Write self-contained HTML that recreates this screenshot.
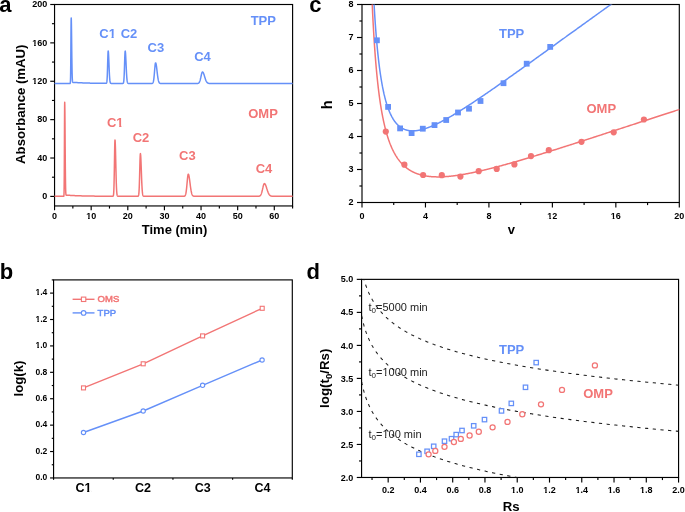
<!DOCTYPE html>
<html><head><meta charset="utf-8"><title>Figure</title><style>
html,body{margin:0;padding:0;background:#fff;width:685px;height:512px;overflow:hidden}
svg{display:block;will-change:transform}
text{font-family:"Liberation Sans", sans-serif}
</style></head><body>
<svg width="685" height="512" viewBox="0 0 685 512">
<rect width="685" height="512" fill="#fff"/>
<rect x="54.55" y="4.50" width="238.05" height="201.45" fill="none" stroke="#000" stroke-width="1.15"/>
<line x1="50.25" y1="196.40" x2="54.55" y2="196.40" stroke="#000" stroke-width="1.15" />
<text x="47.25" y="199.10" font-size="9" font-weight="bold" text-anchor="end" fill="#000" >0</text>
<line x1="50.25" y1="158.02" x2="54.55" y2="158.02" stroke="#000" stroke-width="1.15" />
<text x="47.25" y="160.72" font-size="9" font-weight="bold" text-anchor="end" fill="#000" >40</text>
<line x1="50.25" y1="119.64" x2="54.55" y2="119.64" stroke="#000" stroke-width="1.15" />
<text x="47.25" y="122.34" font-size="9" font-weight="bold" text-anchor="end" fill="#000" >80</text>
<line x1="50.25" y1="81.26" x2="54.55" y2="81.26" stroke="#000" stroke-width="1.15" />
<text x="47.25" y="83.96" font-size="9" font-weight="bold" text-anchor="end" fill="#000" >120</text>
<line x1="50.25" y1="42.88" x2="54.55" y2="42.88" stroke="#000" stroke-width="1.15" />
<text x="47.25" y="45.58" font-size="9" font-weight="bold" text-anchor="end" fill="#000" >160</text>
<line x1="50.25" y1="4.50" x2="54.55" y2="4.50" stroke="#000" stroke-width="1.15" />
<text x="47.25" y="7.20" font-size="9" font-weight="bold" text-anchor="end" fill="#000" >200</text>
<line x1="51.95" y1="177.21" x2="54.55" y2="177.21" stroke="#000" stroke-width="1.15" />
<line x1="51.95" y1="138.83" x2="54.55" y2="138.83" stroke="#000" stroke-width="1.15" />
<line x1="51.95" y1="100.45" x2="54.55" y2="100.45" stroke="#000" stroke-width="1.15" />
<line x1="51.95" y1="62.07" x2="54.55" y2="62.07" stroke="#000" stroke-width="1.15" />
<line x1="51.95" y1="23.69" x2="54.55" y2="23.69" stroke="#000" stroke-width="1.15" />
<line x1="54.55" y1="205.95" x2="54.55" y2="210.25" stroke="#000" stroke-width="1.15" />
<text x="54.55" y="219.00" font-size="9" font-weight="bold" text-anchor="middle" fill="#000" >0</text>
<line x1="91.17" y1="205.95" x2="91.17" y2="210.25" stroke="#000" stroke-width="1.15" />
<text x="91.17" y="219.00" font-size="9" font-weight="bold" text-anchor="middle" fill="#000" >10</text>
<line x1="127.80" y1="205.95" x2="127.80" y2="210.25" stroke="#000" stroke-width="1.15" />
<text x="127.80" y="219.00" font-size="9" font-weight="bold" text-anchor="middle" fill="#000" >20</text>
<line x1="164.42" y1="205.95" x2="164.42" y2="210.25" stroke="#000" stroke-width="1.15" />
<text x="164.42" y="219.00" font-size="9" font-weight="bold" text-anchor="middle" fill="#000" >30</text>
<line x1="201.04" y1="205.95" x2="201.04" y2="210.25" stroke="#000" stroke-width="1.15" />
<text x="201.04" y="219.00" font-size="9" font-weight="bold" text-anchor="middle" fill="#000" >40</text>
<line x1="237.67" y1="205.95" x2="237.67" y2="210.25" stroke="#000" stroke-width="1.15" />
<text x="237.67" y="219.00" font-size="9" font-weight="bold" text-anchor="middle" fill="#000" >50</text>
<line x1="274.29" y1="205.95" x2="274.29" y2="210.25" stroke="#000" stroke-width="1.15" />
<text x="274.29" y="219.00" font-size="9" font-weight="bold" text-anchor="middle" fill="#000" >60</text>
<line x1="72.86" y1="205.95" x2="72.86" y2="208.55" stroke="#000" stroke-width="1.15" />
<line x1="109.48" y1="205.95" x2="109.48" y2="208.55" stroke="#000" stroke-width="1.15" />
<line x1="146.11" y1="205.95" x2="146.11" y2="208.55" stroke="#000" stroke-width="1.15" />
<line x1="182.73" y1="205.95" x2="182.73" y2="208.55" stroke="#000" stroke-width="1.15" />
<line x1="219.35" y1="205.95" x2="219.35" y2="208.55" stroke="#000" stroke-width="1.15" />
<line x1="255.98" y1="205.95" x2="255.98" y2="208.55" stroke="#000" stroke-width="1.15" />
<line x1="292.60" y1="205.95" x2="292.60" y2="208.55" stroke="#000" stroke-width="1.15" />
<text x="174.50" y="233.60" font-size="13" font-weight="bold" text-anchor="middle" fill="#000" >Time (min)</text>
<text x="0.00" y="0.00" font-size="13.2" font-weight="bold" text-anchor="middle" fill="#000" transform="translate(25.0,104.2) rotate(-90)">Absorbance (mAU)</text>
<path d="M54.55,83.50 L54.64,83.50 L54.73,83.50 L54.82,83.50 L54.92,83.50 L55.01,83.50 L55.10,83.50 L55.19,83.50 L55.28,83.50 L55.37,83.50 L55.47,83.50 L55.56,83.50 L55.65,83.50 L55.74,83.50 L55.83,83.50 L55.92,83.50 L56.01,83.50 L56.11,83.50 L56.20,83.50 L56.29,83.50 L56.38,83.50 L56.47,83.50 L56.56,83.50 L56.66,83.50 L56.75,83.50 L56.84,83.50 L56.93,83.50 L57.02,83.50 L57.11,83.50 L57.21,83.50 L57.30,83.50 L57.39,83.50 L57.48,83.50 L57.57,83.50 L57.66,83.50 L57.75,83.50 L57.85,83.50 L57.94,83.50 L58.03,83.50 L58.12,83.50 L58.21,83.50 L58.30,83.50 L58.40,83.50 L58.49,83.50 L58.58,83.50 L58.67,83.50 L58.76,83.50 L58.85,83.50 L58.94,83.50 L59.04,83.50 L59.13,83.50 L59.22,83.50 L59.31,83.50 L59.40,83.50 L59.49,83.50 L59.59,83.50 L59.68,83.50 L59.77,83.50 L59.86,83.50 L59.95,83.50 L60.04,83.50 L60.14,83.50 L60.23,83.50 L60.32,83.50 L60.41,83.50 L60.50,83.50 L60.59,83.50 L60.68,83.50 L60.78,83.50 L60.87,83.50 L60.96,83.50 L61.05,83.50 L61.14,83.50 L61.23,83.50 L61.33,83.50 L61.42,83.50 L61.51,83.50 L61.60,83.50 L61.69,83.50 L61.78,83.50 L61.87,83.50 L61.97,83.50 L62.06,83.50 L62.15,83.50 L62.24,83.50 L62.33,83.50 L62.42,83.50 L62.52,83.50 L62.61,83.50 L62.70,83.50 L62.79,83.50 L62.88,83.50 L62.97,83.50 L63.06,83.50 L63.16,83.50 L63.25,83.50 L63.34,83.50 L63.43,83.50 L63.52,83.50 L63.61,83.50 L63.71,83.50 L63.80,83.50 L63.89,83.50 L63.98,83.50 L64.07,83.50 L64.16,83.50 L64.26,83.50 L64.35,83.50 L64.44,83.50 L64.53,83.50 L64.62,83.50 L64.71,83.50 L64.80,83.50 L64.90,83.50 L64.99,83.50 L65.08,83.50 L65.17,83.50 L65.26,83.50 L65.35,83.50 L65.45,83.50 L65.54,83.50 L65.63,83.50 L65.72,83.50 L65.81,83.50 L65.90,83.50 L65.99,83.50 L66.09,83.50 L66.18,83.50 L66.27,83.50 L66.36,83.50 L66.45,83.50 L66.54,83.50 L66.64,83.50 L66.73,83.50 L66.82,83.50 L66.91,83.50 L67.00,83.50 L67.09,83.50 L67.18,83.50 L67.28,83.50 L67.37,83.50 L67.46,83.50 L67.55,83.50 L67.64,83.50 L67.73,83.50 L67.83,83.50 L67.92,83.50 L68.01,83.50 L68.10,83.50 L68.19,83.50 L68.28,83.50 L68.38,83.50 L68.47,83.50 L68.56,83.50 L68.65,83.50 L68.74,83.50 L68.83,83.50 L68.92,83.50 L69.02,83.50 L69.11,83.50 L69.20,83.50 L69.29,83.50 L69.38,83.50 L69.47,83.50 L69.57,83.50 L69.66,83.50 L69.75,83.50 L69.84,83.50 L69.93,83.49 L70.02,83.48 L70.11,83.43 L70.21,83.29 L70.30,82.93 L70.39,82.07 L70.48,80.27 L70.57,76.88 L70.66,71.18 L70.76,62.72 L70.85,51.72 L70.94,39.41 L71.03,28.02 L71.12,20.19 L71.21,17.91 L71.31,19.38 L71.40,23.17 L71.49,28.84 L71.58,35.80 L71.67,43.40 L71.76,51.00 L71.85,58.09 L71.95,64.29 L72.04,69.44 L72.13,73.49 L72.22,76.53 L72.31,78.69 L72.40,80.17 L72.50,81.13 L72.59,81.72 L72.68,82.07 L72.77,82.27 L72.86,82.37 L72.95,82.42 L73.04,82.45 L73.14,82.45 L73.23,82.45 L73.32,82.45 L73.41,82.45 L73.50,82.44 L73.59,82.44 L73.69,82.44 L73.78,82.44 L73.87,82.44 L73.96,82.44 L74.05,82.44 L74.14,82.45 L74.23,82.45 L74.33,82.45 L74.42,82.45 L74.51,82.46 L74.60,82.46 L74.69,82.46 L74.78,82.47 L74.88,82.47 L74.97,82.48 L75.06,82.48 L75.15,82.49 L75.24,82.49 L75.33,82.50 L75.43,82.50 L75.52,82.51 L75.61,82.51 L75.70,82.52 L75.79,82.52 L75.88,82.53 L75.97,82.54 L76.07,82.54 L76.16,82.55 L76.25,82.55 L76.34,82.56 L76.43,82.56 L76.52,82.57 L76.62,82.57 L76.71,82.58 L76.80,82.59 L76.89,82.59 L76.98,82.60 L77.07,82.60 L77.16,82.61 L77.26,82.61 L77.35,82.62 L77.44,82.62 L77.53,82.63 L77.62,82.63 L77.71,82.64 L77.81,82.64 L77.90,82.65 L77.99,82.66 L78.08,82.66 L78.17,82.67 L78.26,82.67 L78.35,82.68 L78.45,82.68 L78.54,82.69 L78.63,82.69 L78.72,82.70 L78.81,82.70 L78.90,82.71 L79.00,82.71 L79.09,82.72 L79.18,82.72 L79.27,82.73 L79.36,82.73 L79.45,82.74 L79.55,82.74 L79.64,82.74 L79.73,82.75 L79.82,82.75 L79.91,82.76 L80.00,82.76 L80.09,82.77 L80.19,82.77 L80.28,82.78 L80.37,82.78 L80.46,82.79 L80.55,82.79 L80.64,82.80 L80.74,82.80 L80.83,82.80 L80.92,82.81 L81.01,82.81 L81.10,82.82 L81.19,82.82 L81.28,82.83 L81.38,82.83 L81.47,82.83 L81.56,82.84 L81.65,82.84 L81.74,82.85 L81.83,82.85 L81.93,82.85 L82.02,82.86 L82.11,82.86 L82.20,82.87 L82.29,82.87 L82.38,82.87 L82.48,82.88 L82.57,82.88 L82.66,82.89 L82.75,82.89 L82.84,82.89 L82.93,82.90 L83.02,82.90 L83.12,82.90 L83.21,82.91 L83.30,82.91 L83.39,82.92 L83.48,82.92 L83.57,82.92 L83.67,82.93 L83.76,82.93 L83.85,82.93 L83.94,82.94 L84.03,82.94 L84.12,82.94 L84.21,82.95 L84.31,82.95 L84.40,82.95 L84.49,82.96 L84.58,82.96 L84.67,82.96 L84.76,82.97 L84.86,82.97 L84.95,82.97 L85.04,82.98 L85.13,82.98 L85.22,82.98 L85.31,82.99 L85.40,82.99 L85.50,82.99 L85.59,83.00 L85.68,83.00 L85.77,83.00 L85.86,83.01 L85.95,83.01 L86.05,83.01 L86.14,83.02 L86.23,83.02 L86.32,83.02 L86.41,83.02 L86.50,83.03 L86.60,83.03 L86.69,83.03 L86.78,83.04 L86.87,83.04 L86.96,83.04 L87.05,83.04 L87.14,83.05 L87.24,83.05 L87.33,83.05 L87.42,83.06 L87.51,83.06 L87.60,83.06 L87.69,83.06 L87.79,83.07 L87.88,83.07 L87.97,83.07 L88.06,83.08 L88.15,83.08 L88.24,83.08 L88.33,83.08 L88.43,83.09 L88.52,83.09 L88.61,83.09 L88.70,83.09 L88.79,83.10 L88.88,83.10 L88.98,83.10 L89.07,83.10 L89.16,83.11 L89.25,83.11 L89.34,83.11 L89.43,83.11 L89.53,83.12 L89.62,83.12 L89.71,83.12 L89.80,83.12 L89.89,83.12 L89.98,83.13 L90.07,83.13 L90.17,83.13 L90.26,83.13 L90.35,83.14 L90.44,83.14 L90.53,83.14 L90.62,83.14 L90.72,83.15 L90.81,83.15 L90.90,83.15 L90.99,83.15 L91.08,83.15 L91.17,83.16 L91.26,83.16 L91.36,83.16 L91.45,83.16 L91.54,83.16 L91.63,83.17 L91.72,83.17 L91.81,83.17 L91.91,83.17 L92.00,83.18 L92.09,83.18 L92.18,83.18 L92.27,83.18 L92.36,83.18 L92.45,83.19 L92.55,83.19 L92.64,83.19 L92.73,83.19 L92.82,83.19 L92.91,83.19 L93.00,83.20 L93.10,83.20 L93.19,83.20 L93.28,83.20 L93.37,83.20 L93.46,83.21 L93.55,83.21 L93.65,83.21 L93.74,83.21 L93.83,83.21 L93.92,83.22 L94.01,83.22 L94.10,83.22 L94.19,83.22 L94.29,83.22 L94.38,83.22 L94.47,83.23 L94.56,83.23 L94.65,83.23 L94.74,83.23 L94.84,83.23 L94.93,83.23 L95.02,83.24 L95.11,83.24 L95.20,83.24 L95.29,83.24 L95.38,83.24 L95.48,83.24 L95.57,83.25 L95.66,83.25 L95.75,83.25 L95.84,83.25 L95.93,83.25 L96.03,83.25 L96.12,83.25 L96.21,83.26 L96.30,83.26 L96.39,83.26 L96.48,83.26 L96.57,83.26 L96.67,83.26 L96.76,83.27 L96.85,83.27 L96.94,83.27 L97.03,83.27 L97.12,83.27 L97.22,83.27 L97.31,83.27 L97.40,83.28 L97.49,83.28 L97.58,83.28 L97.67,83.28 L97.77,83.28 L97.86,83.28 L97.95,83.28 L98.04,83.28 L98.13,83.29 L98.22,83.29 L98.31,83.29 L98.41,83.29 L98.50,83.29 L98.59,83.29 L98.68,83.29 L98.77,83.30 L98.86,83.30 L98.96,83.30 L99.05,83.30 L99.14,83.30 L99.23,83.30 L99.32,83.30 L99.41,83.30 L99.50,83.31 L99.60,83.31 L99.69,83.31 L99.78,83.31 L99.87,83.31 L99.96,83.31 L100.05,83.31 L100.15,83.31 L100.24,83.31 L100.33,83.32 L100.42,83.32 L100.51,83.32 L100.60,83.32 L100.70,83.32 L100.79,83.32 L100.88,83.32 L100.97,83.32 L101.06,83.33 L101.15,83.33 L101.24,83.33 L101.34,83.33 L101.43,83.33 L101.52,83.33 L101.61,83.33 L101.70,83.33 L101.79,83.33 L101.89,83.33 L101.98,83.34 L102.07,83.34 L102.16,83.34 L102.25,83.34 L102.34,83.34 L102.43,83.34 L102.53,83.34 L102.62,83.34 L102.71,83.34 L102.80,83.34 L102.89,83.35 L102.98,83.35 L103.08,83.35 L103.17,83.35 L103.26,83.35 L103.35,83.35 L103.44,83.35 L103.53,83.35 L103.62,83.35 L103.72,83.35 L103.81,83.35 L103.90,83.36 L103.99,83.36 L104.08,83.36 L104.17,83.36 L104.27,83.36 L104.36,83.36 L104.45,83.36 L104.54,83.36 L104.63,83.36 L104.72,83.36 L104.82,83.36 L104.91,83.37 L105.00,83.37 L105.09,83.37 L105.18,83.37 L105.27,83.37 L105.36,83.37 L105.46,83.37 L105.55,83.37 L105.64,83.37 L105.73,83.37 L105.82,83.37 L105.91,83.37 L106.01,83.36 L106.10,83.35 L106.19,83.34 L106.28,83.31 L106.37,83.25 L106.46,83.16 L106.55,83.01 L106.65,82.79 L106.74,82.44 L106.83,81.94 L106.92,81.23 L107.01,80.25 L107.10,78.95 L107.20,77.29 L107.29,75.24 L107.38,72.79 L107.47,69.98 L107.56,66.88 L107.65,63.64 L107.75,60.40 L107.84,57.36 L107.93,54.72 L108.02,52.69 L108.11,51.41 L108.20,50.99 L108.29,51.24 L108.39,51.93 L108.48,53.04 L108.57,54.52 L108.66,56.32 L108.75,58.36 L108.84,60.57 L108.94,62.88 L109.03,65.22 L109.12,67.52 L109.21,69.72 L109.30,71.78 L109.39,73.67 L109.48,75.37 L109.58,76.87 L109.67,78.16 L109.76,79.25 L109.85,80.17 L109.94,80.92 L110.03,81.52 L110.13,82.00 L110.22,82.37 L110.31,82.65 L110.40,82.87 L110.49,83.03 L110.58,83.14 L110.67,83.23 L110.77,83.29 L110.86,83.33 L110.95,83.36 L111.04,83.38 L111.13,83.39 L111.22,83.40 L111.32,83.40 L111.41,83.41 L111.50,83.41 L111.59,83.41 L111.68,83.41 L111.77,83.42 L111.87,83.42 L111.96,83.42 L112.05,83.42 L112.14,83.42 L112.23,83.42 L112.32,83.42 L112.41,83.42 L112.51,83.42 L112.60,83.42 L112.69,83.42 L112.78,83.42 L112.87,83.42 L112.96,83.42 L113.06,83.42 L113.15,83.42 L113.24,83.42 L113.33,83.42 L113.42,83.42 L113.51,83.43 L113.60,83.43 L113.70,83.43 L113.79,83.43 L113.88,83.43 L113.97,83.43 L114.06,83.43 L114.15,83.43 L114.25,83.43 L114.34,83.43 L114.43,83.43 L114.52,83.43 L114.61,83.43 L114.70,83.43 L114.79,83.43 L114.89,83.43 L114.98,83.43 L115.07,83.43 L115.16,83.43 L115.25,83.43 L115.34,83.43 L115.44,83.43 L115.53,83.43 L115.62,83.44 L115.71,83.44 L115.80,83.44 L115.89,83.44 L115.99,83.44 L116.08,83.44 L116.17,83.44 L116.26,83.44 L116.35,83.44 L116.44,83.44 L116.53,83.44 L116.63,83.44 L116.72,83.44 L116.81,83.44 L116.90,83.44 L116.99,83.44 L117.08,83.44 L117.18,83.44 L117.27,83.44 L117.36,83.44 L117.45,83.44 L117.54,83.44 L117.63,83.44 L117.72,83.44 L117.82,83.44 L117.91,83.44 L118.00,83.44 L118.09,83.45 L118.18,83.45 L118.27,83.45 L118.37,83.45 L118.46,83.45 L118.55,83.45 L118.64,83.45 L118.73,83.45 L118.82,83.45 L118.92,83.45 L119.01,83.45 L119.10,83.45 L119.19,83.45 L119.28,83.45 L119.37,83.45 L119.46,83.45 L119.56,83.45 L119.65,83.45 L119.74,83.45 L119.83,83.45 L119.92,83.45 L120.01,83.45 L120.11,83.45 L120.20,83.45 L120.29,83.45 L120.38,83.45 L120.47,83.45 L120.56,83.45 L120.65,83.45 L120.75,83.45 L120.84,83.45 L120.93,83.45 L121.02,83.46 L121.11,83.46 L121.20,83.46 L121.30,83.46 L121.39,83.46 L121.48,83.46 L121.57,83.46 L121.66,83.46 L121.75,83.46 L121.84,83.46 L121.94,83.46 L122.03,83.46 L122.12,83.46 L122.21,83.46 L122.30,83.46 L122.39,83.46 L122.49,83.46 L122.58,83.46 L122.67,83.45 L122.76,83.45 L122.85,83.43 L122.94,83.42 L123.04,83.38 L123.13,83.33 L123.22,83.26 L123.31,83.14 L123.40,82.96 L123.49,82.71 L123.58,82.34 L123.68,81.84 L123.77,81.17 L123.86,80.28 L123.95,79.14 L124.04,77.71 L124.13,75.99 L124.23,73.95 L124.32,71.61 L124.41,69.02 L124.50,66.24 L124.59,63.36 L124.68,60.51 L124.77,57.81 L124.87,55.40 L124.96,53.43 L125.05,52.00 L125.14,51.21 L125.23,51.09 L125.32,51.39 L125.42,52.04 L125.51,53.02 L125.60,54.29 L125.69,55.81 L125.78,57.54 L125.87,59.43 L125.97,61.42 L126.06,63.48 L126.15,65.54 L126.24,67.56 L126.33,69.51 L126.42,71.36 L126.51,73.08 L126.61,74.65 L126.70,76.06 L126.79,77.32 L126.88,78.42 L126.97,79.37 L127.06,80.18 L127.16,80.85 L127.25,81.41 L127.34,81.87 L127.43,82.24 L127.52,82.54 L127.61,82.77 L127.70,82.95 L127.80,83.09 L127.89,83.19 L127.98,83.27 L128.07,83.33 L128.16,83.37 L128.25,83.40 L128.35,83.42 L128.44,83.44 L128.53,83.45 L128.62,83.46 L128.71,83.46 L128.80,83.47 L128.89,83.47 L128.99,83.47 L129.08,83.47 L129.17,83.47 L129.26,83.47 L129.35,83.47 L129.44,83.47 L129.54,83.47 L129.63,83.48 L129.72,83.48 L129.81,83.48 L129.90,83.48 L129.99,83.48 L130.09,83.48 L130.18,83.48 L130.27,83.48 L130.36,83.48 L130.45,83.48 L130.54,83.48 L130.63,83.48 L130.73,83.48 L130.82,83.48 L130.91,83.48 L131.00,83.48 L131.09,83.48 L131.18,83.48 L131.28,83.48 L131.37,83.48 L131.46,83.48 L131.55,83.48 L131.64,83.48 L131.73,83.48 L131.82,83.48 L131.92,83.48 L132.01,83.48 L132.10,83.48 L132.19,83.48 L132.28,83.48 L132.37,83.48 L132.47,83.48 L132.56,83.48 L132.65,83.48 L132.74,83.48 L132.83,83.48 L132.92,83.48 L133.01,83.48 L133.11,83.48 L133.20,83.48 L133.29,83.48 L133.38,83.48 L133.47,83.48 L133.56,83.48 L133.66,83.48 L133.75,83.48 L133.84,83.48 L133.93,83.48 L134.02,83.48 L134.11,83.48 L134.21,83.48 L134.30,83.48 L134.39,83.48 L134.48,83.48 L134.57,83.48 L134.66,83.48 L134.75,83.48 L134.85,83.48 L134.94,83.48 L135.03,83.48 L135.12,83.48 L135.21,83.48 L135.30,83.48 L135.40,83.48 L135.49,83.48 L135.58,83.48 L135.67,83.48 L135.76,83.48 L135.85,83.48 L135.94,83.48 L136.04,83.48 L136.13,83.48 L136.22,83.48 L136.31,83.48 L136.40,83.48 L136.49,83.48 L136.59,83.48 L136.68,83.48 L136.77,83.48 L136.86,83.48 L136.95,83.48 L137.04,83.48 L137.14,83.49 L137.23,83.49 L137.32,83.49 L137.41,83.49 L137.50,83.49 L137.59,83.49 L137.68,83.49 L137.78,83.49 L137.87,83.49 L137.96,83.49 L138.05,83.49 L138.14,83.49 L138.23,83.49 L138.33,83.49 L138.42,83.49 L138.51,83.49 L138.60,83.49 L138.69,83.49 L138.78,83.49 L138.87,83.49 L138.97,83.49 L139.06,83.49 L139.15,83.49 L139.24,83.49 L139.33,83.49 L139.42,83.49 L139.52,83.49 L139.61,83.49 L139.70,83.49 L139.79,83.49 L139.88,83.49 L139.97,83.49 L140.06,83.49 L140.16,83.49 L140.25,83.49 L140.34,83.49 L140.43,83.49 L140.52,83.49 L140.61,83.49 L140.71,83.49 L140.80,83.49 L140.89,83.49 L140.98,83.49 L141.07,83.49 L141.16,83.49 L141.26,83.49 L141.35,83.49 L141.44,83.49 L141.53,83.49 L141.62,83.49 L141.71,83.49 L141.80,83.49 L141.90,83.49 L141.99,83.49 L142.08,83.49 L142.17,83.49 L142.26,83.49 L142.35,83.49 L142.45,83.49 L142.54,83.49 L142.63,83.49 L142.72,83.49 L142.81,83.49 L142.90,83.49 L142.99,83.49 L143.09,83.49 L143.18,83.49 L143.27,83.49 L143.36,83.49 L143.45,83.49 L143.54,83.49 L143.64,83.49 L143.73,83.49 L143.82,83.49 L143.91,83.49 L144.00,83.49 L144.09,83.49 L144.18,83.49 L144.28,83.49 L144.37,83.49 L144.46,83.49 L144.55,83.49 L144.64,83.49 L144.73,83.49 L144.83,83.49 L144.92,83.49 L145.01,83.49 L145.10,83.49 L145.19,83.49 L145.28,83.49 L145.38,83.49 L145.47,83.49 L145.56,83.49 L145.65,83.49 L145.74,83.49 L145.83,83.49 L145.92,83.49 L146.02,83.49 L146.11,83.49 L146.20,83.49 L146.29,83.49 L146.38,83.49 L146.47,83.49 L146.57,83.49 L146.66,83.49 L146.75,83.49 L146.84,83.49 L146.93,83.49 L147.02,83.49 L147.11,83.49 L147.21,83.49 L147.30,83.49 L147.39,83.49 L147.48,83.49 L147.57,83.49 L147.66,83.49 L147.76,83.49 L147.85,83.49 L147.94,83.49 L148.03,83.49 L148.12,83.49 L148.21,83.49 L148.31,83.49 L148.40,83.49 L148.49,83.49 L148.58,83.49 L148.67,83.49 L148.76,83.49 L148.85,83.49 L148.95,83.49 L149.04,83.49 L149.13,83.49 L149.22,83.49 L149.31,83.49 L149.40,83.49 L149.50,83.49 L149.59,83.49 L149.68,83.49 L149.77,83.49 L149.86,83.49 L149.95,83.49 L150.04,83.49 L150.14,83.49 L150.23,83.49 L150.32,83.49 L150.41,83.49 L150.50,83.49 L150.59,83.49 L150.69,83.49 L150.78,83.49 L150.87,83.49 L150.96,83.49 L151.05,83.49 L151.14,83.49 L151.23,83.49 L151.33,83.49 L151.42,83.49 L151.51,83.49 L151.60,83.48 L151.69,83.48 L151.78,83.47 L151.88,83.47 L151.97,83.46 L152.06,83.44 L152.15,83.42 L152.24,83.40 L152.33,83.37 L152.43,83.32 L152.52,83.27 L152.61,83.20 L152.70,83.12 L152.79,83.01 L152.88,82.88 L152.97,82.72 L153.07,82.52 L153.16,82.29 L153.25,82.01 L153.34,81.68 L153.43,81.29 L153.52,80.84 L153.62,80.33 L153.71,79.75 L153.80,79.09 L153.89,78.37 L153.98,77.57 L154.07,76.70 L154.16,75.76 L154.26,74.76 L154.35,73.72 L154.44,72.64 L154.53,71.53 L154.62,70.42 L154.71,69.31 L154.81,68.23 L154.90,67.21 L154.99,66.25 L155.08,65.38 L155.17,64.61 L155.26,63.98 L155.36,63.48 L155.45,63.13 L155.54,62.93 L155.63,62.90 L155.72,62.97 L155.81,63.12 L155.90,63.35 L156.00,63.66 L156.09,64.05 L156.18,64.51 L156.27,65.03 L156.36,65.60 L156.45,66.23 L156.55,66.91 L156.64,67.63 L156.73,68.37 L156.82,69.14 L156.91,69.92 L157.00,70.72 L157.09,71.51 L157.19,72.31 L157.28,73.09 L157.37,73.86 L157.46,74.60 L157.55,75.33 L157.64,76.02 L157.74,76.68 L157.83,77.31 L157.92,77.91 L158.01,78.46 L158.10,78.98 L158.19,79.47 L158.28,79.91 L158.38,80.32 L158.47,80.70 L158.56,81.04 L158.65,81.34 L158.74,81.62 L158.83,81.87 L158.93,82.09 L159.02,82.28 L159.11,82.46 L159.20,82.61 L159.29,82.74 L159.38,82.86 L159.48,82.96 L159.57,83.04 L159.66,83.12 L159.75,83.18 L159.84,83.23 L159.93,83.28 L160.02,83.32 L160.12,83.35 L160.21,83.38 L160.30,83.40 L160.39,83.42 L160.48,83.43 L160.57,83.45 L160.67,83.46 L160.76,83.46 L160.85,83.47 L160.94,83.48 L161.03,83.48 L161.12,83.48 L161.21,83.49 L161.31,83.49 L161.40,83.49 L161.49,83.49 L161.58,83.49 L161.67,83.49 L161.76,83.50 L161.86,83.50 L161.95,83.50 L162.04,83.50 L162.13,83.50 L162.22,83.50 L162.31,83.50 L162.40,83.50 L162.50,83.50 L162.59,83.50 L162.68,83.50 L162.77,83.50 L162.86,83.50 L162.95,83.50 L163.05,83.50 L163.14,83.50 L163.23,83.50 L163.32,83.50 L163.41,83.50 L163.50,83.50 L163.60,83.50 L163.69,83.50 L163.78,83.50 L163.87,83.50 L163.96,83.50 L164.05,83.50 L164.14,83.50 L164.24,83.50 L164.33,83.50 L164.42,83.50 L164.51,83.50 L164.60,83.50 L164.69,83.50 L164.79,83.50 L164.88,83.50 L164.97,83.50 L165.06,83.50 L165.15,83.50 L165.24,83.50 L165.33,83.50 L165.43,83.50 L165.52,83.50 L165.61,83.50 L165.70,83.50 L165.79,83.50 L165.88,83.50 L165.98,83.50 L166.07,83.50 L166.16,83.50 L166.25,83.50 L166.34,83.50 L166.43,83.50 L166.53,83.50 L166.62,83.50 L166.71,83.50 L166.80,83.50 L166.89,83.50 L166.98,83.50 L167.07,83.50 L167.17,83.50 L167.26,83.50 L167.35,83.50 L167.44,83.50 L167.53,83.50 L167.62,83.50 L167.72,83.50 L167.81,83.50 L167.90,83.50 L167.99,83.50 L168.08,83.50 L168.17,83.50 L168.26,83.50 L168.36,83.50 L168.45,83.50 L168.54,83.50 L168.63,83.50 L168.72,83.50 L168.81,83.50 L168.91,83.50 L169.00,83.50 L169.09,83.50 L169.18,83.50 L169.27,83.50 L169.36,83.50 L169.45,83.50 L169.55,83.50 L169.64,83.50 L169.73,83.50 L169.82,83.50 L169.91,83.50 L170.00,83.50 L170.10,83.50 L170.19,83.50 L170.28,83.50 L170.37,83.50 L170.46,83.50 L170.55,83.50 L170.65,83.50 L170.74,83.50 L170.83,83.50 L170.92,83.50 L171.01,83.50 L171.10,83.50 L171.19,83.50 L171.29,83.50 L171.38,83.50 L171.47,83.50 L171.56,83.50 L171.65,83.50 L171.74,83.50 L171.84,83.50 L171.93,83.50 L172.02,83.50 L172.11,83.50 L172.20,83.50 L172.29,83.50 L172.38,83.50 L172.48,83.50 L172.57,83.50 L172.66,83.50 L172.75,83.50 L172.84,83.50 L172.93,83.50 L173.03,83.50 L173.12,83.50 L173.21,83.50 L173.30,83.50 L173.39,83.50 L173.48,83.50 L173.57,83.50 L173.67,83.50 L173.76,83.50 L173.85,83.50 L173.94,83.50 L174.03,83.50 L174.12,83.50 L174.22,83.50 L174.31,83.50 L174.40,83.50 L174.49,83.50 L174.58,83.50 L174.67,83.50 L174.77,83.50 L174.86,83.50 L174.95,83.50 L175.04,83.50 L175.13,83.50 L175.22,83.50 L175.31,83.50 L175.41,83.50 L175.50,83.50 L175.59,83.50 L175.68,83.50 L175.77,83.50 L175.86,83.50 L175.96,83.50 L176.05,83.50 L176.14,83.50 L176.23,83.50 L176.32,83.50 L176.41,83.50 L176.50,83.50 L176.60,83.50 L176.69,83.50 L176.78,83.50 L176.87,83.50 L176.96,83.50 L177.05,83.50 L177.15,83.50 L177.24,83.50 L177.33,83.50 L177.42,83.50 L177.51,83.50 L177.60,83.50 L177.70,83.50 L177.79,83.50 L177.88,83.50 L177.97,83.50 L178.06,83.50 L178.15,83.50 L178.24,83.50 L178.34,83.50 L178.43,83.50 L178.52,83.50 L178.61,83.50 L178.70,83.50 L178.79,83.50 L178.89,83.50 L178.98,83.50 L179.07,83.50 L179.16,83.50 L179.25,83.50 L179.34,83.50 L179.43,83.50 L179.53,83.50 L179.62,83.50 L179.71,83.50 L179.80,83.50 L179.89,83.50 L179.98,83.50 L180.08,83.50 L180.17,83.50 L180.26,83.50 L180.35,83.50 L180.44,83.50 L180.53,83.50 L180.62,83.50 L180.72,83.50 L180.81,83.50 L180.90,83.50 L180.99,83.50 L181.08,83.50 L181.17,83.50 L181.27,83.50 L181.36,83.50 L181.45,83.50 L181.54,83.50 L181.63,83.50 L181.72,83.50 L181.82,83.50 L181.91,83.50 L182.00,83.50 L182.09,83.50 L182.18,83.50 L182.27,83.50 L182.36,83.50 L182.46,83.50 L182.55,83.50 L182.64,83.50 L182.73,83.50 L182.82,83.50 L182.91,83.50 L183.01,83.50 L183.10,83.50 L183.19,83.50 L183.28,83.50 L183.37,83.50 L183.46,83.50 L183.55,83.50 L183.65,83.50 L183.74,83.50 L183.83,83.50 L183.92,83.50 L184.01,83.50 L184.10,83.50 L184.20,83.50 L184.29,83.50 L184.38,83.50 L184.47,83.50 L184.56,83.50 L184.65,83.50 L184.75,83.50 L184.84,83.50 L184.93,83.50 L185.02,83.50 L185.11,83.50 L185.20,83.50 L185.29,83.50 L185.39,83.50 L185.48,83.50 L185.57,83.50 L185.66,83.50 L185.75,83.50 L185.84,83.50 L185.94,83.50 L186.03,83.50 L186.12,83.50 L186.21,83.50 L186.30,83.50 L186.39,83.50 L186.48,83.50 L186.58,83.50 L186.67,83.50 L186.76,83.50 L186.85,83.50 L186.94,83.50 L187.03,83.50 L187.13,83.50 L187.22,83.50 L187.31,83.50 L187.40,83.50 L187.49,83.50 L187.58,83.50 L187.67,83.50 L187.77,83.50 L187.86,83.50 L187.95,83.50 L188.04,83.50 L188.13,83.50 L188.22,83.50 L188.32,83.50 L188.41,83.50 L188.50,83.50 L188.59,83.50 L188.68,83.50 L188.77,83.50 L188.87,83.50 L188.96,83.50 L189.05,83.50 L189.14,83.50 L189.23,83.50 L189.32,83.50 L189.41,83.50 L189.51,83.50 L189.60,83.50 L189.69,83.50 L189.78,83.50 L189.87,83.50 L189.96,83.50 L190.06,83.50 L190.15,83.50 L190.24,83.50 L190.33,83.50 L190.42,83.50 L190.51,83.50 L190.60,83.50 L190.70,83.50 L190.79,83.50 L190.88,83.50 L190.97,83.50 L191.06,83.50 L191.15,83.50 L191.25,83.50 L191.34,83.50 L191.43,83.50 L191.52,83.50 L191.61,83.50 L191.70,83.50 L191.79,83.50 L191.89,83.50 L191.98,83.50 L192.07,83.50 L192.16,83.50 L192.25,83.50 L192.34,83.50 L192.44,83.50 L192.53,83.50 L192.62,83.50 L192.71,83.50 L192.80,83.50 L192.89,83.50 L192.99,83.50 L193.08,83.50 L193.17,83.50 L193.26,83.50 L193.35,83.50 L193.44,83.50 L193.53,83.50 L193.63,83.50 L193.72,83.50 L193.81,83.50 L193.90,83.50 L193.99,83.50 L194.08,83.50 L194.18,83.50 L194.27,83.50 L194.36,83.50 L194.45,83.50 L194.54,83.50 L194.63,83.50 L194.72,83.50 L194.82,83.50 L194.91,83.50 L195.00,83.50 L195.09,83.50 L195.18,83.50 L195.27,83.50 L195.37,83.50 L195.46,83.50 L195.55,83.50 L195.64,83.50 L195.73,83.50 L195.82,83.50 L195.92,83.50 L196.01,83.50 L196.10,83.50 L196.19,83.50 L196.28,83.50 L196.37,83.50 L196.46,83.50 L196.56,83.50 L196.65,83.49 L196.74,83.49 L196.83,83.49 L196.92,83.49 L197.01,83.49 L197.11,83.48 L197.20,83.48 L197.29,83.47 L197.38,83.47 L197.47,83.46 L197.56,83.45 L197.65,83.44 L197.75,83.42 L197.84,83.41 L197.93,83.39 L198.02,83.37 L198.11,83.34 L198.20,83.31 L198.30,83.27 L198.39,83.23 L198.48,83.18 L198.57,83.13 L198.66,83.06 L198.75,82.99 L198.84,82.91 L198.94,82.81 L199.03,82.71 L199.12,82.59 L199.21,82.46 L199.30,82.31 L199.39,82.15 L199.49,81.97 L199.58,81.77 L199.67,81.56 L199.76,81.32 L199.85,81.07 L199.94,80.80 L200.04,80.51 L200.13,80.20 L200.22,79.88 L200.31,79.53 L200.40,79.17 L200.49,78.79 L200.58,78.40 L200.68,78.00 L200.77,77.59 L200.86,77.17 L200.95,76.75 L201.04,76.32 L201.13,75.90 L201.23,75.48 L201.32,75.07 L201.41,74.67 L201.50,74.29 L201.59,73.92 L201.68,73.58 L201.77,73.27 L201.87,72.98 L201.96,72.73 L202.05,72.51 L202.14,72.32 L202.23,72.18 L202.32,72.08 L202.42,72.02 L202.51,72.00 L202.60,72.01 L202.69,72.05 L202.78,72.10 L202.87,72.18 L202.97,72.28 L203.06,72.40 L203.15,72.53 L203.24,72.69 L203.33,72.86 L203.42,73.06 L203.51,73.26 L203.61,73.49 L203.70,73.72 L203.79,73.97 L203.88,74.23 L203.97,74.50 L204.06,74.78 L204.16,75.07 L204.25,75.36 L204.34,75.65 L204.43,75.95 L204.52,76.26 L204.61,76.56 L204.70,76.86 L204.80,77.17 L204.89,77.47 L204.98,77.76 L205.07,78.06 L205.16,78.34 L205.25,78.62 L205.35,78.90 L205.44,79.17 L205.53,79.43 L205.62,79.68 L205.71,79.92 L205.80,80.15 L205.89,80.38 L205.99,80.59 L206.08,80.80 L206.17,80.99 L206.26,81.18 L206.35,81.36 L206.44,81.52 L206.54,81.68 L206.63,81.83 L206.72,81.96 L206.81,82.09 L206.90,82.22 L206.99,82.33 L207.09,82.43 L207.18,82.53 L207.27,82.62 L207.36,82.71 L207.45,82.78 L207.54,82.85 L207.63,82.92 L207.73,82.98 L207.82,83.03 L207.91,83.08 L208.00,83.13 L208.09,83.17 L208.18,83.20 L208.28,83.24 L208.37,83.27 L208.46,83.29 L208.55,83.32 L208.64,83.34 L208.73,83.36 L208.82,83.38 L208.92,83.39 L209.01,83.40 L209.10,83.42 L209.19,83.43 L209.28,83.44 L209.37,83.45 L209.47,83.45 L209.56,83.46 L209.65,83.46 L209.74,83.47 L209.83,83.47 L209.92,83.48 L210.01,83.48 L210.11,83.48 L210.20,83.49 L210.29,83.49 L210.38,83.49 L210.47,83.49 L210.56,83.49 L210.66,83.49 L210.75,83.49 L210.84,83.50 L210.93,83.50 L211.02,83.50 L211.11,83.50 L211.21,83.50 L211.30,83.50 L211.39,83.50 L211.48,83.50 L211.57,83.50 L211.66,83.50 L211.75,83.50 L211.85,83.50 L211.94,83.50 L212.03,83.50 L212.12,83.50 L212.21,83.50 L212.30,83.50 L212.40,83.50 L212.49,83.50 L212.58,83.50 L212.67,83.50 L212.76,83.50 L212.85,83.50 L212.94,83.50 L213.04,83.50 L213.13,83.50 L213.22,83.50 L213.31,83.50 L213.40,83.50 L213.49,83.50 L213.59,83.50 L213.68,83.50 L213.77,83.50 L213.86,83.50 L213.95,83.50 L214.04,83.50 L214.14,83.50 L214.23,83.50 L214.32,83.50 L214.41,83.50 L214.50,83.50 L214.59,83.50 L214.68,83.50 L214.78,83.50 L214.87,83.50 L214.96,83.50 L215.05,83.50 L215.14,83.50 L215.23,83.50 L215.33,83.50 L215.42,83.50 L215.51,83.50 L215.60,83.50 L215.69,83.50 L215.78,83.50 L215.87,83.50 L215.97,83.50 L216.06,83.50 L216.15,83.50 L216.24,83.50 L216.33,83.50 L216.42,83.50 L216.52,83.50 L216.61,83.50 L216.70,83.50 L216.79,83.50 L216.88,83.50 L216.97,83.50 L217.06,83.50 L217.16,83.50 L217.25,83.50 L217.34,83.50 L217.43,83.50 L217.52,83.50 L217.61,83.50 L217.71,83.50 L217.80,83.50 L217.89,83.50 L217.98,83.50 L218.07,83.50 L218.16,83.50 L218.26,83.50 L218.35,83.50 L218.44,83.50 L218.53,83.50 L218.62,83.50 L218.71,83.50 L218.80,83.50 L218.90,83.50 L218.99,83.50 L219.08,83.50 L219.17,83.50 L219.26,83.50 L219.35,83.50 L219.45,83.50 L219.54,83.50 L219.63,83.50 L219.72,83.50 L219.81,83.50 L219.90,83.50 L219.99,83.50 L220.09,83.50 L220.18,83.50 L220.27,83.50 L220.36,83.50 L220.45,83.50 L220.54,83.50 L220.64,83.50 L220.73,83.50 L220.82,83.50 L220.91,83.50 L221.00,83.50 L221.09,83.50 L221.19,83.50 L221.28,83.50 L221.37,83.50 L221.46,83.50 L221.55,83.50 L221.64,83.50 L221.73,83.50 L221.83,83.50 L221.92,83.50 L222.01,83.50 L222.10,83.50 L222.19,83.50 L222.28,83.50 L222.38,83.50 L222.47,83.50 L222.56,83.50 L222.65,83.50 L222.74,83.50 L222.83,83.50 L222.92,83.50 L223.02,83.50 L223.11,83.50 L223.20,83.50 L223.29,83.50 L223.38,83.50 L223.47,83.50 L223.57,83.50 L223.66,83.50 L223.75,83.50 L223.84,83.50 L223.93,83.50 L224.02,83.50 L224.11,83.50 L224.21,83.50 L224.30,83.50 L224.39,83.50 L224.48,83.50 L224.57,83.50 L224.66,83.50 L224.76,83.50 L224.85,83.50 L224.94,83.50 L225.03,83.50 L225.12,83.50 L225.21,83.50 L225.31,83.50 L225.40,83.50 L225.49,83.50 L225.58,83.50 L225.67,83.50 L225.76,83.50 L225.85,83.50 L225.95,83.50 L226.04,83.50 L226.13,83.50 L226.22,83.50 L226.31,83.50 L226.40,83.50 L226.50,83.50 L226.59,83.50 L226.68,83.50 L226.77,83.50 L226.86,83.50 L226.95,83.50 L227.04,83.50 L227.14,83.50 L227.23,83.50 L227.32,83.50 L227.41,83.50 L227.50,83.50 L227.59,83.50 L227.69,83.50 L227.78,83.50 L227.87,83.50 L227.96,83.50 L228.05,83.50 L228.14,83.50 L228.23,83.50 L228.33,83.50 L228.42,83.50 L228.51,83.50 L228.60,83.50 L228.69,83.50 L228.78,83.50 L228.88,83.50 L228.97,83.50 L229.06,83.50 L229.15,83.50 L229.24,83.50 L229.33,83.50 L229.43,83.50 L229.52,83.50 L229.61,83.50 L229.70,83.50 L229.79,83.50 L229.88,83.50 L229.97,83.50 L230.07,83.50 L230.16,83.50 L230.25,83.50 L230.34,83.50 L230.43,83.50 L230.52,83.50 L230.62,83.50 L230.71,83.50 L230.80,83.50 L230.89,83.50 L230.98,83.50 L231.07,83.50 L231.16,83.50 L231.26,83.50 L231.35,83.50 L231.44,83.50 L231.53,83.50 L231.62,83.50 L231.71,83.50 L231.81,83.50 L231.90,83.50 L231.99,83.50 L232.08,83.50 L232.17,83.50 L232.26,83.50 L232.36,83.50 L232.45,83.50 L232.54,83.50 L232.63,83.50 L232.72,83.50 L232.81,83.50 L232.90,83.50 L233.00,83.50 L233.09,83.50 L233.18,83.50 L233.27,83.50 L233.36,83.50 L233.45,83.50 L233.55,83.50 L233.64,83.50 L233.73,83.50 L233.82,83.50 L233.91,83.50 L234.00,83.50 L234.09,83.50 L234.19,83.50 L234.28,83.50 L234.37,83.50 L234.46,83.50 L234.55,83.50 L234.64,83.50 L234.74,83.50 L234.83,83.50 L234.92,83.50 L235.01,83.50 L235.10,83.50 L235.19,83.50 L235.28,83.50 L235.38,83.50 L235.47,83.50 L235.56,83.50 L235.65,83.50 L235.74,83.50 L235.83,83.50 L235.93,83.50 L236.02,83.50 L236.11,83.50 L236.20,83.50 L236.29,83.50 L236.38,83.50 L236.48,83.50 L236.57,83.50 L236.66,83.50 L236.75,83.50 L236.84,83.50 L236.93,83.50 L237.02,83.50 L237.12,83.50 L237.21,83.50 L237.30,83.50 L237.39,83.50 L237.48,83.50 L237.57,83.50 L237.67,83.50 L237.76,83.50 L237.85,83.50 L237.94,83.50 L238.03,83.50 L238.12,83.50 L238.21,83.50 L238.31,83.50 L238.40,83.50 L238.49,83.50 L238.58,83.50 L238.67,83.50 L238.76,83.50 L238.86,83.50 L238.95,83.50 L239.04,83.50 L239.13,83.50 L239.22,83.50 L239.31,83.50 L239.40,83.50 L239.50,83.50 L239.59,83.50 L239.68,83.50 L239.77,83.50 L239.86,83.50 L239.95,83.50 L240.05,83.50 L240.14,83.50 L240.23,83.50 L240.32,83.50 L240.41,83.50 L240.50,83.50 L240.60,83.50 L240.69,83.50 L240.78,83.50 L240.87,83.50 L240.96,83.50 L241.05,83.50 L241.14,83.50 L241.24,83.50 L241.33,83.50 L241.42,83.50 L241.51,83.50 L241.60,83.50 L241.69,83.50 L241.79,83.50 L241.88,83.50 L241.97,83.50 L242.06,83.50 L242.15,83.50 L242.24,83.50 L242.33,83.50 L242.43,83.50 L242.52,83.50 L242.61,83.50 L242.70,83.50 L242.79,83.50 L242.88,83.50 L242.98,83.50 L243.07,83.50 L243.16,83.50 L243.25,83.50 L243.34,83.50 L243.43,83.50 L243.53,83.50 L243.62,83.50 L243.71,83.50 L243.80,83.50 L243.89,83.50 L243.98,83.50 L244.07,83.50 L244.17,83.50 L244.26,83.50 L244.35,83.50 L244.44,83.50 L244.53,83.50 L244.62,83.50 L244.72,83.50 L244.81,83.50 L244.90,83.50 L244.99,83.50 L245.08,83.50 L245.17,83.50 L245.26,83.50 L245.36,83.50 L245.45,83.50 L245.54,83.50 L245.63,83.50 L245.72,83.50 L245.81,83.50 L245.91,83.50 L246.00,83.50 L246.09,83.50 L246.18,83.50 L246.27,83.50 L246.36,83.50 L246.45,83.50 L246.55,83.50 L246.64,83.50 L246.73,83.50 L246.82,83.50 L246.91,83.50 L247.00,83.50 L247.10,83.50 L247.19,83.50 L247.28,83.50 L247.37,83.50 L247.46,83.50 L247.55,83.50 L247.65,83.50 L247.74,83.50 L247.83,83.50 L247.92,83.50 L248.01,83.50 L248.10,83.50 L248.19,83.50 L248.29,83.50 L248.38,83.50 L248.47,83.50 L248.56,83.50 L248.65,83.50 L248.74,83.50 L248.84,83.50 L248.93,83.50 L249.02,83.50 L249.11,83.50 L249.20,83.50 L249.29,83.50 L249.38,83.50 L249.48,83.50 L249.57,83.50 L249.66,83.50 L249.75,83.50 L249.84,83.50 L249.93,83.50 L250.03,83.50 L250.12,83.50 L250.21,83.50 L250.30,83.50 L250.39,83.50 L250.48,83.50 L250.58,83.50 L250.67,83.50 L250.76,83.50 L250.85,83.50 L250.94,83.50 L251.03,83.50 L251.12,83.50 L251.22,83.50 L251.31,83.50 L251.40,83.50 L251.49,83.50 L251.58,83.50 L251.67,83.50 L251.77,83.50 L251.86,83.50 L251.95,83.50 L252.04,83.50 L252.13,83.50 L252.22,83.50 L252.31,83.50 L252.41,83.50 L252.50,83.50 L252.59,83.50 L252.68,83.50 L252.77,83.50 L252.86,83.50 L252.96,83.50 L253.05,83.50 L253.14,83.50 L253.23,83.50 L253.32,83.50 L253.41,83.50 L253.50,83.50 L253.60,83.50 L253.69,83.50 L253.78,83.50 L253.87,83.50 L253.96,83.50 L254.05,83.50 L254.15,83.50 L254.24,83.50 L254.33,83.50 L254.42,83.50 L254.51,83.50 L254.60,83.50 L254.70,83.50 L254.79,83.50 L254.88,83.50 L254.97,83.50 L255.06,83.50 L255.15,83.50 L255.24,83.50 L255.34,83.50 L255.43,83.50 L255.52,83.50 L255.61,83.50 L255.70,83.50 L255.79,83.50 L255.89,83.50 L255.98,83.50 L256.07,83.50 L256.16,83.50 L256.25,83.50 L256.34,83.50 L256.43,83.50 L256.53,83.50 L256.62,83.50 L256.71,83.50 L256.80,83.50 L256.89,83.50 L256.98,83.50 L257.08,83.50 L257.17,83.50 L257.26,83.50 L257.35,83.50 L257.44,83.50 L257.53,83.50 L257.62,83.50 L257.72,83.50 L257.81,83.50 L257.90,83.50 L257.99,83.50 L258.08,83.50 L258.17,83.50 L258.27,83.50 L258.36,83.50 L258.45,83.50 L258.54,83.50 L258.63,83.50 L258.72,83.50 L258.82,83.50 L258.91,83.50 L259.00,83.50 L259.09,83.50 L259.18,83.50 L259.27,83.50 L259.36,83.50 L259.46,83.50 L259.55,83.50 L259.64,83.50 L259.73,83.50 L259.82,83.50 L259.91,83.50 L260.01,83.50 L260.10,83.50 L260.19,83.50 L260.28,83.50 L260.37,83.50 L260.46,83.50 L260.55,83.50 L260.65,83.50 L260.74,83.50 L260.83,83.50 L260.92,83.50 L261.01,83.50 L261.10,83.50 L261.20,83.50 L261.29,83.50 L261.38,83.50 L261.47,83.50 L261.56,83.50 L261.65,83.50 L261.75,83.50 L261.84,83.50 L261.93,83.50 L262.02,83.50 L262.11,83.50 L262.20,83.50 L262.29,83.50 L262.39,83.50 L262.48,83.50 L262.57,83.50 L262.66,83.50 L262.75,83.50 L262.84,83.50 L262.94,83.50 L263.03,83.50 L263.12,83.50 L263.21,83.50 L263.30,83.50 L263.39,83.50 L263.48,83.50 L263.58,83.50 L263.67,83.50 L263.76,83.50 L263.85,83.50 L263.94,83.50 L264.03,83.50 L264.13,83.50 L264.22,83.50 L264.31,83.50 L264.40,83.50 L264.49,83.50 L264.58,83.50 L264.67,83.50 L264.77,83.50 L264.86,83.50 L264.95,83.50 L265.04,83.50 L265.13,83.50 L265.22,83.50 L265.32,83.50 L265.41,83.50 L265.50,83.50 L265.59,83.50 L265.68,83.50 L265.77,83.50 L265.87,83.50 L265.96,83.50 L266.05,83.50 L266.14,83.50 L266.23,83.50 L266.32,83.50 L266.41,83.50 L266.51,83.50 L266.60,83.50 L266.69,83.50 L266.78,83.50 L266.87,83.50 L266.96,83.50 L267.06,83.50 L267.15,83.50 L267.24,83.50 L267.33,83.50 L267.42,83.50 L267.51,83.50 L267.60,83.50 L267.70,83.50 L267.79,83.50 L267.88,83.50 L267.97,83.50 L268.06,83.50 L268.15,83.50 L268.25,83.50 L268.34,83.50 L268.43,83.50 L268.52,83.50 L268.61,83.50 L268.70,83.50 L268.80,83.50 L268.89,83.50 L268.98,83.50 L269.07,83.50 L269.16,83.50 L269.25,83.50 L269.34,83.50 L269.44,83.50 L269.53,83.50 L269.62,83.50 L269.71,83.50 L269.80,83.50 L269.89,83.50 L269.99,83.50 L270.08,83.50 L270.17,83.50 L270.26,83.50 L270.35,83.50 L270.44,83.50 L270.53,83.50 L270.63,83.50 L270.72,83.50 L270.81,83.50 L270.90,83.50 L270.99,83.50 L271.08,83.50 L271.18,83.50 L271.27,83.50 L271.36,83.50 L271.45,83.50 L271.54,83.50 L271.63,83.50 L271.72,83.50 L271.82,83.50 L271.91,83.50 L272.00,83.50 L272.09,83.50 L272.18,83.50 L272.27,83.50 L272.37,83.50 L272.46,83.50 L272.55,83.50 L272.64,83.50 L272.73,83.50 L272.82,83.50 L272.92,83.50 L273.01,83.50 L273.10,83.50 L273.19,83.50 L273.28,83.50 L273.37,83.50 L273.46,83.50 L273.56,83.50 L273.65,83.50 L273.74,83.50 L273.83,83.50 L273.92,83.50 L274.01,83.50 L274.11,83.50 L274.20,83.50 L274.29,83.50 L274.38,83.50 L274.47,83.50 L274.56,83.50 L274.65,83.50 L274.75,83.50 L274.84,83.50 L274.93,83.50 L275.02,83.50 L275.11,83.50 L275.20,83.50 L275.30,83.50 L275.39,83.50 L275.48,83.50 L275.57,83.50 L275.66,83.50 L275.75,83.50 L275.84,83.50 L275.94,83.50 L276.03,83.50 L276.12,83.50 L276.21,83.50 L276.30,83.50 L276.39,83.50 L276.49,83.50 L276.58,83.50 L276.67,83.50 L276.76,83.50 L276.85,83.50 L276.94,83.50 L277.04,83.50 L277.13,83.50 L277.22,83.50 L277.31,83.50 L277.40,83.50 L277.49,83.50 L277.58,83.50 L277.68,83.50 L277.77,83.50 L277.86,83.50 L277.95,83.50 L278.04,83.50 L278.13,83.50 L278.23,83.50 L278.32,83.50 L278.41,83.50 L278.50,83.50 L278.59,83.50 L278.68,83.50 L278.77,83.50 L278.87,83.50 L278.96,83.50 L279.05,83.50 L279.14,83.50 L279.23,83.50 L279.32,83.50 L279.42,83.50 L279.51,83.50 L279.60,83.50 L279.69,83.50 L279.78,83.50 L279.87,83.50 L279.97,83.50 L280.06,83.50 L280.15,83.50 L280.24,83.50 L280.33,83.50 L280.42,83.50 L280.51,83.50 L280.61,83.50 L280.70,83.50 L280.79,83.50 L280.88,83.50 L280.97,83.50 L281.06,83.50 L281.16,83.50 L281.25,83.50 L281.34,83.50 L281.43,83.50 L281.52,83.50 L281.61,83.50 L281.70,83.50 L281.80,83.50 L281.89,83.50 L281.98,83.50 L282.07,83.50 L282.16,83.50 L282.25,83.50 L282.35,83.50 L282.44,83.50 L282.53,83.50 L282.62,83.50 L282.71,83.50 L282.80,83.50 L282.89,83.50 L282.99,83.50 L283.08,83.50 L283.17,83.50 L283.26,83.50 L283.35,83.50 L283.44,83.50 L283.54,83.50 L283.63,83.50 L283.72,83.50 L283.81,83.50 L283.90,83.50 L283.99,83.50 L284.09,83.50 L284.18,83.50 L284.27,83.50 L284.36,83.50 L284.45,83.50 L284.54,83.50 L284.63,83.50 L284.73,83.50 L284.82,83.50 L284.91,83.50 L285.00,83.50 L285.09,83.50 L285.18,83.50 L285.28,83.50 L285.37,83.50 L285.46,83.50 L285.55,83.50 L285.64,83.50 L285.73,83.50 L285.82,83.50 L285.92,83.50 L286.01,83.50 L286.10,83.50 L286.19,83.50 L286.28,83.50 L286.37,83.50 L286.47,83.50 L286.56,83.50 L286.65,83.50 L286.74,83.50 L286.83,83.50 L286.92,83.50 L287.01,83.50 L287.11,83.50 L287.20,83.50 L287.29,83.50 L287.38,83.50 L287.47,83.50 L287.56,83.50 L287.66,83.50 L287.75,83.50 L287.84,83.50 L287.93,83.50 L288.02,83.50 L288.11,83.50 L288.21,83.50 L288.30,83.50 L288.39,83.50 L288.48,83.50 L288.57,83.50 L288.66,83.50 L288.75,83.50 L288.85,83.50 L288.94,83.50 L289.03,83.50 L289.12,83.50 L289.21,83.50 L289.30,83.50 L289.40,83.50 L289.49,83.50 L289.58,83.50 L289.67,83.50 L289.76,83.50 L289.85,83.50 L289.94,83.50 L290.04,83.50 L290.13,83.50 L290.22,83.50 L290.31,83.50 L290.40,83.50 L290.49,83.50 L290.59,83.50 L290.68,83.50 L290.77,83.50 L290.86,83.50 L290.95,83.50 L291.04,83.50 L291.14,83.50 L291.23,83.50 L291.32,83.50 L291.41,83.50 L291.50,83.50 L291.59,83.50 L291.68,83.50 L291.78,83.50 L291.87,83.50 L291.96,83.50 L292.05,83.50 L292.14,83.50 L292.23,83.50 L292.33,83.50 L292.42,83.50 L292.51,83.50 L292.60,83.50" fill="none" stroke="#6590f8" stroke-width="1.5" stroke-linejoin="round" />
<path d="M54.55,196.30 L54.64,196.30 L54.73,196.30 L54.82,196.30 L54.92,196.30 L55.01,196.30 L55.10,196.30 L55.19,196.30 L55.28,196.30 L55.37,196.30 L55.47,196.30 L55.56,196.30 L55.65,196.30 L55.74,196.30 L55.83,196.30 L55.92,196.30 L56.01,196.30 L56.11,196.30 L56.20,196.30 L56.29,196.30 L56.38,196.30 L56.47,196.30 L56.56,196.30 L56.66,196.30 L56.75,196.30 L56.84,196.30 L56.93,196.30 L57.02,196.30 L57.11,196.30 L57.21,196.30 L57.30,196.30 L57.39,196.30 L57.48,196.30 L57.57,196.30 L57.66,196.30 L57.75,196.30 L57.85,196.30 L57.94,196.30 L58.03,196.30 L58.12,196.30 L58.21,196.30 L58.30,196.30 L58.40,196.30 L58.49,196.30 L58.58,196.30 L58.67,196.30 L58.76,196.30 L58.85,196.30 L58.94,196.30 L59.04,196.30 L59.13,196.30 L59.22,196.30 L59.31,196.30 L59.40,196.30 L59.49,196.30 L59.59,196.30 L59.68,196.30 L59.77,196.30 L59.86,196.30 L59.95,196.30 L60.04,196.30 L60.14,196.30 L60.23,196.30 L60.32,196.30 L60.41,196.30 L60.50,196.30 L60.59,196.30 L60.68,196.30 L60.78,196.30 L60.87,196.30 L60.96,196.30 L61.05,196.30 L61.14,196.30 L61.23,196.30 L61.33,196.30 L61.42,196.30 L61.51,196.30 L61.60,196.30 L61.69,196.30 L61.78,196.30 L61.87,196.30 L61.97,196.30 L62.06,196.30 L62.15,196.30 L62.24,196.30 L62.33,196.30 L62.42,196.30 L62.52,196.30 L62.61,196.30 L62.70,196.30 L62.79,196.30 L62.88,196.30 L62.97,196.30 L63.06,196.30 L63.16,196.30 L63.25,196.30 L63.34,196.30 L63.43,196.30 L63.52,196.30 L63.61,196.29 L63.71,196.25 L63.80,196.11 L63.89,195.67 L63.98,194.47 L64.07,191.62 L64.16,185.76 L64.26,175.42 L64.35,159.90 L64.44,140.43 L64.53,120.81 L64.62,106.53 L64.71,102.23 L64.80,105.06 L64.90,112.10 L64.99,122.35 L65.08,134.47 L65.17,147.06 L65.26,158.93 L65.35,169.23 L65.45,177.54 L65.54,183.80 L65.63,188.24 L65.72,191.19 L65.81,193.03 L65.90,194.12 L65.99,194.72 L66.09,195.04 L66.18,195.18 L66.27,195.25 L66.36,195.27 L66.45,195.27 L66.54,195.27 L66.64,195.26 L66.73,195.26 L66.82,195.25 L66.91,195.25 L67.00,195.24 L67.09,195.24 L67.18,195.24 L67.28,195.24 L67.37,195.24 L67.46,195.24 L67.55,195.24 L67.64,195.25 L67.73,195.25 L67.83,195.25 L67.92,195.25 L68.01,195.26 L68.10,195.26 L68.19,195.26 L68.28,195.27 L68.38,195.27 L68.47,195.28 L68.56,195.28 L68.65,195.29 L68.74,195.29 L68.83,195.30 L68.92,195.30 L69.02,195.31 L69.11,195.31 L69.20,195.32 L69.29,195.32 L69.38,195.33 L69.47,195.34 L69.57,195.34 L69.66,195.35 L69.75,195.35 L69.84,195.36 L69.93,195.36 L70.02,195.37 L70.11,195.37 L70.21,195.38 L70.30,195.39 L70.39,195.39 L70.48,195.40 L70.57,195.40 L70.66,195.41 L70.76,195.41 L70.85,195.42 L70.94,195.42 L71.03,195.43 L71.12,195.43 L71.21,195.44 L71.31,195.44 L71.40,195.45 L71.49,195.46 L71.58,195.46 L71.67,195.47 L71.76,195.47 L71.85,195.48 L71.95,195.48 L72.04,195.49 L72.13,195.49 L72.22,195.50 L72.31,195.50 L72.40,195.51 L72.50,195.51 L72.59,195.52 L72.68,195.52 L72.77,195.53 L72.86,195.53 L72.95,195.54 L73.04,195.54 L73.14,195.54 L73.23,195.55 L73.32,195.55 L73.41,195.56 L73.50,195.56 L73.59,195.57 L73.69,195.57 L73.78,195.58 L73.87,195.58 L73.96,195.59 L74.05,195.59 L74.14,195.59 L74.23,195.60 L74.33,195.60 L74.42,195.61 L74.51,195.61 L74.60,195.62 L74.69,195.62 L74.78,195.63 L74.88,195.63 L74.97,195.63 L75.06,195.64 L75.15,195.64 L75.24,195.65 L75.33,195.65 L75.43,195.65 L75.52,195.66 L75.61,195.66 L75.70,195.67 L75.79,195.67 L75.88,195.67 L75.97,195.68 L76.07,195.68 L76.16,195.69 L76.25,195.69 L76.34,195.69 L76.43,195.70 L76.52,195.70 L76.62,195.70 L76.71,195.71 L76.80,195.71 L76.89,195.72 L76.98,195.72 L77.07,195.72 L77.16,195.73 L77.26,195.73 L77.35,195.73 L77.44,195.74 L77.53,195.74 L77.62,195.74 L77.71,195.75 L77.81,195.75 L77.90,195.75 L77.99,195.76 L78.08,195.76 L78.17,195.76 L78.26,195.77 L78.35,195.77 L78.45,195.77 L78.54,195.78 L78.63,195.78 L78.72,195.78 L78.81,195.79 L78.90,195.79 L79.00,195.79 L79.09,195.80 L79.18,195.80 L79.27,195.80 L79.36,195.81 L79.45,195.81 L79.55,195.81 L79.64,195.82 L79.73,195.82 L79.82,195.82 L79.91,195.82 L80.00,195.83 L80.09,195.83 L80.19,195.83 L80.28,195.84 L80.37,195.84 L80.46,195.84 L80.55,195.84 L80.64,195.85 L80.74,195.85 L80.83,195.85 L80.92,195.86 L81.01,195.86 L81.10,195.86 L81.19,195.86 L81.28,195.87 L81.38,195.87 L81.47,195.87 L81.56,195.88 L81.65,195.88 L81.74,195.88 L81.83,195.88 L81.93,195.89 L82.02,195.89 L82.11,195.89 L82.20,195.89 L82.29,195.90 L82.38,195.90 L82.48,195.90 L82.57,195.90 L82.66,195.91 L82.75,195.91 L82.84,195.91 L82.93,195.91 L83.02,195.92 L83.12,195.92 L83.21,195.92 L83.30,195.92 L83.39,195.92 L83.48,195.93 L83.57,195.93 L83.67,195.93 L83.76,195.93 L83.85,195.94 L83.94,195.94 L84.03,195.94 L84.12,195.94 L84.21,195.95 L84.31,195.95 L84.40,195.95 L84.49,195.95 L84.58,195.95 L84.67,195.96 L84.76,195.96 L84.86,195.96 L84.95,195.96 L85.04,195.96 L85.13,195.97 L85.22,195.97 L85.31,195.97 L85.40,195.97 L85.50,195.98 L85.59,195.98 L85.68,195.98 L85.77,195.98 L85.86,195.98 L85.95,195.99 L86.05,195.99 L86.14,195.99 L86.23,195.99 L86.32,195.99 L86.41,195.99 L86.50,196.00 L86.60,196.00 L86.69,196.00 L86.78,196.00 L86.87,196.00 L86.96,196.01 L87.05,196.01 L87.14,196.01 L87.24,196.01 L87.33,196.01 L87.42,196.02 L87.51,196.02 L87.60,196.02 L87.69,196.02 L87.79,196.02 L87.88,196.02 L87.97,196.03 L88.06,196.03 L88.15,196.03 L88.24,196.03 L88.33,196.03 L88.43,196.03 L88.52,196.04 L88.61,196.04 L88.70,196.04 L88.79,196.04 L88.88,196.04 L88.98,196.04 L89.07,196.05 L89.16,196.05 L89.25,196.05 L89.34,196.05 L89.43,196.05 L89.53,196.05 L89.62,196.05 L89.71,196.06 L89.80,196.06 L89.89,196.06 L89.98,196.06 L90.07,196.06 L90.17,196.06 L90.26,196.07 L90.35,196.07 L90.44,196.07 L90.53,196.07 L90.62,196.07 L90.72,196.07 L90.81,196.07 L90.90,196.08 L90.99,196.08 L91.08,196.08 L91.17,196.08 L91.26,196.08 L91.36,196.08 L91.45,196.08 L91.54,196.08 L91.63,196.09 L91.72,196.09 L91.81,196.09 L91.91,196.09 L92.00,196.09 L92.09,196.09 L92.18,196.09 L92.27,196.10 L92.36,196.10 L92.45,196.10 L92.55,196.10 L92.64,196.10 L92.73,196.10 L92.82,196.10 L92.91,196.10 L93.00,196.11 L93.10,196.11 L93.19,196.11 L93.28,196.11 L93.37,196.11 L93.46,196.11 L93.55,196.11 L93.65,196.11 L93.74,196.11 L93.83,196.12 L93.92,196.12 L94.01,196.12 L94.10,196.12 L94.19,196.12 L94.29,196.12 L94.38,196.12 L94.47,196.12 L94.56,196.13 L94.65,196.13 L94.74,196.13 L94.84,196.13 L94.93,196.13 L95.02,196.13 L95.11,196.13 L95.20,196.13 L95.29,196.13 L95.38,196.13 L95.48,196.14 L95.57,196.14 L95.66,196.14 L95.75,196.14 L95.84,196.14 L95.93,196.14 L96.03,196.14 L96.12,196.14 L96.21,196.14 L96.30,196.14 L96.39,196.15 L96.48,196.15 L96.57,196.15 L96.67,196.15 L96.76,196.15 L96.85,196.15 L96.94,196.15 L97.03,196.15 L97.12,196.15 L97.22,196.15 L97.31,196.15 L97.40,196.16 L97.49,196.16 L97.58,196.16 L97.67,196.16 L97.77,196.16 L97.86,196.16 L97.95,196.16 L98.04,196.16 L98.13,196.16 L98.22,196.16 L98.31,196.16 L98.41,196.17 L98.50,196.17 L98.59,196.17 L98.68,196.17 L98.77,196.17 L98.86,196.17 L98.96,196.17 L99.05,196.17 L99.14,196.17 L99.23,196.17 L99.32,196.17 L99.41,196.17 L99.50,196.18 L99.60,196.18 L99.69,196.18 L99.78,196.18 L99.87,196.18 L99.96,196.18 L100.05,196.18 L100.15,196.18 L100.24,196.18 L100.33,196.18 L100.42,196.18 L100.51,196.18 L100.60,196.18 L100.70,196.18 L100.79,196.19 L100.88,196.19 L100.97,196.19 L101.06,196.19 L101.15,196.19 L101.24,196.19 L101.34,196.19 L101.43,196.19 L101.52,196.19 L101.61,196.19 L101.70,196.19 L101.79,196.19 L101.89,196.19 L101.98,196.19 L102.07,196.20 L102.16,196.20 L102.25,196.20 L102.34,196.20 L102.43,196.20 L102.53,196.20 L102.62,196.20 L102.71,196.20 L102.80,196.20 L102.89,196.20 L102.98,196.20 L103.08,196.20 L103.17,196.20 L103.26,196.20 L103.35,196.20 L103.44,196.20 L103.53,196.21 L103.62,196.21 L103.72,196.21 L103.81,196.21 L103.90,196.21 L103.99,196.21 L104.08,196.21 L104.17,196.21 L104.27,196.21 L104.36,196.21 L104.45,196.21 L104.54,196.21 L104.63,196.21 L104.72,196.21 L104.82,196.21 L104.91,196.21 L105.00,196.21 L105.09,196.21 L105.18,196.22 L105.27,196.22 L105.36,196.22 L105.46,196.22 L105.55,196.22 L105.64,196.22 L105.73,196.22 L105.82,196.22 L105.91,196.22 L106.01,196.22 L106.10,196.22 L106.19,196.22 L106.28,196.22 L106.37,196.22 L106.46,196.22 L106.55,196.22 L106.65,196.22 L106.74,196.22 L106.83,196.22 L106.92,196.22 L107.01,196.23 L107.10,196.23 L107.20,196.23 L107.29,196.23 L107.38,196.23 L107.47,196.23 L107.56,196.23 L107.65,196.23 L107.75,196.23 L107.84,196.23 L107.93,196.23 L108.02,196.23 L108.11,196.23 L108.20,196.23 L108.29,196.23 L108.39,196.23 L108.48,196.23 L108.57,196.23 L108.66,196.23 L108.75,196.23 L108.84,196.23 L108.94,196.23 L109.03,196.23 L109.12,196.24 L109.21,196.24 L109.30,196.24 L109.39,196.24 L109.48,196.24 L109.58,196.24 L109.67,196.24 L109.76,196.24 L109.85,196.24 L109.94,196.24 L110.03,196.24 L110.13,196.24 L110.22,196.24 L110.31,196.24 L110.40,196.24 L110.49,196.24 L110.58,196.24 L110.67,196.24 L110.77,196.24 L110.86,196.24 L110.95,196.24 L111.04,196.24 L111.13,196.24 L111.22,196.24 L111.32,196.24 L111.41,196.24 L111.50,196.24 L111.59,196.25 L111.68,196.25 L111.77,196.25 L111.87,196.25 L111.96,196.25 L112.05,196.25 L112.14,196.25 L112.23,196.25 L112.32,196.25 L112.41,196.25 L112.51,196.25 L112.60,196.24 L112.69,196.24 L112.78,196.23 L112.87,196.22 L112.96,196.19 L113.06,196.14 L113.15,196.06 L113.24,195.92 L113.33,195.70 L113.42,195.34 L113.51,194.81 L113.60,194.02 L113.70,192.88 L113.79,191.32 L113.88,189.22 L113.97,186.51 L114.06,183.13 L114.15,179.05 L114.25,174.33 L114.34,169.07 L114.43,163.47 L114.52,157.80 L114.61,152.39 L114.70,147.59 L114.79,143.74 L114.89,141.14 L114.98,140.00 L115.07,140.19 L115.16,141.18 L115.25,142.92 L115.34,145.33 L115.44,148.31 L115.53,151.76 L115.62,155.53 L115.71,159.52 L115.80,163.58 L115.89,167.60 L115.99,171.48 L116.08,175.13 L116.17,178.50 L116.26,181.54 L116.35,184.24 L116.44,186.58 L116.53,188.57 L116.63,190.24 L116.72,191.61 L116.81,192.72 L116.90,193.61 L116.99,194.30 L117.08,194.83 L117.18,195.23 L117.27,195.53 L117.36,195.75 L117.45,195.91 L117.54,196.02 L117.63,196.10 L117.72,196.16 L117.82,196.20 L117.91,196.22 L118.00,196.24 L118.09,196.25 L118.18,196.25 L118.27,196.26 L118.37,196.26 L118.46,196.26 L118.55,196.26 L118.64,196.27 L118.73,196.27 L118.82,196.27 L118.92,196.27 L119.01,196.27 L119.10,196.27 L119.19,196.27 L119.28,196.27 L119.37,196.27 L119.46,196.27 L119.56,196.27 L119.65,196.27 L119.74,196.27 L119.83,196.27 L119.92,196.27 L120.01,196.27 L120.11,196.27 L120.20,196.27 L120.29,196.27 L120.38,196.27 L120.47,196.27 L120.56,196.27 L120.65,196.27 L120.75,196.27 L120.84,196.27 L120.93,196.27 L121.02,196.27 L121.11,196.27 L121.20,196.27 L121.30,196.27 L121.39,196.27 L121.48,196.27 L121.57,196.27 L121.66,196.27 L121.75,196.27 L121.84,196.27 L121.94,196.27 L122.03,196.27 L122.12,196.27 L122.21,196.27 L122.30,196.27 L122.39,196.27 L122.49,196.27 L122.58,196.27 L122.67,196.27 L122.76,196.27 L122.85,196.27 L122.94,196.27 L123.04,196.27 L123.13,196.28 L123.22,196.28 L123.31,196.28 L123.40,196.28 L123.49,196.28 L123.58,196.28 L123.68,196.28 L123.77,196.28 L123.86,196.28 L123.95,196.28 L124.04,196.28 L124.13,196.28 L124.23,196.28 L124.32,196.28 L124.41,196.28 L124.50,196.28 L124.59,196.28 L124.68,196.28 L124.77,196.28 L124.87,196.28 L124.96,196.28 L125.05,196.28 L125.14,196.28 L125.23,196.28 L125.32,196.28 L125.42,196.28 L125.51,196.28 L125.60,196.28 L125.69,196.28 L125.78,196.28 L125.87,196.28 L125.97,196.28 L126.06,196.28 L126.15,196.28 L126.24,196.28 L126.33,196.28 L126.42,196.28 L126.51,196.28 L126.61,196.28 L126.70,196.28 L126.79,196.28 L126.88,196.28 L126.97,196.28 L127.06,196.28 L127.16,196.28 L127.25,196.28 L127.34,196.28 L127.43,196.28 L127.52,196.28 L127.61,196.28 L127.70,196.28 L127.80,196.28 L127.89,196.28 L127.98,196.28 L128.07,196.28 L128.16,196.28 L128.25,196.28 L128.35,196.28 L128.44,196.28 L128.53,196.28 L128.62,196.28 L128.71,196.28 L128.80,196.28 L128.89,196.28 L128.99,196.28 L129.08,196.28 L129.17,196.28 L129.26,196.28 L129.35,196.28 L129.44,196.28 L129.54,196.28 L129.63,196.28 L129.72,196.28 L129.81,196.28 L129.90,196.28 L129.99,196.28 L130.09,196.28 L130.18,196.28 L130.27,196.28 L130.36,196.28 L130.45,196.28 L130.54,196.28 L130.63,196.29 L130.73,196.29 L130.82,196.29 L130.91,196.29 L131.00,196.29 L131.09,196.29 L131.18,196.29 L131.28,196.29 L131.37,196.29 L131.46,196.29 L131.55,196.29 L131.64,196.29 L131.73,196.29 L131.82,196.29 L131.92,196.29 L132.01,196.29 L132.10,196.29 L132.19,196.29 L132.28,196.29 L132.37,196.29 L132.47,196.29 L132.56,196.29 L132.65,196.29 L132.74,196.29 L132.83,196.29 L132.92,196.29 L133.01,196.29 L133.11,196.29 L133.20,196.29 L133.29,196.29 L133.38,196.29 L133.47,196.29 L133.56,196.29 L133.66,196.29 L133.75,196.29 L133.84,196.29 L133.93,196.29 L134.02,196.29 L134.11,196.29 L134.21,196.29 L134.30,196.29 L134.39,196.29 L134.48,196.29 L134.57,196.29 L134.66,196.29 L134.75,196.29 L134.85,196.29 L134.94,196.29 L135.03,196.29 L135.12,196.29 L135.21,196.29 L135.30,196.29 L135.40,196.29 L135.49,196.29 L135.58,196.29 L135.67,196.29 L135.76,196.29 L135.85,196.29 L135.94,196.29 L136.04,196.29 L136.13,196.29 L136.22,196.29 L136.31,196.29 L136.40,196.29 L136.49,196.29 L136.59,196.29 L136.68,196.29 L136.77,196.29 L136.86,196.29 L136.95,196.29 L137.04,196.29 L137.14,196.29 L137.23,196.29 L137.32,196.29 L137.41,196.29 L137.50,196.29 L137.59,196.29 L137.68,196.28 L137.78,196.28 L137.87,196.26 L137.96,196.25 L138.05,196.22 L138.14,196.17 L138.23,196.10 L138.33,195.99 L138.42,195.83 L138.51,195.60 L138.60,195.26 L138.69,194.81 L138.78,194.18 L138.87,193.36 L138.97,192.28 L139.06,190.92 L139.15,189.23 L139.24,187.19 L139.33,184.79 L139.42,182.02 L139.52,178.93 L139.61,175.58 L139.70,172.05 L139.79,168.46 L139.88,164.94 L139.97,161.66 L140.06,158.77 L140.16,156.41 L140.25,154.71 L140.34,153.77 L140.43,153.62 L140.52,153.97 L140.61,154.73 L140.71,155.87 L140.80,157.37 L140.89,159.18 L140.98,161.26 L141.07,163.54 L141.16,165.97 L141.26,168.50 L141.35,171.06 L141.44,173.61 L141.53,176.11 L141.62,178.51 L141.71,180.77 L141.80,182.88 L141.90,184.82 L141.99,186.57 L142.08,188.13 L142.17,189.52 L142.26,190.72 L142.35,191.75 L142.45,192.63 L142.54,193.37 L142.63,193.98 L142.72,194.48 L142.81,194.89 L142.90,195.21 L142.99,195.47 L143.09,195.68 L143.18,195.83 L143.27,195.95 L143.36,196.05 L143.45,196.11 L143.54,196.16 L143.64,196.20 L143.73,196.23 L143.82,196.25 L143.91,196.26 L144.00,196.27 L144.09,196.28 L144.18,196.28 L144.28,196.29 L144.37,196.29 L144.46,196.29 L144.55,196.29 L144.64,196.29 L144.73,196.29 L144.83,196.29 L144.92,196.29 L145.01,196.29 L145.10,196.29 L145.19,196.29 L145.28,196.29 L145.38,196.29 L145.47,196.29 L145.56,196.29 L145.65,196.29 L145.74,196.29 L145.83,196.29 L145.92,196.29 L146.02,196.29 L146.11,196.29 L146.20,196.29 L146.29,196.29 L146.38,196.29 L146.47,196.29 L146.57,196.29 L146.66,196.30 L146.75,196.30 L146.84,196.30 L146.93,196.30 L147.02,196.30 L147.11,196.30 L147.21,196.30 L147.30,196.30 L147.39,196.30 L147.48,196.30 L147.57,196.30 L147.66,196.30 L147.76,196.30 L147.85,196.30 L147.94,196.30 L148.03,196.30 L148.12,196.30 L148.21,196.30 L148.31,196.30 L148.40,196.30 L148.49,196.30 L148.58,196.30 L148.67,196.30 L148.76,196.30 L148.85,196.30 L148.95,196.30 L149.04,196.30 L149.13,196.30 L149.22,196.30 L149.31,196.30 L149.40,196.30 L149.50,196.30 L149.59,196.30 L149.68,196.30 L149.77,196.30 L149.86,196.30 L149.95,196.30 L150.04,196.30 L150.14,196.30 L150.23,196.30 L150.32,196.30 L150.41,196.30 L150.50,196.30 L150.59,196.30 L150.69,196.30 L150.78,196.30 L150.87,196.30 L150.96,196.30 L151.05,196.30 L151.14,196.30 L151.23,196.30 L151.33,196.30 L151.42,196.30 L151.51,196.30 L151.60,196.30 L151.69,196.30 L151.78,196.30 L151.88,196.30 L151.97,196.30 L152.06,196.30 L152.15,196.30 L152.24,196.30 L152.33,196.30 L152.43,196.30 L152.52,196.30 L152.61,196.30 L152.70,196.30 L152.79,196.30 L152.88,196.30 L152.97,196.30 L153.07,196.30 L153.16,196.30 L153.25,196.30 L153.34,196.30 L153.43,196.30 L153.52,196.30 L153.62,196.30 L153.71,196.30 L153.80,196.30 L153.89,196.30 L153.98,196.30 L154.07,196.30 L154.16,196.30 L154.26,196.30 L154.35,196.30 L154.44,196.30 L154.53,196.30 L154.62,196.30 L154.71,196.30 L154.81,196.30 L154.90,196.30 L154.99,196.30 L155.08,196.30 L155.17,196.30 L155.26,196.30 L155.36,196.30 L155.45,196.30 L155.54,196.30 L155.63,196.30 L155.72,196.30 L155.81,196.30 L155.90,196.30 L156.00,196.30 L156.09,196.30 L156.18,196.30 L156.27,196.30 L156.36,196.30 L156.45,196.30 L156.55,196.30 L156.64,196.30 L156.73,196.30 L156.82,196.30 L156.91,196.30 L157.00,196.30 L157.09,196.30 L157.19,196.30 L157.28,196.30 L157.37,196.30 L157.46,196.30 L157.55,196.30 L157.64,196.30 L157.74,196.30 L157.83,196.30 L157.92,196.30 L158.01,196.30 L158.10,196.30 L158.19,196.30 L158.28,196.30 L158.38,196.30 L158.47,196.30 L158.56,196.30 L158.65,196.30 L158.74,196.30 L158.83,196.30 L158.93,196.30 L159.02,196.30 L159.11,196.30 L159.20,196.30 L159.29,196.30 L159.38,196.30 L159.48,196.30 L159.57,196.30 L159.66,196.30 L159.75,196.30 L159.84,196.30 L159.93,196.30 L160.02,196.30 L160.12,196.30 L160.21,196.30 L160.30,196.30 L160.39,196.30 L160.48,196.30 L160.57,196.30 L160.67,196.30 L160.76,196.30 L160.85,196.30 L160.94,196.30 L161.03,196.30 L161.12,196.30 L161.21,196.30 L161.31,196.30 L161.40,196.30 L161.49,196.30 L161.58,196.30 L161.67,196.30 L161.76,196.30 L161.86,196.30 L161.95,196.30 L162.04,196.30 L162.13,196.30 L162.22,196.30 L162.31,196.30 L162.40,196.30 L162.50,196.30 L162.59,196.30 L162.68,196.30 L162.77,196.30 L162.86,196.30 L162.95,196.30 L163.05,196.30 L163.14,196.30 L163.23,196.30 L163.32,196.30 L163.41,196.30 L163.50,196.30 L163.60,196.30 L163.69,196.30 L163.78,196.30 L163.87,196.30 L163.96,196.30 L164.05,196.30 L164.14,196.30 L164.24,196.30 L164.33,196.30 L164.42,196.30 L164.51,196.30 L164.60,196.30 L164.69,196.30 L164.79,196.30 L164.88,196.30 L164.97,196.30 L165.06,196.30 L165.15,196.30 L165.24,196.30 L165.33,196.30 L165.43,196.30 L165.52,196.30 L165.61,196.30 L165.70,196.30 L165.79,196.30 L165.88,196.30 L165.98,196.30 L166.07,196.30 L166.16,196.30 L166.25,196.30 L166.34,196.30 L166.43,196.30 L166.53,196.30 L166.62,196.30 L166.71,196.30 L166.80,196.30 L166.89,196.30 L166.98,196.30 L167.07,196.30 L167.17,196.30 L167.26,196.30 L167.35,196.30 L167.44,196.30 L167.53,196.30 L167.62,196.30 L167.72,196.30 L167.81,196.30 L167.90,196.30 L167.99,196.30 L168.08,196.30 L168.17,196.30 L168.26,196.30 L168.36,196.30 L168.45,196.30 L168.54,196.30 L168.63,196.30 L168.72,196.30 L168.81,196.30 L168.91,196.30 L169.00,196.30 L169.09,196.30 L169.18,196.30 L169.27,196.30 L169.36,196.30 L169.45,196.30 L169.55,196.30 L169.64,196.30 L169.73,196.30 L169.82,196.30 L169.91,196.30 L170.00,196.30 L170.10,196.30 L170.19,196.30 L170.28,196.30 L170.37,196.30 L170.46,196.30 L170.55,196.30 L170.65,196.30 L170.74,196.30 L170.83,196.30 L170.92,196.30 L171.01,196.30 L171.10,196.30 L171.19,196.30 L171.29,196.30 L171.38,196.30 L171.47,196.30 L171.56,196.30 L171.65,196.30 L171.74,196.30 L171.84,196.30 L171.93,196.30 L172.02,196.30 L172.11,196.30 L172.20,196.30 L172.29,196.30 L172.38,196.30 L172.48,196.30 L172.57,196.30 L172.66,196.30 L172.75,196.30 L172.84,196.30 L172.93,196.30 L173.03,196.30 L173.12,196.30 L173.21,196.30 L173.30,196.30 L173.39,196.30 L173.48,196.30 L173.57,196.30 L173.67,196.30 L173.76,196.30 L173.85,196.30 L173.94,196.30 L174.03,196.30 L174.12,196.30 L174.22,196.30 L174.31,196.30 L174.40,196.30 L174.49,196.30 L174.58,196.30 L174.67,196.30 L174.77,196.30 L174.86,196.30 L174.95,196.30 L175.04,196.30 L175.13,196.30 L175.22,196.30 L175.31,196.30 L175.41,196.30 L175.50,196.30 L175.59,196.30 L175.68,196.30 L175.77,196.30 L175.86,196.30 L175.96,196.30 L176.05,196.30 L176.14,196.30 L176.23,196.30 L176.32,196.30 L176.41,196.30 L176.50,196.30 L176.60,196.30 L176.69,196.30 L176.78,196.30 L176.87,196.30 L176.96,196.30 L177.05,196.30 L177.15,196.30 L177.24,196.30 L177.33,196.30 L177.42,196.30 L177.51,196.30 L177.60,196.30 L177.70,196.30 L177.79,196.30 L177.88,196.30 L177.97,196.30 L178.06,196.30 L178.15,196.30 L178.24,196.30 L178.34,196.30 L178.43,196.30 L178.52,196.30 L178.61,196.30 L178.70,196.30 L178.79,196.30 L178.89,196.30 L178.98,196.30 L179.07,196.30 L179.16,196.30 L179.25,196.30 L179.34,196.30 L179.43,196.30 L179.53,196.30 L179.62,196.30 L179.71,196.30 L179.80,196.30 L179.89,196.30 L179.98,196.30 L180.08,196.30 L180.17,196.30 L180.26,196.30 L180.35,196.30 L180.44,196.30 L180.53,196.30 L180.62,196.30 L180.72,196.30 L180.81,196.30 L180.90,196.30 L180.99,196.30 L181.08,196.30 L181.17,196.30 L181.27,196.30 L181.36,196.30 L181.45,196.30 L181.54,196.30 L181.63,196.30 L181.72,196.30 L181.82,196.30 L181.91,196.30 L182.00,196.30 L182.09,196.30 L182.18,196.30 L182.27,196.30 L182.36,196.30 L182.46,196.30 L182.55,196.30 L182.64,196.30 L182.73,196.30 L182.82,196.30 L182.91,196.30 L183.01,196.30 L183.10,196.30 L183.19,196.30 L183.28,196.30 L183.37,196.29 L183.46,196.29 L183.55,196.29 L183.65,196.29 L183.74,196.28 L183.83,196.28 L183.92,196.27 L184.01,196.26 L184.10,196.25 L184.20,196.23 L184.29,196.21 L184.38,196.19 L184.47,196.15 L184.56,196.11 L184.65,196.07 L184.75,196.01 L184.84,195.94 L184.93,195.85 L185.02,195.74 L185.11,195.62 L185.20,195.47 L185.29,195.30 L185.39,195.09 L185.48,194.85 L185.57,194.58 L185.66,194.26 L185.75,193.90 L185.84,193.50 L185.94,193.04 L186.03,192.53 L186.12,191.97 L186.21,191.35 L186.30,190.67 L186.39,189.93 L186.48,189.15 L186.58,188.31 L186.67,187.42 L186.76,186.49 L186.85,185.53 L186.94,184.54 L187.03,183.53 L187.13,182.52 L187.22,181.51 L187.31,180.51 L187.40,179.55 L187.49,178.63 L187.58,177.76 L187.67,176.97 L187.77,176.25 L187.86,175.63 L187.95,175.11 L188.04,174.70 L188.13,174.41 L188.22,174.24 L188.32,174.20 L188.41,174.24 L188.50,174.35 L188.59,174.52 L188.68,174.76 L188.77,175.05 L188.87,175.40 L188.96,175.80 L189.05,176.26 L189.14,176.76 L189.23,177.31 L189.32,177.89 L189.41,178.51 L189.51,179.16 L189.60,179.83 L189.69,180.52 L189.78,181.23 L189.87,181.95 L189.96,182.67 L190.06,183.40 L190.15,184.12 L190.24,184.84 L190.33,185.54 L190.42,186.23 L190.51,186.91 L190.60,187.56 L190.70,188.19 L190.79,188.80 L190.88,189.39 L190.97,189.94 L191.06,190.47 L191.15,190.97 L191.25,191.44 L191.34,191.89 L191.43,192.30 L191.52,192.69 L191.61,193.05 L191.70,193.38 L191.79,193.68 L191.89,193.96 L191.98,194.22 L192.07,194.45 L192.16,194.66 L192.25,194.86 L192.34,195.03 L192.44,195.19 L192.53,195.33 L192.62,195.45 L192.71,195.56 L192.80,195.66 L192.89,195.75 L192.99,195.82 L193.08,195.89 L193.17,195.95 L193.26,196.00 L193.35,196.04 L193.44,196.08 L193.53,196.12 L193.63,196.14 L193.72,196.17 L193.81,196.19 L193.90,196.21 L193.99,196.22 L194.08,196.24 L194.18,196.25 L194.27,196.26 L194.36,196.26 L194.45,196.27 L194.54,196.28 L194.63,196.28 L194.72,196.28 L194.82,196.29 L194.91,196.29 L195.00,196.29 L195.09,196.29 L195.18,196.29 L195.27,196.30 L195.37,196.30 L195.46,196.30 L195.55,196.30 L195.64,196.30 L195.73,196.30 L195.82,196.30 L195.92,196.30 L196.01,196.30 L196.10,196.30 L196.19,196.30 L196.28,196.30 L196.37,196.30 L196.46,196.30 L196.56,196.30 L196.65,196.30 L196.74,196.30 L196.83,196.30 L196.92,196.30 L197.01,196.30 L197.11,196.30 L197.20,196.30 L197.29,196.30 L197.38,196.30 L197.47,196.30 L197.56,196.30 L197.65,196.30 L197.75,196.30 L197.84,196.30 L197.93,196.30 L198.02,196.30 L198.11,196.30 L198.20,196.30 L198.30,196.30 L198.39,196.30 L198.48,196.30 L198.57,196.30 L198.66,196.30 L198.75,196.30 L198.84,196.30 L198.94,196.30 L199.03,196.30 L199.12,196.30 L199.21,196.30 L199.30,196.30 L199.39,196.30 L199.49,196.30 L199.58,196.30 L199.67,196.30 L199.76,196.30 L199.85,196.30 L199.94,196.30 L200.04,196.30 L200.13,196.30 L200.22,196.30 L200.31,196.30 L200.40,196.30 L200.49,196.30 L200.58,196.30 L200.68,196.30 L200.77,196.30 L200.86,196.30 L200.95,196.30 L201.04,196.30 L201.13,196.30 L201.23,196.30 L201.32,196.30 L201.41,196.30 L201.50,196.30 L201.59,196.30 L201.68,196.30 L201.77,196.30 L201.87,196.30 L201.96,196.30 L202.05,196.30 L202.14,196.30 L202.23,196.30 L202.32,196.30 L202.42,196.30 L202.51,196.30 L202.60,196.30 L202.69,196.30 L202.78,196.30 L202.87,196.30 L202.97,196.30 L203.06,196.30 L203.15,196.30 L203.24,196.30 L203.33,196.30 L203.42,196.30 L203.51,196.30 L203.61,196.30 L203.70,196.30 L203.79,196.30 L203.88,196.30 L203.97,196.30 L204.06,196.30 L204.16,196.30 L204.25,196.30 L204.34,196.30 L204.43,196.30 L204.52,196.30 L204.61,196.30 L204.70,196.30 L204.80,196.30 L204.89,196.30 L204.98,196.30 L205.07,196.30 L205.16,196.30 L205.25,196.30 L205.35,196.30 L205.44,196.30 L205.53,196.30 L205.62,196.30 L205.71,196.30 L205.80,196.30 L205.89,196.30 L205.99,196.30 L206.08,196.30 L206.17,196.30 L206.26,196.30 L206.35,196.30 L206.44,196.30 L206.54,196.30 L206.63,196.30 L206.72,196.30 L206.81,196.30 L206.90,196.30 L206.99,196.30 L207.09,196.30 L207.18,196.30 L207.27,196.30 L207.36,196.30 L207.45,196.30 L207.54,196.30 L207.63,196.30 L207.73,196.30 L207.82,196.30 L207.91,196.30 L208.00,196.30 L208.09,196.30 L208.18,196.30 L208.28,196.30 L208.37,196.30 L208.46,196.30 L208.55,196.30 L208.64,196.30 L208.73,196.30 L208.82,196.30 L208.92,196.30 L209.01,196.30 L209.10,196.30 L209.19,196.30 L209.28,196.30 L209.37,196.30 L209.47,196.30 L209.56,196.30 L209.65,196.30 L209.74,196.30 L209.83,196.30 L209.92,196.30 L210.01,196.30 L210.11,196.30 L210.20,196.30 L210.29,196.30 L210.38,196.30 L210.47,196.30 L210.56,196.30 L210.66,196.30 L210.75,196.30 L210.84,196.30 L210.93,196.30 L211.02,196.30 L211.11,196.30 L211.21,196.30 L211.30,196.30 L211.39,196.30 L211.48,196.30 L211.57,196.30 L211.66,196.30 L211.75,196.30 L211.85,196.30 L211.94,196.30 L212.03,196.30 L212.12,196.30 L212.21,196.30 L212.30,196.30 L212.40,196.30 L212.49,196.30 L212.58,196.30 L212.67,196.30 L212.76,196.30 L212.85,196.30 L212.94,196.30 L213.04,196.30 L213.13,196.30 L213.22,196.30 L213.31,196.30 L213.40,196.30 L213.49,196.30 L213.59,196.30 L213.68,196.30 L213.77,196.30 L213.86,196.30 L213.95,196.30 L214.04,196.30 L214.14,196.30 L214.23,196.30 L214.32,196.30 L214.41,196.30 L214.50,196.30 L214.59,196.30 L214.68,196.30 L214.78,196.30 L214.87,196.30 L214.96,196.30 L215.05,196.30 L215.14,196.30 L215.23,196.30 L215.33,196.30 L215.42,196.30 L215.51,196.30 L215.60,196.30 L215.69,196.30 L215.78,196.30 L215.87,196.30 L215.97,196.30 L216.06,196.30 L216.15,196.30 L216.24,196.30 L216.33,196.30 L216.42,196.30 L216.52,196.30 L216.61,196.30 L216.70,196.30 L216.79,196.30 L216.88,196.30 L216.97,196.30 L217.06,196.30 L217.16,196.30 L217.25,196.30 L217.34,196.30 L217.43,196.30 L217.52,196.30 L217.61,196.30 L217.71,196.30 L217.80,196.30 L217.89,196.30 L217.98,196.30 L218.07,196.30 L218.16,196.30 L218.26,196.30 L218.35,196.30 L218.44,196.30 L218.53,196.30 L218.62,196.30 L218.71,196.30 L218.80,196.30 L218.90,196.30 L218.99,196.30 L219.08,196.30 L219.17,196.30 L219.26,196.30 L219.35,196.30 L219.45,196.30 L219.54,196.30 L219.63,196.30 L219.72,196.30 L219.81,196.30 L219.90,196.30 L219.99,196.30 L220.09,196.30 L220.18,196.30 L220.27,196.30 L220.36,196.30 L220.45,196.30 L220.54,196.30 L220.64,196.30 L220.73,196.30 L220.82,196.30 L220.91,196.30 L221.00,196.30 L221.09,196.30 L221.19,196.30 L221.28,196.30 L221.37,196.30 L221.46,196.30 L221.55,196.30 L221.64,196.30 L221.73,196.30 L221.83,196.30 L221.92,196.30 L222.01,196.30 L222.10,196.30 L222.19,196.30 L222.28,196.30 L222.38,196.30 L222.47,196.30 L222.56,196.30 L222.65,196.30 L222.74,196.30 L222.83,196.30 L222.92,196.30 L223.02,196.30 L223.11,196.30 L223.20,196.30 L223.29,196.30 L223.38,196.30 L223.47,196.30 L223.57,196.30 L223.66,196.30 L223.75,196.30 L223.84,196.30 L223.93,196.30 L224.02,196.30 L224.11,196.30 L224.21,196.30 L224.30,196.30 L224.39,196.30 L224.48,196.30 L224.57,196.30 L224.66,196.30 L224.76,196.30 L224.85,196.30 L224.94,196.30 L225.03,196.30 L225.12,196.30 L225.21,196.30 L225.31,196.30 L225.40,196.30 L225.49,196.30 L225.58,196.30 L225.67,196.30 L225.76,196.30 L225.85,196.30 L225.95,196.30 L226.04,196.30 L226.13,196.30 L226.22,196.30 L226.31,196.30 L226.40,196.30 L226.50,196.30 L226.59,196.30 L226.68,196.30 L226.77,196.30 L226.86,196.30 L226.95,196.30 L227.04,196.30 L227.14,196.30 L227.23,196.30 L227.32,196.30 L227.41,196.30 L227.50,196.30 L227.59,196.30 L227.69,196.30 L227.78,196.30 L227.87,196.30 L227.96,196.30 L228.05,196.30 L228.14,196.30 L228.23,196.30 L228.33,196.30 L228.42,196.30 L228.51,196.30 L228.60,196.30 L228.69,196.30 L228.78,196.30 L228.88,196.30 L228.97,196.30 L229.06,196.30 L229.15,196.30 L229.24,196.30 L229.33,196.30 L229.43,196.30 L229.52,196.30 L229.61,196.30 L229.70,196.30 L229.79,196.30 L229.88,196.30 L229.97,196.30 L230.07,196.30 L230.16,196.30 L230.25,196.30 L230.34,196.30 L230.43,196.30 L230.52,196.30 L230.62,196.30 L230.71,196.30 L230.80,196.30 L230.89,196.30 L230.98,196.30 L231.07,196.30 L231.16,196.30 L231.26,196.30 L231.35,196.30 L231.44,196.30 L231.53,196.30 L231.62,196.30 L231.71,196.30 L231.81,196.30 L231.90,196.30 L231.99,196.30 L232.08,196.30 L232.17,196.30 L232.26,196.30 L232.36,196.30 L232.45,196.30 L232.54,196.30 L232.63,196.30 L232.72,196.30 L232.81,196.30 L232.90,196.30 L233.00,196.30 L233.09,196.30 L233.18,196.30 L233.27,196.30 L233.36,196.30 L233.45,196.30 L233.55,196.30 L233.64,196.30 L233.73,196.30 L233.82,196.30 L233.91,196.30 L234.00,196.30 L234.09,196.30 L234.19,196.30 L234.28,196.30 L234.37,196.30 L234.46,196.30 L234.55,196.30 L234.64,196.30 L234.74,196.30 L234.83,196.30 L234.92,196.30 L235.01,196.30 L235.10,196.30 L235.19,196.30 L235.28,196.30 L235.38,196.30 L235.47,196.30 L235.56,196.30 L235.65,196.30 L235.74,196.30 L235.83,196.30 L235.93,196.30 L236.02,196.30 L236.11,196.30 L236.20,196.30 L236.29,196.30 L236.38,196.30 L236.48,196.30 L236.57,196.30 L236.66,196.30 L236.75,196.30 L236.84,196.30 L236.93,196.30 L237.02,196.30 L237.12,196.30 L237.21,196.30 L237.30,196.30 L237.39,196.30 L237.48,196.30 L237.57,196.30 L237.67,196.30 L237.76,196.30 L237.85,196.30 L237.94,196.30 L238.03,196.30 L238.12,196.30 L238.21,196.30 L238.31,196.30 L238.40,196.30 L238.49,196.30 L238.58,196.30 L238.67,196.30 L238.76,196.30 L238.86,196.30 L238.95,196.30 L239.04,196.30 L239.13,196.30 L239.22,196.30 L239.31,196.30 L239.40,196.30 L239.50,196.30 L239.59,196.30 L239.68,196.30 L239.77,196.30 L239.86,196.30 L239.95,196.30 L240.05,196.30 L240.14,196.30 L240.23,196.30 L240.32,196.30 L240.41,196.30 L240.50,196.30 L240.60,196.30 L240.69,196.30 L240.78,196.30 L240.87,196.30 L240.96,196.30 L241.05,196.30 L241.14,196.30 L241.24,196.30 L241.33,196.30 L241.42,196.30 L241.51,196.30 L241.60,196.30 L241.69,196.30 L241.79,196.30 L241.88,196.30 L241.97,196.30 L242.06,196.30 L242.15,196.30 L242.24,196.30 L242.33,196.30 L242.43,196.30 L242.52,196.30 L242.61,196.30 L242.70,196.30 L242.79,196.30 L242.88,196.30 L242.98,196.30 L243.07,196.30 L243.16,196.30 L243.25,196.30 L243.34,196.30 L243.43,196.30 L243.53,196.30 L243.62,196.30 L243.71,196.30 L243.80,196.30 L243.89,196.30 L243.98,196.30 L244.07,196.30 L244.17,196.30 L244.26,196.30 L244.35,196.30 L244.44,196.30 L244.53,196.30 L244.62,196.30 L244.72,196.30 L244.81,196.30 L244.90,196.30 L244.99,196.30 L245.08,196.30 L245.17,196.30 L245.26,196.30 L245.36,196.30 L245.45,196.30 L245.54,196.30 L245.63,196.30 L245.72,196.30 L245.81,196.30 L245.91,196.30 L246.00,196.30 L246.09,196.30 L246.18,196.30 L246.27,196.30 L246.36,196.30 L246.45,196.30 L246.55,196.30 L246.64,196.30 L246.73,196.30 L246.82,196.30 L246.91,196.30 L247.00,196.30 L247.10,196.30 L247.19,196.30 L247.28,196.30 L247.37,196.30 L247.46,196.30 L247.55,196.30 L247.65,196.30 L247.74,196.30 L247.83,196.30 L247.92,196.30 L248.01,196.30 L248.10,196.30 L248.19,196.30 L248.29,196.30 L248.38,196.30 L248.47,196.30 L248.56,196.30 L248.65,196.30 L248.74,196.30 L248.84,196.30 L248.93,196.30 L249.02,196.30 L249.11,196.30 L249.20,196.30 L249.29,196.30 L249.38,196.30 L249.48,196.30 L249.57,196.30 L249.66,196.30 L249.75,196.30 L249.84,196.30 L249.93,196.30 L250.03,196.30 L250.12,196.30 L250.21,196.30 L250.30,196.30 L250.39,196.30 L250.48,196.30 L250.58,196.30 L250.67,196.30 L250.76,196.30 L250.85,196.30 L250.94,196.30 L251.03,196.30 L251.12,196.30 L251.22,196.30 L251.31,196.30 L251.40,196.30 L251.49,196.30 L251.58,196.30 L251.67,196.30 L251.77,196.30 L251.86,196.30 L251.95,196.30 L252.04,196.30 L252.13,196.30 L252.22,196.30 L252.31,196.30 L252.41,196.30 L252.50,196.30 L252.59,196.30 L252.68,196.30 L252.77,196.30 L252.86,196.30 L252.96,196.30 L253.05,196.30 L253.14,196.30 L253.23,196.30 L253.32,196.30 L253.41,196.30 L253.50,196.30 L253.60,196.30 L253.69,196.30 L253.78,196.30 L253.87,196.30 L253.96,196.30 L254.05,196.30 L254.15,196.30 L254.24,196.30 L254.33,196.30 L254.42,196.30 L254.51,196.30 L254.60,196.30 L254.70,196.30 L254.79,196.30 L254.88,196.30 L254.97,196.30 L255.06,196.30 L255.15,196.30 L255.24,196.30 L255.34,196.30 L255.43,196.30 L255.52,196.30 L255.61,196.30 L255.70,196.30 L255.79,196.30 L255.89,196.30 L255.98,196.30 L256.07,196.30 L256.16,196.30 L256.25,196.30 L256.34,196.30 L256.43,196.30 L256.53,196.30 L256.62,196.30 L256.71,196.30 L256.80,196.30 L256.89,196.30 L256.98,196.30 L257.08,196.30 L257.17,196.30 L257.26,196.30 L257.35,196.30 L257.44,196.30 L257.53,196.30 L257.62,196.29 L257.72,196.29 L257.81,196.29 L257.90,196.29 L257.99,196.29 L258.08,196.28 L258.17,196.28 L258.27,196.28 L258.36,196.27 L258.45,196.27 L258.54,196.26 L258.63,196.25 L258.72,196.24 L258.82,196.23 L258.91,196.22 L259.00,196.21 L259.09,196.19 L259.18,196.17 L259.27,196.15 L259.36,196.12 L259.46,196.09 L259.55,196.06 L259.64,196.02 L259.73,195.98 L259.82,195.93 L259.91,195.87 L260.01,195.81 L260.10,195.74 L260.19,195.66 L260.28,195.58 L260.37,195.48 L260.46,195.37 L260.55,195.25 L260.65,195.12 L260.74,194.98 L260.83,194.82 L260.92,194.65 L261.01,194.47 L261.10,194.27 L261.20,194.05 L261.29,193.82 L261.38,193.58 L261.47,193.32 L261.56,193.04 L261.65,192.74 L261.75,192.43 L261.84,192.11 L261.93,191.77 L262.02,191.42 L262.11,191.05 L262.20,190.68 L262.29,190.29 L262.39,189.90 L262.48,189.49 L262.57,189.09 L262.66,188.68 L262.75,188.27 L262.84,187.86 L262.94,187.46 L263.03,187.06 L263.12,186.67 L263.21,186.30 L263.30,185.94 L263.39,185.60 L263.48,185.27 L263.58,184.97 L263.67,184.70 L263.76,184.45 L263.85,184.23 L263.94,184.04 L264.03,183.88 L264.13,183.76 L264.22,183.67 L264.31,183.62 L264.40,183.60 L264.49,183.61 L264.58,183.64 L264.67,183.68 L264.77,183.75 L264.86,183.83 L264.95,183.93 L265.04,184.04 L265.13,184.17 L265.22,184.32 L265.32,184.48 L265.41,184.66 L265.50,184.85 L265.59,185.06 L265.68,185.28 L265.77,185.50 L265.87,185.74 L265.96,185.99 L266.05,186.25 L266.14,186.51 L266.23,186.79 L266.32,187.06 L266.41,187.35 L266.51,187.63 L266.60,187.92 L266.69,188.21 L266.78,188.50 L266.87,188.80 L266.96,189.09 L267.06,189.38 L267.15,189.67 L267.24,189.95 L267.33,190.24 L267.42,190.51 L267.51,190.79 L267.60,191.05 L267.70,191.32 L267.79,191.57 L267.88,191.82 L267.97,192.06 L268.06,192.30 L268.15,192.53 L268.25,192.75 L268.34,192.96 L268.43,193.16 L268.52,193.36 L268.61,193.54 L268.70,193.72 L268.80,193.89 L268.89,194.06 L268.98,194.21 L269.07,194.36 L269.16,194.50 L269.25,194.63 L269.34,194.75 L269.44,194.87 L269.53,194.98 L269.62,195.08 L269.71,195.18 L269.80,195.27 L269.89,195.36 L269.99,195.43 L270.08,195.51 L270.17,195.58 L270.26,195.64 L270.35,195.70 L270.44,195.75 L270.53,195.80 L270.63,195.85 L270.72,195.89 L270.81,195.93 L270.90,195.97 L270.99,196.00 L271.08,196.03 L271.18,196.06 L271.27,196.08 L271.36,196.10 L271.45,196.12 L271.54,196.14 L271.63,196.16 L271.72,196.17 L271.82,196.19 L271.91,196.20 L272.00,196.21 L272.09,196.22 L272.18,196.23 L272.27,196.24 L272.37,196.25 L272.46,196.25 L272.55,196.26 L272.64,196.26 L272.73,196.27 L272.82,196.27 L272.92,196.28 L273.01,196.28 L273.10,196.28 L273.19,196.28 L273.28,196.29 L273.37,196.29 L273.46,196.29 L273.56,196.29 L273.65,196.29 L273.74,196.29 L273.83,196.29 L273.92,196.29 L274.01,196.30 L274.11,196.30 L274.20,196.30 L274.29,196.30 L274.38,196.30 L274.47,196.30 L274.56,196.30 L274.65,196.30 L274.75,196.30 L274.84,196.30 L274.93,196.30 L275.02,196.30 L275.11,196.30 L275.20,196.30 L275.30,196.30 L275.39,196.30 L275.48,196.30 L275.57,196.30 L275.66,196.30 L275.75,196.30 L275.84,196.30 L275.94,196.30 L276.03,196.30 L276.12,196.30 L276.21,196.30 L276.30,196.30 L276.39,196.30 L276.49,196.30 L276.58,196.30 L276.67,196.30 L276.76,196.30 L276.85,196.30 L276.94,196.30 L277.04,196.30 L277.13,196.30 L277.22,196.30 L277.31,196.30 L277.40,196.30 L277.49,196.30 L277.58,196.30 L277.68,196.30 L277.77,196.30 L277.86,196.30 L277.95,196.30 L278.04,196.30 L278.13,196.30 L278.23,196.30 L278.32,196.30 L278.41,196.30 L278.50,196.30 L278.59,196.30 L278.68,196.30 L278.77,196.30 L278.87,196.30 L278.96,196.30 L279.05,196.30 L279.14,196.30 L279.23,196.30 L279.32,196.30 L279.42,196.30 L279.51,196.30 L279.60,196.30 L279.69,196.30 L279.78,196.30 L279.87,196.30 L279.97,196.30 L280.06,196.30 L280.15,196.30 L280.24,196.30 L280.33,196.30 L280.42,196.30 L280.51,196.30 L280.61,196.30 L280.70,196.30 L280.79,196.30 L280.88,196.30 L280.97,196.30 L281.06,196.30 L281.16,196.30 L281.25,196.30 L281.34,196.30 L281.43,196.30 L281.52,196.30 L281.61,196.30 L281.70,196.30 L281.80,196.30 L281.89,196.30 L281.98,196.30 L282.07,196.30 L282.16,196.30 L282.25,196.30 L282.35,196.30 L282.44,196.30 L282.53,196.30 L282.62,196.30 L282.71,196.30 L282.80,196.30 L282.89,196.30 L282.99,196.30 L283.08,196.30 L283.17,196.30 L283.26,196.30 L283.35,196.30 L283.44,196.30 L283.54,196.30 L283.63,196.30 L283.72,196.30 L283.81,196.30 L283.90,196.30 L283.99,196.30 L284.09,196.30 L284.18,196.30 L284.27,196.30 L284.36,196.30 L284.45,196.30 L284.54,196.30 L284.63,196.30 L284.73,196.30 L284.82,196.30 L284.91,196.30 L285.00,196.30 L285.09,196.30 L285.18,196.30 L285.28,196.30 L285.37,196.30 L285.46,196.30 L285.55,196.30 L285.64,196.30 L285.73,196.30 L285.82,196.30 L285.92,196.30 L286.01,196.30 L286.10,196.30 L286.19,196.30 L286.28,196.30 L286.37,196.30 L286.47,196.30 L286.56,196.30 L286.65,196.30 L286.74,196.30 L286.83,196.30 L286.92,196.30 L287.01,196.30 L287.11,196.30 L287.20,196.30 L287.29,196.30 L287.38,196.30 L287.47,196.30 L287.56,196.30 L287.66,196.30 L287.75,196.30 L287.84,196.30 L287.93,196.30 L288.02,196.30 L288.11,196.30 L288.21,196.30 L288.30,196.30 L288.39,196.30 L288.48,196.30 L288.57,196.30 L288.66,196.30 L288.75,196.30 L288.85,196.30 L288.94,196.30 L289.03,196.30 L289.12,196.30 L289.21,196.30 L289.30,196.30 L289.40,196.30 L289.49,196.30 L289.58,196.30 L289.67,196.30 L289.76,196.30 L289.85,196.30 L289.94,196.30 L290.04,196.30 L290.13,196.30 L290.22,196.30 L290.31,196.30 L290.40,196.30 L290.49,196.30 L290.59,196.30 L290.68,196.30 L290.77,196.30 L290.86,196.30 L290.95,196.30 L291.04,196.30 L291.14,196.30 L291.23,196.30 L291.32,196.30 L291.41,196.30 L291.50,196.30 L291.59,196.30 L291.68,196.30 L291.78,196.30 L291.87,196.30 L291.96,196.30 L292.05,196.30 L292.14,196.30 L292.23,196.30 L292.33,196.30 L292.42,196.30 L292.51,196.30 L292.60,196.30" fill="none" stroke="#f27575" stroke-width="1.5" stroke-linejoin="round" />
<text x="107.60" y="37.60" font-size="13" font-weight="bold" text-anchor="middle" fill="#6590f8" >C1</text>
<text x="129.00" y="37.60" font-size="13" font-weight="bold" text-anchor="middle" fill="#6590f8" >C2</text>
<text x="155.90" y="51.90" font-size="13" font-weight="bold" text-anchor="middle" fill="#6590f8" >C3</text>
<text x="202.50" y="60.50" font-size="13" font-weight="bold" text-anchor="middle" fill="#6590f8" >C4</text>
<text x="263.30" y="24.60" font-size="13" font-weight="bold" text-anchor="middle" fill="#6590f8" >TPP</text>
<text x="115.30" y="126.80" font-size="13" font-weight="bold" text-anchor="middle" fill="#f27575" >C1</text>
<text x="141.00" y="142.10" font-size="13" font-weight="bold" text-anchor="middle" fill="#f27575" >C2</text>
<text x="187.40" y="159.80" font-size="13" font-weight="bold" text-anchor="middle" fill="#f27575" >C3</text>
<text x="264.00" y="172.70" font-size="13" font-weight="bold" text-anchor="middle" fill="#f27575" >C4</text>
<text x="263.00" y="118.40" font-size="13" font-weight="bold" text-anchor="middle" fill="#f27575" >OMP</text>
<text x="-0.80" y="12.00" font-size="22" font-weight="bold" text-anchor="start" fill="#000" >a</text>
<rect x="53.57" y="279.90" width="238.73" height="198.05" fill="none" stroke="#000" stroke-width="1.15"/>
<line x1="50.07" y1="477.95" x2="53.57" y2="477.95" stroke="#000" stroke-width="1.15" />
<text x="47.37" y="480.25" font-size="8.5" font-weight="bold" text-anchor="end" fill="#000" >0.0</text>
<line x1="50.07" y1="451.54" x2="53.57" y2="451.54" stroke="#000" stroke-width="1.15" />
<text x="47.37" y="453.84" font-size="8.5" font-weight="bold" text-anchor="end" fill="#000" >0.2</text>
<line x1="50.07" y1="425.14" x2="53.57" y2="425.14" stroke="#000" stroke-width="1.15" />
<text x="47.37" y="427.44" font-size="8.5" font-weight="bold" text-anchor="end" fill="#000" >0.4</text>
<line x1="50.07" y1="398.73" x2="53.57" y2="398.73" stroke="#000" stroke-width="1.15" />
<text x="47.37" y="401.03" font-size="8.5" font-weight="bold" text-anchor="end" fill="#000" >0.6</text>
<line x1="50.07" y1="372.32" x2="53.57" y2="372.32" stroke="#000" stroke-width="1.15" />
<text x="47.37" y="374.62" font-size="8.5" font-weight="bold" text-anchor="end" fill="#000" >0.8</text>
<line x1="50.07" y1="345.92" x2="53.57" y2="345.92" stroke="#000" stroke-width="1.15" />
<text x="47.37" y="348.22" font-size="8.5" font-weight="bold" text-anchor="end" fill="#000" >1.0</text>
<line x1="50.07" y1="319.51" x2="53.57" y2="319.51" stroke="#000" stroke-width="1.15" />
<text x="47.37" y="321.81" font-size="8.5" font-weight="bold" text-anchor="end" fill="#000" >1.2</text>
<line x1="50.07" y1="293.10" x2="53.57" y2="293.10" stroke="#000" stroke-width="1.15" />
<text x="47.37" y="295.40" font-size="8.5" font-weight="bold" text-anchor="end" fill="#000" >1.4</text>
<line x1="51.77" y1="464.75" x2="53.57" y2="464.75" stroke="#000" stroke-width="1.15" />
<line x1="51.77" y1="438.34" x2="53.57" y2="438.34" stroke="#000" stroke-width="1.15" />
<line x1="51.77" y1="411.93" x2="53.57" y2="411.93" stroke="#000" stroke-width="1.15" />
<line x1="51.77" y1="385.53" x2="53.57" y2="385.53" stroke="#000" stroke-width="1.15" />
<line x1="51.77" y1="359.12" x2="53.57" y2="359.12" stroke="#000" stroke-width="1.15" />
<line x1="51.77" y1="332.71" x2="53.57" y2="332.71" stroke="#000" stroke-width="1.15" />
<line x1="51.77" y1="306.31" x2="53.57" y2="306.31" stroke="#000" stroke-width="1.15" />
<line x1="51.77" y1="279.90" x2="53.57" y2="279.90" stroke="#000" stroke-width="1.15" />
<line x1="53.57" y1="477.95" x2="53.57" y2="479.85" stroke="#000" stroke-width="1.15" />
<line x1="113.25" y1="477.95" x2="113.25" y2="479.85" stroke="#000" stroke-width="1.15" />
<line x1="172.94" y1="477.95" x2="172.94" y2="479.85" stroke="#000" stroke-width="1.15" />
<line x1="232.62" y1="477.95" x2="232.62" y2="479.85" stroke="#000" stroke-width="1.15" />
<line x1="292.30" y1="477.95" x2="292.30" y2="479.85" stroke="#000" stroke-width="1.15" />
<text x="83.41" y="491.90" font-size="12.5" font-weight="bold" text-anchor="middle" fill="#000" >C1</text>
<text x="143.09" y="491.90" font-size="12.5" font-weight="bold" text-anchor="middle" fill="#000" >C2</text>
<text x="202.78" y="491.90" font-size="12.5" font-weight="bold" text-anchor="middle" fill="#000" >C3</text>
<text x="262.46" y="491.90" font-size="12.5" font-weight="bold" text-anchor="middle" fill="#000" >C4</text>
<text x="0.00" y="0.00" font-size="13.2" font-weight="bold" text-anchor="middle" fill="#000" transform="translate(22.6,378.5) rotate(-90)">log(k)</text>
<path d="M83.50,387.90 L143.20,363.80 L202.60,335.90 L262.20,308.30" fill="none" stroke="#f27575" stroke-width="1.4" stroke-linejoin="round" />
<path d="M83.50,432.50 L143.20,411.00 L202.60,385.30 L262.10,360.00" fill="none" stroke="#6590f8" stroke-width="1.4" stroke-linejoin="round" />
<rect x="81.50" y="385.90" width="4.0" height="4.0" fill="#fff" stroke="#f27575" stroke-width="1.1"/>
<rect x="141.20" y="361.80" width="4.0" height="4.0" fill="#fff" stroke="#f27575" stroke-width="1.1"/>
<rect x="200.60" y="333.90" width="4.0" height="4.0" fill="#fff" stroke="#f27575" stroke-width="1.1"/>
<rect x="260.20" y="306.30" width="4.0" height="4.0" fill="#fff" stroke="#f27575" stroke-width="1.1"/>
<circle cx="83.50" cy="432.50" r="2.15" fill="#fff" stroke="#6590f8" stroke-width="1.1"/>
<circle cx="143.20" cy="411.00" r="2.15" fill="#fff" stroke="#6590f8" stroke-width="1.1"/>
<circle cx="202.60" cy="385.30" r="2.15" fill="#fff" stroke="#6590f8" stroke-width="1.1"/>
<circle cx="262.10" cy="360.00" r="2.15" fill="#fff" stroke="#6590f8" stroke-width="1.1"/>
<line x1="72.60" y1="299.30" x2="94.50" y2="299.30" stroke="#f27575" stroke-width="1.4" />
<rect x="81.40" y="297.10" width="4.4" height="4.4" fill="#fff" stroke="#f27575" stroke-width="1.1"/>
<line x1="72.60" y1="312.90" x2="94.50" y2="312.90" stroke="#6590f8" stroke-width="1.4" />
<circle cx="83.6" cy="312.9" r="2.3" fill="#fff" stroke="#6590f8" stroke-width="1.1"/>
<text x="97.60" y="302.30" font-size="9.5"  text-anchor="start" fill="#f27575" stroke="#f27575" stroke-width="0.5">OMS</text>
<text x="97.60" y="316.40" font-size="9.5"  text-anchor="start" fill="#6590f8" stroke="#6590f8" stroke-width="0.5">TPP</text>
<text x="-0.30" y="279.00" font-size="22" font-weight="bold" text-anchor="start" fill="#000" >b</text>
<rect x="362.00" y="4.50" width="317.30" height="198.00" fill="none" stroke="#000" stroke-width="1.15"/>
<line x1="357.00" y1="202.50" x2="362.00" y2="202.50" stroke="#000" stroke-width="1.15" />
<text x="353.40" y="205.10" font-size="9" font-weight="bold" text-anchor="end" fill="#000" >2</text>
<line x1="357.00" y1="169.50" x2="362.00" y2="169.50" stroke="#000" stroke-width="1.15" />
<text x="353.40" y="172.10" font-size="9" font-weight="bold" text-anchor="end" fill="#000" >3</text>
<line x1="357.00" y1="136.50" x2="362.00" y2="136.50" stroke="#000" stroke-width="1.15" />
<text x="353.40" y="139.10" font-size="9" font-weight="bold" text-anchor="end" fill="#000" >4</text>
<line x1="357.00" y1="103.50" x2="362.00" y2="103.50" stroke="#000" stroke-width="1.15" />
<text x="353.40" y="106.10" font-size="9" font-weight="bold" text-anchor="end" fill="#000" >5</text>
<line x1="357.00" y1="70.50" x2="362.00" y2="70.50" stroke="#000" stroke-width="1.15" />
<text x="353.40" y="73.10" font-size="9" font-weight="bold" text-anchor="end" fill="#000" >6</text>
<line x1="357.00" y1="37.50" x2="362.00" y2="37.50" stroke="#000" stroke-width="1.15" />
<text x="353.40" y="40.10" font-size="9" font-weight="bold" text-anchor="end" fill="#000" >7</text>
<line x1="357.00" y1="4.50" x2="362.00" y2="4.50" stroke="#000" stroke-width="1.15" />
<text x="353.40" y="7.10" font-size="9" font-weight="bold" text-anchor="end" fill="#000" >8</text>
<line x1="359.40" y1="186.00" x2="362.00" y2="186.00" stroke="#000" stroke-width="1.15" />
<line x1="359.40" y1="153.00" x2="362.00" y2="153.00" stroke="#000" stroke-width="1.15" />
<line x1="359.40" y1="120.00" x2="362.00" y2="120.00" stroke="#000" stroke-width="1.15" />
<line x1="359.40" y1="87.00" x2="362.00" y2="87.00" stroke="#000" stroke-width="1.15" />
<line x1="359.40" y1="54.00" x2="362.00" y2="54.00" stroke="#000" stroke-width="1.15" />
<line x1="359.40" y1="21.00" x2="362.00" y2="21.00" stroke="#000" stroke-width="1.15" />
<line x1="362.00" y1="202.50" x2="362.00" y2="207.50" stroke="#000" stroke-width="1.15" />
<text x="362.00" y="218.50" font-size="9" font-weight="bold" text-anchor="middle" fill="#000" >0</text>
<line x1="425.46" y1="202.50" x2="425.46" y2="207.50" stroke="#000" stroke-width="1.15" />
<text x="425.46" y="218.50" font-size="9" font-weight="bold" text-anchor="middle" fill="#000" >4</text>
<line x1="488.92" y1="202.50" x2="488.92" y2="207.50" stroke="#000" stroke-width="1.15" />
<text x="488.92" y="218.50" font-size="9" font-weight="bold" text-anchor="middle" fill="#000" >8</text>
<line x1="552.38" y1="202.50" x2="552.38" y2="207.50" stroke="#000" stroke-width="1.15" />
<text x="552.38" y="218.50" font-size="9" font-weight="bold" text-anchor="middle" fill="#000" >12</text>
<line x1="615.84" y1="202.50" x2="615.84" y2="207.50" stroke="#000" stroke-width="1.15" />
<text x="615.84" y="218.50" font-size="9" font-weight="bold" text-anchor="middle" fill="#000" >16</text>
<line x1="679.30" y1="202.50" x2="679.30" y2="207.50" stroke="#000" stroke-width="1.15" />
<text x="679.30" y="218.50" font-size="9" font-weight="bold" text-anchor="middle" fill="#000" >20</text>
<line x1="393.73" y1="202.50" x2="393.73" y2="205.10" stroke="#000" stroke-width="1.15" />
<line x1="457.19" y1="202.50" x2="457.19" y2="205.10" stroke="#000" stroke-width="1.15" />
<line x1="520.65" y1="202.50" x2="520.65" y2="205.10" stroke="#000" stroke-width="1.15" />
<line x1="584.11" y1="202.50" x2="584.11" y2="205.10" stroke="#000" stroke-width="1.15" />
<line x1="647.57" y1="202.50" x2="647.57" y2="205.10" stroke="#000" stroke-width="1.15" />
<text x="511.30" y="233.80" font-size="13" font-weight="bold" text-anchor="middle" fill="#000" >v</text>
<text x="0.00" y="0.00" font-size="14.5" font-weight="bold" text-anchor="middle" fill="#000" transform="translate(332.0,104.9) rotate(-90)">h</text>
<text x="309.30" y="11.60" font-size="22" font-weight="bold" text-anchor="start" fill="#000" >c</text>
<clipPath id="cc"><rect x="362.0" y="4.5" width="317.29999999999995" height="198.0"/></clipPath>
<g clip-path="url(#cc)">
<path d="M370.73,-78.73 L370.77,-77.17 L370.82,-75.61 L370.86,-74.07 L370.91,-72.53 L370.95,-71.00 L371.00,-69.48 L371.05,-67.97 L371.09,-66.47 L371.14,-64.97 L371.19,-63.49 L371.23,-62.01 L371.28,-60.54 L371.33,-59.08 L371.38,-57.63 L371.42,-56.19 L371.47,-54.75 L371.52,-53.32 L371.57,-51.90 L371.62,-50.49 L371.67,-49.09 L371.72,-47.69 L371.77,-46.31 L371.82,-44.93 L371.87,-43.55 L371.92,-42.19 L371.97,-40.83 L372.02,-39.49 L372.07,-38.15 L372.13,-36.81 L372.18,-35.49 L372.23,-34.17 L372.28,-32.86 L372.34,-31.56 L372.39,-30.26 L372.44,-28.98 L372.50,-27.70 L372.55,-26.43 L372.61,-25.16 L372.66,-23.90 L372.71,-22.65 L372.77,-21.41 L372.83,-20.17 L372.88,-18.95 L372.94,-17.72 L372.99,-16.51 L373.05,-15.30 L373.11,-14.10 L373.16,-12.91 L373.22,-11.72 L373.28,-10.54 L373.34,-9.37 L373.40,-8.21 L373.45,-7.05 L373.51,-5.90 L373.57,-4.75 L373.63,-3.62 L373.69,-2.48 L373.75,-1.36 L373.81,-0.24 L373.87,0.87 L373.93,1.97 L374.00,3.07 L374.06,4.16 L374.12,5.25 L374.18,6.32 L374.24,7.40 L374.31,8.46 L374.37,9.52 L374.43,10.57 L374.50,11.62 L374.56,12.66 L374.63,13.69 L374.69,14.72 L374.76,15.74 L374.82,16.76 L374.89,17.76 L374.96,18.77 L375.02,19.76 L375.09,20.75 L375.16,21.74 L375.22,22.72 L375.29,23.69 L375.36,24.65 L375.43,25.62 L375.50,26.57 L375.57,27.52 L375.64,28.46 L375.71,29.40 L375.78,30.33 L375.85,31.25 L375.92,32.17 L375.99,33.09 L376.07,33.99 L376.14,34.90 L376.21,35.79 L376.28,36.68 L376.36,37.57 L376.43,38.45 L376.51,39.32 L376.58,40.19 L376.65,41.06 L376.73,41.91 L376.81,42.77 L376.88,43.61 L376.96,44.45 L377.04,45.29 L377.11,46.12 L377.19,46.95 L377.27,47.77 L377.35,48.58 L377.43,49.39 L377.51,50.20 L377.59,50.99 L377.67,51.79 L377.75,52.58 L377.83,53.36 L377.91,54.14 L377.99,54.91 L378.07,55.68 L378.16,56.44 L378.24,57.20 L378.32,57.95 L378.41,58.70 L378.49,59.45 L378.58,60.18 L378.66,60.92 L378.75,61.65 L378.83,62.37 L378.92,63.09 L379.01,63.80 L379.10,64.51 L379.18,65.22 L379.27,65.92 L379.36,66.61 L379.45,67.30 L379.54,67.98 L379.63,68.67 L379.72,69.34 L379.81,70.01 L379.90,70.68 L380.00,71.34 L380.09,72.00 L380.18,72.65 L380.27,73.30 L380.37,73.94 L380.46,74.58 L380.56,75.22 L380.65,75.85 L380.75,76.47 L380.85,77.09 L380.94,77.71 L381.04,78.32 L381.14,78.93 L381.24,79.54 L381.34,80.14 L381.44,80.73 L381.54,81.32 L381.64,81.91 L381.74,82.49 L381.84,83.07 L381.94,83.64 L382.04,84.21 L382.15,84.78 L382.25,85.34 L382.36,85.89 L382.46,86.45 L382.57,86.99 L382.67,87.54 L382.78,88.08 L382.88,88.62 L382.99,89.15 L383.10,89.68 L383.21,90.20 L383.32,90.72 L383.43,91.24 L383.54,91.75 L383.65,92.26 L383.76,92.76 L383.87,93.26 L383.98,93.76 L384.10,94.25 L384.21,94.74 L384.33,95.22 L384.44,95.70 L384.56,96.18 L384.67,96.65 L384.79,97.12 L384.91,97.59 L385.02,98.05 L385.14,98.51 L385.26,98.96 L385.38,99.41 L385.50,99.86 L385.62,100.30 L385.74,100.74 L385.87,101.17 L385.99,101.61 L386.11,102.03 L386.24,102.46 L386.36,102.88 L386.49,103.30 L386.61,103.71 L386.74,104.12 L386.87,104.53 L387.00,104.93 L387.12,105.33 L387.25,105.72 L387.38,106.12 L387.51,106.50 L387.65,106.89 L387.78,107.27 L387.91,107.65 L388.04,108.02 L388.18,108.40 L388.31,108.76 L388.45,109.13 L388.58,109.49 L388.72,109.85 L388.86,110.20 L389.00,110.55 L389.13,110.90 L389.27,111.24 L389.41,111.58 L389.56,111.92 L389.70,112.25 L389.84,112.58 L389.98,112.91 L390.13,113.24 L390.27,113.56 L390.42,113.87 L390.56,114.19 L390.71,114.50 L390.86,114.81 L391.01,115.11 L391.16,115.41 L391.31,115.71 L391.46,116.01 L391.61,116.30 L391.76,116.59 L391.91,116.87 L392.07,117.15 L392.22,117.43 L392.38,117.71 L392.54,117.98 L392.69,118.25 L392.85,118.52 L393.01,118.78 L393.17,119.04 L393.33,119.30 L393.49,119.55 L393.65,119.81 L393.82,120.05 L393.98,120.30 L394.14,120.54 L394.31,120.78 L394.48,121.02 L394.64,121.25 L394.81,121.48 L394.98,121.71 L395.15,121.93 L395.32,122.15 L395.49,122.37 L395.66,122.59 L395.84,122.80 L396.01,123.01 L396.19,123.21 L396.36,123.42 L396.54,123.62 L396.72,123.82 L396.90,124.01 L397.08,124.20 L397.26,124.39 L397.44,124.58 L397.62,124.76 L397.80,124.94 L397.99,125.12 L398.17,125.29 L398.36,125.47 L398.55,125.64 L398.73,125.80 L398.92,125.97 L399.11,126.13 L399.30,126.28 L399.50,126.44 L399.69,126.59 L399.88,126.74 L400.08,126.89 L400.27,127.03 L400.47,127.17 L400.67,127.31 L400.87,127.45 L401.07,127.58 L401.27,127.71 L401.47,127.84 L401.67,127.96 L401.88,128.09 L402.08,128.21 L402.29,128.32 L402.50,128.44 L402.71,128.55 L402.92,128.66 L403.13,128.76 L403.34,128.87 L403.55,128.97 L403.76,129.07 L403.98,129.16 L404.20,129.25 L404.41,129.34 L404.63,129.43 L404.85,129.52 L405.07,129.60 L405.29,129.68 L405.52,129.76 L405.74,129.83 L405.96,129.90 L406.19,129.97 L406.42,130.04 L406.65,130.10 L406.88,130.16 L407.11,130.22 L407.34,130.28 L407.57,130.33 L407.81,130.39 L408.04,130.43 L408.28,130.48 L408.52,130.52 L408.76,130.56 L409.00,130.60 L409.24,130.64 L409.48,130.67 L409.73,130.70 L409.97,130.73 L410.22,130.76 L410.47,130.78 L410.72,130.80 L410.97,130.82 L411.22,130.84 L411.47,130.85 L411.73,130.86 L411.99,130.87 L412.24,130.87 L412.50,130.88 L412.76,130.88 L413.02,130.88 L413.28,130.87 L413.55,130.87 L413.81,130.86 L414.08,130.84 L414.35,130.83 L414.62,130.81 L414.89,130.80 L415.16,130.77 L415.43,130.75 L415.71,130.72 L415.99,130.69 L416.26,130.66 L416.54,130.63 L416.82,130.59 L417.11,130.55 L417.39,130.51 L417.68,130.47 L417.96,130.42 L418.25,130.38 L418.54,130.32 L418.83,130.27 L419.12,130.22 L419.42,130.16 L419.71,130.10 L420.01,130.03 L420.31,129.97 L420.61,129.90 L420.91,129.83 L421.21,129.76 L421.52,129.68 L421.82,129.61 L422.13,129.53 L422.44,129.44 L422.75,129.36 L423.07,129.27 L423.38,129.18 L423.70,129.09 L424.01,129.00 L424.33,128.90 L424.65,128.80 L424.98,128.70 L425.30,128.59 L425.63,128.49 L425.95,128.38 L426.28,128.27 L426.61,128.15 L426.95,128.04 L427.28,127.92 L427.62,127.80 L427.95,127.68 L428.29,127.55 L428.63,127.42 L428.98,127.29 L429.32,127.16 L429.67,127.02 L430.02,126.89 L430.37,126.75 L430.72,126.60 L431.07,126.46 L431.43,126.31 L431.78,126.16 L432.14,126.01 L432.50,125.86 L432.87,125.70 L433.23,125.54 L433.60,125.38 L433.97,125.21 L434.34,125.05 L434.71,124.88 L435.08,124.71 L435.46,124.53 L435.84,124.36 L436.22,124.18 L436.60,124.00 L436.98,123.81 L437.37,123.63 L437.76,123.44 L438.15,123.25 L438.54,123.06 L438.93,122.86 L439.33,122.66 L439.73,122.46 L440.13,122.26 L440.53,122.06 L440.93,121.85 L441.34,121.64 L441.75,121.43 L442.16,121.21 L442.57,120.99 L442.99,120.77 L443.40,120.55 L443.82,120.33 L444.24,120.10 L444.67,119.87 L445.09,119.64 L445.52,119.40 L445.95,119.17 L446.38,118.93 L446.82,118.69 L447.25,118.44 L447.69,118.20 L448.13,117.95 L448.58,117.70 L449.02,117.44 L449.47,117.18 L449.92,116.93 L450.37,116.66 L450.83,116.40 L451.28,116.13 L451.74,115.86 L452.21,115.59 L452.67,115.32 L453.14,115.04 L453.61,114.76 L454.08,114.48 L454.55,114.20 L455.03,113.91 L455.51,113.62 L455.99,113.33 L456.47,113.04 L456.96,112.74 L457.45,112.44 L457.94,112.14 L458.43,111.84 L458.93,111.53 L459.43,111.22 L459.93,110.91 L460.43,110.59 L460.94,110.28 L461.45,109.96 L461.96,109.63 L462.47,109.31 L462.99,108.98 L463.51,108.65 L464.03,108.32 L464.56,107.99 L465.09,107.65 L465.62,107.31 L466.15,106.96 L466.69,106.62 L467.23,106.27 L467.77,105.92 L468.31,105.57 L468.86,105.21 L469.41,104.85 L469.96,104.49 L470.52,104.13 L471.08,103.76 L471.64,103.39 L472.20,103.02 L472.77,102.64 L473.34,102.27 L473.91,101.89 L474.49,101.50 L475.07,101.12 L475.65,100.73 L476.23,100.34 L476.82,99.95 L477.41,99.55 L478.01,99.15 L478.60,98.75 L479.20,98.35 L479.81,97.94 L480.41,97.53 L481.02,97.12 L481.64,96.70 L482.25,96.28 L482.87,95.86 L483.49,95.44 L484.12,95.01 L484.75,94.58 L485.38,94.15 L486.01,93.71 L486.65,93.28 L487.29,92.84 L487.94,92.39 L488.59,91.95 L489.24,91.50 L489.89,91.04 L490.55,90.59 L491.21,90.13 L491.88,89.67 L492.55,89.21 L493.22,88.74 L493.89,88.27 L494.57,87.80 L495.25,87.32 L495.94,86.85 L496.63,86.36 L497.32,85.88 L498.02,85.39 L498.72,84.90 L499.42,84.41 L500.13,83.91 L500.84,83.42 L501.56,82.91 L502.27,82.41 L503.00,81.90 L503.72,81.39 L504.45,80.88 L505.18,80.36 L505.92,79.84 L506.66,79.32 L507.41,78.79 L508.15,78.26 L508.91,77.73 L509.66,77.19 L510.42,76.65 L511.19,76.11 L511.95,75.57 L512.73,75.02 L513.50,74.47 L514.28,73.91 L515.07,73.36 L515.85,72.80 L516.65,72.23 L517.44,71.66 L518.24,71.09 L519.05,70.52 L519.85,69.94 L520.67,69.36 L521.48,68.78 L522.30,68.20 L523.13,67.61 L523.96,67.01 L524.79,66.42 L525.63,65.82 L526.47,65.21 L527.32,64.61 L528.17,64.00 L529.02,63.38 L529.88,62.77 L530.75,62.15 L531.62,61.53 L532.49,60.90 L533.37,60.27 L534.25,59.64 L535.14,59.00 L536.03,58.36 L536.92,57.72 L537.82,57.07 L538.73,56.42 L539.64,55.76 L540.55,55.11 L541.47,54.45 L542.39,53.78 L543.32,53.11 L544.26,52.44 L545.19,51.77 L546.14,51.09 L547.08,50.40 L548.04,49.72 L548.99,49.03 L549.96,48.33 L550.92,47.64 L551.90,46.94 L552.87,46.23 L553.86,45.52 L554.84,44.81 L555.84,44.10 L556.83,43.38 L557.84,42.66 L558.84,41.93 L559.86,41.20 L560.88,40.46 L561.90,39.73 L562.93,38.98 L563.96,38.24 L565.00,37.49 L566.05,36.74 L567.10,35.98 L568.15,35.22 L569.21,34.45 L570.28,33.68 L571.35,32.91 L572.43,32.13 L573.51,31.35 L574.60,30.57 L575.70,29.78 L576.80,28.99 L577.90,28.19 L579.01,27.39 L580.13,26.58 L581.25,25.77 L582.38,24.96 L583.52,24.14 L584.66,23.32 L585.80,22.50 L586.95,21.67 L588.11,20.83 L589.27,20.00 L590.44,19.15 L591.62,18.31 L592.80,17.46 L593.99,16.60 L595.18,15.74 L596.38,14.88 L597.59,14.01 L598.80,13.14 L600.02,12.26 L601.25,11.38 L602.48,10.50 L603.72,9.61 L604.96,8.71 L606.21,7.81 L607.47,6.91 L608.73,6.00 L610.00,5.09 L611.28,4.17 L612.56,3.25 L613.85,2.33 L615.15,1.40 L616.45,0.46 L617.76,-0.48 L619.07,-1.42 L620.40,-2.37 L621.73,-3.32 L623.06,-4.28 L624.41,-5.24 L625.76,-6.21 L627.12,-7.18 L628.48,-8.16 L629.85,-9.14 L631.23,-10.13 L632.62,-11.12 L634.01,-12.11 L635.41,-13.12 L636.82,-14.12 L638.23,-15.13 L639.65,-16.15 L641.08,-17.17 L642.52,-18.19 L643.96,-19.22 L645.41,-20.26 L646.87,-21.30 L648.34,-22.35 L649.81,-23.40 L651.29,-24.45 L652.78,-25.51 L654.28,-26.58 L655.78,-27.65 L657.30,-28.73 L658.82,-29.81 L660.34,-30.90 L661.88,-31.99 L663.42,-33.09 L664.97,-34.19 L666.53,-35.30 L668.10,-36.41 L669.68,-37.53 L671.26,-38.66 L672.85,-39.78 L674.45,-40.92 L676.06,-42.06 L677.68,-43.21 L679.30,-44.36" fill="none" stroke="#6590f8" stroke-width="1.5" stroke-linejoin="round" />
<path d="M370.73,-34.53 L370.77,-33.16 L370.82,-31.79 L370.86,-30.43 L370.91,-29.07 L370.95,-27.73 L371.00,-26.39 L371.05,-25.05 L371.09,-23.73 L371.14,-22.41 L371.19,-21.10 L371.24,-19.80 L371.28,-18.50 L371.33,-17.21 L371.38,-15.92 L371.43,-14.65 L371.48,-13.38 L371.53,-12.11 L371.58,-10.86 L371.63,-9.61 L371.68,-8.36 L371.73,-7.13 L371.78,-5.90 L371.83,-4.67 L371.88,-3.46 L371.93,-2.25 L371.98,-1.04 L372.03,0.15 L372.08,1.34 L372.14,2.53 L372.19,3.71 L372.24,4.88 L372.30,6.05 L372.35,7.20 L372.40,8.36 L372.46,9.51 L372.51,10.65 L372.56,11.78 L372.62,12.91 L372.67,14.03 L372.73,15.15 L372.79,16.26 L372.84,17.36 L372.90,18.46 L372.95,19.56 L373.01,20.64 L373.07,21.72 L373.13,22.80 L373.18,23.87 L373.24,24.93 L373.30,25.99 L373.36,27.04 L373.42,28.09 L373.48,29.13 L373.54,30.17 L373.59,31.19 L373.66,32.22 L373.72,33.24 L373.78,34.25 L373.84,35.26 L373.90,36.26 L373.96,37.26 L374.02,38.25 L374.08,39.23 L374.15,40.21 L374.21,41.19 L374.27,42.16 L374.34,43.12 L374.40,44.08 L374.47,45.04 L374.53,45.99 L374.59,46.93 L374.66,47.87 L374.73,48.80 L374.79,49.73 L374.86,50.65 L374.92,51.57 L374.99,52.49 L375.06,53.39 L375.13,54.30 L375.19,55.20 L375.26,56.09 L375.33,56.98 L375.40,57.86 L375.47,58.74 L375.54,59.61 L375.61,60.48 L375.68,61.35 L375.75,62.21 L375.82,63.06 L375.89,63.91 L375.97,64.76 L376.04,65.60 L376.11,66.43 L376.18,67.27 L376.26,68.09 L376.33,68.91 L376.41,69.73 L376.48,70.55 L376.56,71.35 L376.63,72.16 L376.71,72.96 L376.78,73.75 L376.86,74.54 L376.94,75.33 L377.01,76.11 L377.09,76.89 L377.17,77.66 L377.25,78.43 L377.33,79.20 L377.41,79.96 L377.49,80.71 L377.57,81.46 L377.65,82.21 L377.73,82.96 L377.81,83.69 L377.89,84.43 L377.98,85.16 L378.06,85.89 L378.14,86.61 L378.22,87.33 L378.31,88.04 L378.39,88.75 L378.48,89.46 L378.56,90.16 L378.65,90.86 L378.74,91.56 L378.82,92.25 L378.91,92.93 L379.00,93.61 L379.09,94.29 L379.17,94.97 L379.26,95.64 L379.35,96.31 L379.44,96.97 L379.53,97.63 L379.62,98.29 L379.72,98.94 L379.81,99.59 L379.90,100.23 L379.99,100.87 L380.09,101.51 L380.18,102.14 L380.27,102.77 L380.37,103.40 L380.46,104.02 L380.56,104.64 L380.65,105.25 L380.75,105.86 L380.85,106.47 L380.95,107.08 L381.04,107.68 L381.14,108.27 L381.24,108.87 L381.34,109.46 L381.44,110.05 L381.54,110.63 L381.64,111.21 L381.75,111.78 L381.85,112.36 L381.95,112.93 L382.06,113.49 L382.16,114.06 L382.26,114.62 L382.37,115.17 L382.47,115.73 L382.58,116.28 L382.69,116.82 L382.79,117.36 L382.90,117.90 L383.01,118.44 L383.12,118.97 L383.23,119.50 L383.34,120.03 L383.45,120.55 L383.56,121.07 L383.67,121.59 L383.78,122.11 L383.90,122.62 L384.01,123.13 L384.12,123.63 L384.24,124.13 L384.35,124.63 L384.47,125.13 L384.59,125.62 L384.70,126.11 L384.82,126.59 L384.94,127.08 L385.06,127.56 L385.18,128.04 L385.30,128.51 L385.42,128.98 L385.54,129.45 L385.66,129.92 L385.78,130.38 L385.91,130.84 L386.03,131.29 L386.16,131.75 L386.28,132.20 L386.41,132.65 L386.53,133.09 L386.66,133.54 L386.79,133.97 L386.92,134.41 L387.05,134.85 L387.18,135.28 L387.31,135.71 L387.44,136.13 L387.57,136.55 L387.70,136.97 L387.84,137.39 L387.97,137.81 L388.10,138.22 L388.24,138.63 L388.38,139.03 L388.51,139.44 L388.65,139.84 L388.79,140.24 L388.93,140.63 L389.07,141.03 L389.21,141.42 L389.35,141.81 L389.49,142.19 L389.63,142.57 L389.77,142.95 L389.92,143.33 L390.06,143.71 L390.21,144.08 L390.35,144.45 L390.50,144.82 L390.65,145.18 L390.80,145.54 L390.95,145.90 L391.10,146.26 L391.25,146.62 L391.40,146.97 L391.55,147.32 L391.71,147.67 L391.86,148.01 L392.01,148.35 L392.17,148.69 L392.33,149.03 L392.48,149.37 L392.64,149.70 L392.80,150.03 L392.96,150.36 L393.12,150.68 L393.28,151.01 L393.44,151.33 L393.61,151.65 L393.77,151.96 L393.93,152.28 L394.10,152.59 L394.27,152.90 L394.43,153.20 L394.60,153.51 L394.77,153.81 L394.94,154.11 L395.11,154.41 L395.28,154.71 L395.46,155.00 L395.63,155.29 L395.80,155.58 L395.98,155.87 L396.15,156.15 L396.33,156.43 L396.51,156.71 L396.69,156.99 L396.87,157.26 L397.05,157.54 L397.23,157.81 L397.41,158.08 L397.60,158.35 L397.78,158.61 L397.97,158.87 L398.15,159.13 L398.34,159.39 L398.53,159.65 L398.72,159.90 L398.91,160.15 L399.10,160.40 L399.29,160.65 L399.48,160.90 L399.68,161.14 L399.87,161.38 L400.07,161.62 L400.27,161.86 L400.47,162.09 L400.66,162.33 L400.87,162.56 L401.07,162.79 L401.27,163.01 L401.47,163.24 L401.68,163.46 L401.88,163.68 L402.09,163.90 L402.30,164.12 L402.51,164.33 L402.72,164.54 L402.93,164.75 L403.14,164.96 L403.35,165.17 L403.57,165.38 L403.78,165.58 L404.00,165.78 L404.22,165.98 L404.44,166.18 L404.66,166.37 L404.88,166.56 L405.10,166.75 L405.32,166.94 L405.55,167.13 L405.77,167.32 L406.00,167.50 L406.23,167.68 L406.46,167.86 L406.69,168.04 L406.92,168.22 L407.15,168.39 L407.38,168.56 L407.62,168.73 L407.86,168.90 L408.09,169.07 L408.33,169.23 L408.57,169.39 L408.81,169.56 L409.06,169.71 L409.30,169.87 L409.55,170.03 L409.79,170.18 L410.04,170.33 L410.29,170.48 L410.54,170.63 L410.79,170.78 L411.04,170.92 L411.30,171.06 L411.55,171.20 L411.81,171.34 L412.07,171.48 L412.33,171.62 L412.59,171.75 L412.85,171.88 L413.11,172.01 L413.38,172.14 L413.65,172.27 L413.91,172.39 L414.18,172.51 L414.45,172.63 L414.72,172.75 L415.00,172.87 L415.27,172.99 L415.55,173.10 L415.83,173.21 L416.10,173.32 L416.38,173.43 L416.67,173.54 L416.95,173.65 L417.23,173.75 L417.52,173.85 L417.81,173.95 L418.10,174.05 L418.39,174.15 L418.68,174.24 L418.97,174.33 L419.27,174.43 L419.57,174.52 L419.86,174.60 L420.16,174.69 L420.47,174.78 L420.77,174.86 L421.07,174.94 L421.38,175.02 L421.69,175.10 L422.00,175.17 L422.31,175.25 L422.62,175.32 L422.93,175.39 L423.25,175.46 L423.57,175.53 L423.89,175.60 L424.21,175.66 L424.53,175.72 L424.85,175.79 L425.18,175.84 L425.51,175.90 L425.84,175.96 L426.17,176.01 L426.50,176.07 L426.83,176.12 L427.17,176.17 L427.51,176.21 L427.85,176.26 L428.19,176.31 L428.53,176.35 L428.88,176.39 L429.22,176.43 L429.57,176.47 L429.92,176.50 L430.27,176.54 L430.63,176.57 L430.98,176.60 L431.34,176.63 L431.70,176.66 L432.06,176.69 L432.42,176.71 L432.79,176.74 L433.16,176.76 L433.52,176.78 L433.90,176.80 L434.27,176.81 L434.64,176.83 L435.02,176.84 L435.40,176.85 L435.78,176.86 L436.16,176.87 L436.54,176.88 L436.93,176.88 L437.32,176.89 L437.71,176.89 L438.10,176.89 L438.50,176.89 L438.89,176.89 L439.29,176.88 L439.69,176.88 L440.09,176.87 L440.50,176.86 L440.91,176.85 L441.31,176.84 L441.73,176.82 L442.14,176.81 L442.55,176.79 L442.97,176.77 L443.39,176.75 L443.81,176.73 L444.24,176.70 L444.66,176.68 L445.09,176.65 L445.52,176.62 L445.95,176.59 L446.39,176.56 L446.83,176.53 L447.27,176.49 L447.71,176.46 L448.15,176.42 L448.60,176.38 L449.05,176.34 L449.50,176.29 L449.95,176.25 L450.41,176.20 L450.87,176.15 L451.33,176.11 L451.79,176.05 L452.26,176.00 L452.72,175.95 L453.19,175.89 L453.67,175.83 L454.14,175.77 L454.62,175.71 L455.10,175.65 L455.58,175.59 L456.07,175.52 L456.55,175.45 L457.04,175.38 L457.54,175.31 L458.03,175.24 L458.53,175.17 L459.03,175.09 L459.53,175.01 L460.04,174.94 L460.55,174.86 L461.06,174.77 L461.57,174.69 L462.09,174.60 L462.60,174.52 L463.13,174.43 L463.65,174.34 L464.18,174.25 L464.71,174.15 L465.24,174.06 L465.77,173.96 L466.31,173.86 L466.85,173.76 L467.39,173.66 L467.94,173.56 L468.49,173.45 L469.04,173.35 L469.60,173.24 L470.15,173.13 L470.71,173.02 L471.28,172.90 L471.84,172.79 L472.41,172.67 L472.99,172.55 L473.56,172.43 L474.14,172.31 L474.72,172.19 L475.30,172.06 L475.89,171.94 L476.48,171.81 L477.07,171.68 L477.67,171.55 L478.27,171.41 L478.87,171.28 L479.48,171.14 L480.09,171.00 L480.70,170.86 L481.31,170.72 L481.93,170.58 L482.55,170.43 L483.18,170.28 L483.81,170.14 L484.44,169.99 L485.07,169.83 L485.71,169.68 L486.35,169.52 L487.00,169.37 L487.64,169.21 L488.30,169.05 L488.95,168.88 L489.61,168.72 L490.27,168.55 L490.93,168.39 L491.60,168.22 L492.27,168.05 L492.95,167.87 L493.63,167.70 L494.31,167.52 L495.00,167.35 L495.68,167.17 L496.38,166.98 L497.07,166.80 L497.77,166.62 L498.48,166.43 L499.18,166.24 L499.90,166.05 L500.61,165.86 L501.33,165.66 L502.05,165.47 L502.78,165.27 L503.51,165.07 L504.24,164.87 L504.98,164.67 L505.72,164.46 L506.46,164.26 L507.21,164.05 L507.96,163.84 L508.72,163.63 L509.48,163.41 L510.24,163.20 L511.01,162.98 L511.78,162.76 L512.56,162.54 L513.34,162.32 L514.13,162.09 L514.91,161.87 L515.71,161.64 L516.50,161.41 L517.30,161.18 L518.11,160.94 L518.92,160.71 L519.73,160.47 L520.55,160.23 L521.37,159.99 L522.20,159.75 L523.03,159.50 L523.86,159.26 L524.70,159.01 L525.54,158.76 L526.39,158.50 L527.24,158.25 L528.10,157.99 L528.96,157.74 L529.82,157.48 L530.69,157.21 L531.57,156.95 L532.45,156.68 L533.33,156.42 L534.22,156.15 L535.11,155.87 L536.01,155.60 L536.91,155.33 L537.82,155.05 L538.73,154.77 L539.64,154.49 L540.56,154.21 L541.49,153.92 L542.42,153.63 L543.35,153.34 L544.29,153.05 L545.24,152.76 L546.19,152.46 L547.14,152.17 L548.10,151.87 L549.07,151.57 L550.04,151.27 L551.01,150.96 L551.99,150.65 L552.97,150.34 L553.96,150.03 L554.96,149.72 L555.96,149.41 L556.96,149.09 L557.97,148.77 L558.99,148.45 L560.01,148.13 L561.04,147.80 L562.07,147.47 L563.11,147.14 L564.15,146.81 L565.20,146.48 L566.25,146.14 L567.31,145.81 L568.37,145.47 L569.44,145.13 L570.52,144.78 L571.60,144.44 L572.68,144.09 L573.77,143.74 L574.87,143.39 L575.97,143.03 L577.08,142.68 L578.20,142.32 L579.32,141.96 L580.44,141.59 L581.58,141.23 L582.71,140.86 L583.86,140.49 L585.01,140.12 L586.16,139.75 L587.33,139.37 L588.49,139.00 L589.67,138.62 L590.85,138.23 L592.03,137.85 L593.22,137.46 L594.42,137.08 L595.63,136.68 L596.84,136.29 L598.06,135.90 L599.28,135.50 L600.51,135.10 L601.74,134.70 L602.99,134.29 L604.24,133.89 L605.49,133.48 L606.75,133.07 L608.02,132.66 L609.30,132.24 L610.58,131.83 L611.87,131.41 L613.16,130.98 L614.46,130.56 L615.77,130.13 L617.09,129.71 L618.41,129.27 L619.74,128.84 L621.07,128.41 L622.41,127.97 L623.76,127.53 L625.12,127.09 L626.48,126.64 L627.86,126.20 L629.23,125.75 L630.62,125.30 L632.01,124.84 L633.41,124.39 L634.82,123.93 L636.23,123.47 L637.65,123.00 L639.08,122.54 L640.52,122.07 L641.96,121.60 L643.41,121.13 L644.87,120.65 L646.33,120.18 L647.81,119.70 L649.29,119.22 L650.78,118.73 L652.27,118.25 L653.78,117.76 L655.29,117.27 L656.81,116.77 L658.34,116.28 L659.87,115.78 L661.42,115.28 L662.97,114.77 L664.53,114.27 L666.10,113.76 L667.67,113.25 L669.26,112.74 L670.85,112.22 L672.45,111.71 L674.06,111.19 L675.68,110.66 L677.30,110.14 L678.93,109.61 L680.58,109.08 L682.23,108.55 L683.89,108.01 L685.56,107.48 L687.23,106.94" fill="none" stroke="#f27575" stroke-width="1.5" stroke-linejoin="round" />
</g>
<rect x="374.00" y="37.40" width="5.8" height="5.8" fill="#6590f8"/>
<rect x="385.20" y="104.00" width="5.8" height="5.8" fill="#6590f8"/>
<rect x="397.20" y="125.50" width="5.8" height="5.8" fill="#6590f8"/>
<rect x="408.70" y="130.20" width="5.8" height="5.8" fill="#6590f8"/>
<rect x="419.90" y="125.80" width="5.8" height="5.8" fill="#6590f8"/>
<rect x="431.60" y="122.20" width="5.8" height="5.8" fill="#6590f8"/>
<rect x="443.30" y="117.10" width="5.8" height="5.8" fill="#6590f8"/>
<rect x="455.10" y="109.60" width="5.8" height="5.8" fill="#6590f8"/>
<rect x="466.10" y="105.80" width="5.8" height="5.8" fill="#6590f8"/>
<rect x="477.60" y="98.10" width="5.8" height="5.8" fill="#6590f8"/>
<rect x="500.60" y="80.30" width="5.8" height="5.8" fill="#6590f8"/>
<rect x="523.80" y="60.80" width="5.8" height="5.8" fill="#6590f8"/>
<rect x="547.30" y="44.00" width="5.8" height="5.8" fill="#6590f8"/>
<circle cx="385.80" cy="131.60" r="3.1" fill="#f27575"/>
<circle cx="404.40" cy="164.70" r="3.1" fill="#f27575"/>
<circle cx="423.10" cy="175.00" r="3.1" fill="#f27575"/>
<circle cx="441.80" cy="175.20" r="3.1" fill="#f27575"/>
<circle cx="460.40" cy="176.60" r="3.1" fill="#f27575"/>
<circle cx="478.70" cy="171.20" r="3.1" fill="#f27575"/>
<circle cx="496.70" cy="168.90" r="3.1" fill="#f27575"/>
<circle cx="514.40" cy="164.40" r="3.1" fill="#f27575"/>
<circle cx="531.00" cy="156.10" r="3.1" fill="#f27575"/>
<circle cx="548.80" cy="150.20" r="3.1" fill="#f27575"/>
<circle cx="581.50" cy="141.80" r="3.1" fill="#f27575"/>
<circle cx="613.70" cy="132.30" r="3.1" fill="#f27575"/>
<circle cx="643.90" cy="119.50" r="3.1" fill="#f27575"/>
<text x="511.60" y="37.80" font-size="13" font-weight="bold" text-anchor="middle" fill="#6590f8" >TPP</text>
<text x="601.30" y="113.20" font-size="13" font-weight="bold" text-anchor="middle" fill="#f27575" >OMP</text>
<rect x="361.57" y="279.37" width="317.00" height="198.10" fill="none" stroke="#000" stroke-width="1.15"/>
<line x1="356.77" y1="477.47" x2="361.57" y2="477.47" stroke="#000" stroke-width="1.15" />
<text x="353.37" y="480.57" font-size="9" font-weight="bold" text-anchor="end" fill="#000" >2.0</text>
<line x1="356.77" y1="444.45" x2="361.57" y2="444.45" stroke="#000" stroke-width="1.15" />
<text x="353.37" y="447.55" font-size="9" font-weight="bold" text-anchor="end" fill="#000" >2.5</text>
<line x1="356.77" y1="411.44" x2="361.57" y2="411.44" stroke="#000" stroke-width="1.15" />
<text x="353.37" y="414.54" font-size="9" font-weight="bold" text-anchor="end" fill="#000" >3.0</text>
<line x1="356.77" y1="378.42" x2="361.57" y2="378.42" stroke="#000" stroke-width="1.15" />
<text x="353.37" y="381.52" font-size="9" font-weight="bold" text-anchor="end" fill="#000" >3.5</text>
<line x1="356.77" y1="345.40" x2="361.57" y2="345.40" stroke="#000" stroke-width="1.15" />
<text x="353.37" y="348.50" font-size="9" font-weight="bold" text-anchor="end" fill="#000" >4.0</text>
<line x1="356.77" y1="312.39" x2="361.57" y2="312.39" stroke="#000" stroke-width="1.15" />
<text x="353.37" y="315.49" font-size="9" font-weight="bold" text-anchor="end" fill="#000" >4.5</text>
<line x1="356.77" y1="279.37" x2="361.57" y2="279.37" stroke="#000" stroke-width="1.15" />
<text x="353.37" y="282.47" font-size="9" font-weight="bold" text-anchor="end" fill="#000" >5.0</text>
<line x1="358.97" y1="460.96" x2="361.57" y2="460.96" stroke="#000" stroke-width="1.15" />
<line x1="358.97" y1="427.95" x2="361.57" y2="427.95" stroke="#000" stroke-width="1.15" />
<line x1="358.97" y1="394.93" x2="361.57" y2="394.93" stroke="#000" stroke-width="1.15" />
<line x1="358.97" y1="361.91" x2="361.57" y2="361.91" stroke="#000" stroke-width="1.15" />
<line x1="358.97" y1="328.89" x2="361.57" y2="328.89" stroke="#000" stroke-width="1.15" />
<line x1="358.97" y1="295.88" x2="361.57" y2="295.88" stroke="#000" stroke-width="1.15" />
<line x1="388.17" y1="477.47" x2="388.17" y2="482.57" stroke="#000" stroke-width="1.15" />
<text x="388.17" y="493.00" font-size="9" font-weight="bold" text-anchor="middle" fill="#000" >0.2</text>
<line x1="420.43" y1="477.47" x2="420.43" y2="482.57" stroke="#000" stroke-width="1.15" />
<text x="420.43" y="493.00" font-size="9" font-weight="bold" text-anchor="middle" fill="#000" >0.4</text>
<line x1="452.70" y1="477.47" x2="452.70" y2="482.57" stroke="#000" stroke-width="1.15" />
<text x="452.70" y="493.00" font-size="9" font-weight="bold" text-anchor="middle" fill="#000" >0.6</text>
<line x1="484.96" y1="477.47" x2="484.96" y2="482.57" stroke="#000" stroke-width="1.15" />
<text x="484.96" y="493.00" font-size="9" font-weight="bold" text-anchor="middle" fill="#000" >0.8</text>
<line x1="517.23" y1="477.47" x2="517.23" y2="482.57" stroke="#000" stroke-width="1.15" />
<text x="517.23" y="493.00" font-size="9" font-weight="bold" text-anchor="middle" fill="#000" >1.0</text>
<line x1="549.50" y1="477.47" x2="549.50" y2="482.57" stroke="#000" stroke-width="1.15" />
<text x="549.50" y="493.00" font-size="9" font-weight="bold" text-anchor="middle" fill="#000" >1.2</text>
<line x1="581.76" y1="477.47" x2="581.76" y2="482.57" stroke="#000" stroke-width="1.15" />
<text x="581.76" y="493.00" font-size="9" font-weight="bold" text-anchor="middle" fill="#000" >1.4</text>
<line x1="614.03" y1="477.47" x2="614.03" y2="482.57" stroke="#000" stroke-width="1.15" />
<text x="614.03" y="493.00" font-size="9" font-weight="bold" text-anchor="middle" fill="#000" >1.6</text>
<line x1="646.29" y1="477.47" x2="646.29" y2="482.57" stroke="#000" stroke-width="1.15" />
<text x="646.29" y="493.00" font-size="9" font-weight="bold" text-anchor="middle" fill="#000" >1.8</text>
<line x1="678.56" y1="477.47" x2="678.56" y2="482.57" stroke="#000" stroke-width="1.15" />
<text x="678.56" y="493.00" font-size="9" font-weight="bold" text-anchor="middle" fill="#000" >2.0</text>
<line x1="372.03" y1="477.47" x2="372.03" y2="480.07" stroke="#000" stroke-width="1.15" />
<line x1="404.30" y1="477.47" x2="404.30" y2="480.07" stroke="#000" stroke-width="1.15" />
<line x1="436.56" y1="477.47" x2="436.56" y2="480.07" stroke="#000" stroke-width="1.15" />
<line x1="468.83" y1="477.47" x2="468.83" y2="480.07" stroke="#000" stroke-width="1.15" />
<line x1="501.10" y1="477.47" x2="501.10" y2="480.07" stroke="#000" stroke-width="1.15" />
<line x1="533.36" y1="477.47" x2="533.36" y2="480.07" stroke="#000" stroke-width="1.15" />
<line x1="565.63" y1="477.47" x2="565.63" y2="480.07" stroke="#000" stroke-width="1.15" />
<line x1="597.89" y1="477.47" x2="597.89" y2="480.07" stroke="#000" stroke-width="1.15" />
<line x1="630.16" y1="477.47" x2="630.16" y2="480.07" stroke="#000" stroke-width="1.15" />
<line x1="662.43" y1="477.47" x2="662.43" y2="480.07" stroke="#000" stroke-width="1.15" />
<text x="511.20" y="511.00" font-size="13.2" font-weight="bold" text-anchor="middle" fill="#000" >Rs</text>
<text transform="translate(328.6,378.3) rotate(-90)" font-size="13.3" font-weight="bold" text-anchor="middle" fill="#000">log(t<tspan font-size="9.5" dy="3">0</tspan><tspan dy="-3">/Rs)</tspan></text>
<text x="306.50" y="278.70" font-size="22" font-weight="bold" text-anchor="start" fill="#000" >d</text>
<clipPath id="dc"><rect x="361.57" y="279.37" width="317.00000000000006" height="198.10000000000002"/></clipPath>
<g clip-path="url(#dc)">
<path d="M360.74,264.72 L360.79,265.02 L360.84,265.33 L360.90,265.63 L360.95,265.93 L361.00,266.23 L361.06,266.54 L361.11,266.84 L361.17,267.14 L361.22,267.45 L361.28,267.75 L361.34,268.05 L361.39,268.35 L361.45,268.66 L361.51,268.96 L361.57,269.26 L361.63,269.57 L361.69,269.87 L361.75,270.17 L361.82,270.48 L361.88,270.78 L361.94,271.08 L362.01,271.38 L362.07,271.69 L362.14,271.99 L362.20,272.29 L362.27,272.60 L362.34,272.90 L362.41,273.20 L362.47,273.50 L362.54,273.81 L362.61,274.11 L362.69,274.41 L362.76,274.72 L362.83,275.02 L362.90,275.32 L362.98,275.62 L363.05,275.93 L363.13,276.23 L363.21,276.53 L363.28,276.84 L363.36,277.14 L363.44,277.44 L363.52,277.74 L363.60,278.05 L363.68,278.35 L363.77,278.65 L363.85,278.96 L363.94,279.26 L364.02,279.56 L364.11,279.86 L364.19,280.17 L364.28,280.47 L364.37,280.77 L364.46,281.08 L364.55,281.38 L364.64,281.68 L364.74,281.98 L364.83,282.29 L364.92,282.59 L365.02,282.89 L365.12,283.20 L365.22,283.50 L365.31,283.80 L365.41,284.10 L365.52,284.41 L365.62,284.71 L365.72,285.01 L365.82,285.32 L365.93,285.62 L366.04,285.92 L366.14,286.22 L366.25,286.53 L366.36,286.83 L366.47,287.13 L366.59,287.44 L366.70,287.74 L366.81,288.04 L366.93,288.34 L367.05,288.65 L367.17,288.95 L367.29,289.25 L367.41,289.56 L367.53,289.86 L367.65,290.16 L367.78,290.46 L367.90,290.77 L368.03,291.07 L368.16,291.37 L368.29,291.68 L368.42,291.98 L368.55,292.28 L368.69,292.58 L368.82,292.89 L368.96,293.19 L369.10,293.49 L369.24,293.80 L369.38,294.10 L369.52,294.40 L369.67,294.70 L369.82,295.01 L369.96,295.31 L370.11,295.61 L370.26,295.92 L370.42,296.22 L370.57,296.52 L370.73,296.82 L370.88,297.13 L371.04,297.43 L371.20,297.73 L371.37,298.04 L371.53,298.34 L371.70,298.64 L371.86,298.94 L372.03,299.25 L372.20,299.55 L372.38,299.85 L372.55,300.16 L372.73,300.46 L372.91,300.76 L373.09,301.06 L373.27,301.37 L373.45,301.67 L373.64,301.97 L373.83,302.28 L374.02,302.58 L374.21,302.88 L374.41,303.18 L374.60,303.49 L374.80,303.79 L375.00,304.09 L375.21,304.40 L375.41,304.70 L375.62,305.00 L375.83,305.30 L376.04,305.61 L376.25,305.91 L376.47,306.21 L376.69,306.52 L376.91,306.82 L377.13,307.12 L377.36,307.42 L377.58,307.73 L377.81,308.03 L378.05,308.33 L378.28,308.64 L378.52,308.94 L378.76,309.24 L379.00,309.54 L379.25,309.85 L379.50,310.15 L379.75,310.45 L380.00,310.76 L380.25,311.06 L380.51,311.36 L380.77,311.67 L381.04,311.97 L381.31,312.27 L381.58,312.57 L381.85,312.88 L382.12,313.18 L382.40,313.48 L382.68,313.79 L382.97,314.09 L383.25,314.39 L383.55,314.69 L383.84,315.00 L384.14,315.30 L384.44,315.60 L384.74,315.91 L385.04,316.21 L385.35,316.51 L385.67,316.81 L385.98,317.12 L386.30,317.42 L386.62,317.72 L386.95,318.03 L387.28,318.33 L387.61,318.63 L387.95,318.93 L388.29,319.24 L388.63,319.54 L388.98,319.84 L389.33,320.15 L389.69,320.45 L390.05,320.75 L390.41,321.05 L390.78,321.36 L391.15,321.66 L391.52,321.96 L391.90,322.27 L392.28,322.57 L392.67,322.87 L393.06,323.17 L393.45,323.48 L393.85,323.78 L394.25,324.08 L394.66,324.39 L395.07,324.69 L395.49,324.99 L395.91,325.29 L396.33,325.60 L396.76,325.90 L397.20,326.20 L397.63,326.51 L398.08,326.81 L398.53,327.11 L398.98,327.41 L399.44,327.72 L399.90,328.02 L400.37,328.32 L400.84,328.63 L401.31,328.93 L401.80,329.23 L402.28,329.53 L402.78,329.84 L403.27,330.14 L403.78,330.44 L404.29,330.75 L404.80,331.05 L405.32,331.35 L405.84,331.65 L406.37,331.96 L406.91,332.26 L407.45,332.56 L408.00,332.87 L408.55,333.17 L409.11,333.47 L409.67,333.77 L410.25,334.08 L410.82,334.38 L411.41,334.68 L411.99,334.99 L412.59,335.29 L413.19,335.59 L413.80,335.89 L414.42,336.20 L415.04,336.50 L415.66,336.80 L416.30,337.11 L416.94,337.41 L417.59,337.71 L418.24,338.01 L418.91,338.32 L419.57,338.62 L420.25,338.92 L420.93,339.23 L421.62,339.53 L422.32,339.83 L423.03,340.13 L423.74,340.44 L424.46,340.74 L425.19,341.04 L425.92,341.35 L426.67,341.65 L427.42,341.95 L428.18,342.25 L428.94,342.56 L429.72,342.86 L430.50,343.16 L431.30,343.47 L432.10,343.77 L432.91,344.07 L433.72,344.37 L434.55,344.68 L435.38,344.98 L436.23,345.28 L437.08,345.59 L437.94,345.89 L438.81,346.19 L439.69,346.49 L440.58,346.80 L441.48,347.10 L442.39,347.40 L443.31,347.71 L444.24,348.01 L445.18,348.31 L446.12,348.61 L447.08,348.92 L448.05,349.22 L449.03,349.52 L450.02,349.83 L451.02,350.13 L452.03,350.43 L453.05,350.73 L454.08,351.04 L455.12,351.34 L456.17,351.64 L457.24,351.95 L458.31,352.25 L459.40,352.55 L460.50,352.85 L461.61,353.16 L462.73,353.46 L463.87,353.76 L465.01,354.07 L466.17,354.37 L467.34,354.67 L468.53,354.98 L469.72,355.28 L470.93,355.58 L472.15,355.88 L473.39,356.19 L474.63,356.49 L475.89,356.79 L477.17,357.10 L478.45,357.40 L479.76,357.70 L481.07,358.00 L482.40,358.31 L483.74,358.61 L485.10,358.91 L486.47,359.22 L487.86,359.52 L489.26,359.82 L490.68,360.12 L492.11,360.43 L493.55,360.73 L495.01,361.03 L496.49,361.34 L497.98,361.64 L499.49,361.94 L501.02,362.24 L502.56,362.55 L504.11,362.85 L505.69,363.15 L507.28,363.46 L508.88,363.76 L510.51,364.06 L512.15,364.36 L513.81,364.67 L515.49,364.97 L517.18,365.27 L518.89,365.58 L520.62,365.88 L522.37,366.18 L524.14,366.48 L525.93,366.79 L527.73,367.09 L529.56,367.39 L531.40,367.70 L533.26,368.00 L535.15,368.30 L537.05,368.60 L538.97,368.91 L540.92,369.21 L542.88,369.51 L544.86,369.82 L546.87,370.12 L548.90,370.42 L550.95,370.72 L553.02,371.03 L555.11,371.33 L557.23,371.63 L559.36,371.94 L561.52,372.24 L563.71,372.54 L565.91,372.84 L568.14,373.15 L570.40,373.45 L572.67,373.75 L574.97,374.06 L577.30,374.36 L579.65,374.66 L582.03,374.96 L584.43,375.27 L586.85,375.57 L589.31,375.87 L591.78,376.18 L594.29,376.48 L596.82,376.78 L599.38,377.08 L601.96,377.39 L604.57,377.69 L607.21,377.99 L609.88,378.30 L612.58,378.60 L615.30,378.90 L618.06,379.20 L620.84,379.51 L623.65,379.81 L626.50,380.11 L629.37,380.42 L632.27,380.72 L635.21,381.02 L638.17,381.32 L641.17,381.63 L644.20,381.93 L647.26,382.23 L650.35,382.54 L653.48,382.84 L656.64,383.14 L659.83,383.44 L663.06,383.75 L666.32,384.05 L669.62,384.35 L672.95,384.66 L676.31,384.96 L679.71,385.26 L683.15,385.56 L686.63,385.87" fill="none" stroke="#1a1a1a" stroke-width="1.05" stroke-linejoin="round" stroke-dasharray="3.2,4.53" stroke-dashoffset="2.6"/>
<path d="M360.74,310.88 L360.79,311.18 L360.84,311.48 L360.90,311.78 L360.95,312.09 L361.00,312.39 L361.06,312.69 L361.11,313.00 L361.17,313.30 L361.22,313.60 L361.28,313.90 L361.34,314.21 L361.39,314.51 L361.45,314.81 L361.51,315.12 L361.57,315.42 L361.63,315.72 L361.69,316.02 L361.75,316.33 L361.82,316.63 L361.88,316.93 L361.94,317.24 L362.01,317.54 L362.07,317.84 L362.14,318.14 L362.20,318.45 L362.27,318.75 L362.34,319.05 L362.41,319.36 L362.47,319.66 L362.54,319.96 L362.61,320.26 L362.69,320.57 L362.76,320.87 L362.83,321.17 L362.90,321.48 L362.98,321.78 L363.05,322.08 L363.13,322.38 L363.21,322.69 L363.28,322.99 L363.36,323.29 L363.44,323.60 L363.52,323.90 L363.60,324.20 L363.68,324.50 L363.77,324.81 L363.85,325.11 L363.94,325.41 L364.02,325.72 L364.11,326.02 L364.19,326.32 L364.28,326.63 L364.37,326.93 L364.46,327.23 L364.55,327.53 L364.64,327.84 L364.74,328.14 L364.83,328.44 L364.92,328.75 L365.02,329.05 L365.12,329.35 L365.22,329.65 L365.31,329.96 L365.41,330.26 L365.52,330.56 L365.62,330.87 L365.72,331.17 L365.82,331.47 L365.93,331.77 L366.04,332.08 L366.14,332.38 L366.25,332.68 L366.36,332.99 L366.47,333.29 L366.59,333.59 L366.70,333.89 L366.81,334.20 L366.93,334.50 L367.05,334.80 L367.17,335.11 L367.29,335.41 L367.41,335.71 L367.53,336.01 L367.65,336.32 L367.78,336.62 L367.90,336.92 L368.03,337.23 L368.16,337.53 L368.29,337.83 L368.42,338.13 L368.55,338.44 L368.69,338.74 L368.82,339.04 L368.96,339.35 L369.10,339.65 L369.24,339.95 L369.38,340.25 L369.52,340.56 L369.67,340.86 L369.82,341.16 L369.96,341.47 L370.11,341.77 L370.26,342.07 L370.42,342.37 L370.57,342.68 L370.73,342.98 L370.88,343.28 L371.04,343.59 L371.20,343.89 L371.37,344.19 L371.53,344.49 L371.70,344.80 L371.86,345.10 L372.03,345.40 L372.20,345.71 L372.38,346.01 L372.55,346.31 L372.73,346.61 L372.91,346.92 L373.09,347.22 L373.27,347.52 L373.45,347.83 L373.64,348.13 L373.83,348.43 L374.02,348.73 L374.21,349.04 L374.41,349.34 L374.60,349.64 L374.80,349.95 L375.00,350.25 L375.21,350.55 L375.41,350.85 L375.62,351.16 L375.83,351.46 L376.04,351.76 L376.25,352.07 L376.47,352.37 L376.69,352.67 L376.91,352.97 L377.13,353.28 L377.36,353.58 L377.58,353.88 L377.81,354.19 L378.05,354.49 L378.28,354.79 L378.52,355.09 L378.76,355.40 L379.00,355.70 L379.25,356.00 L379.50,356.31 L379.75,356.61 L380.00,356.91 L380.25,357.21 L380.51,357.52 L380.77,357.82 L381.04,358.12 L381.31,358.43 L381.58,358.73 L381.85,359.03 L382.12,359.33 L382.40,359.64 L382.68,359.94 L382.97,360.24 L383.25,360.55 L383.55,360.85 L383.84,361.15 L384.14,361.45 L384.44,361.76 L384.74,362.06 L385.04,362.36 L385.35,362.67 L385.67,362.97 L385.98,363.27 L386.30,363.57 L386.62,363.88 L386.95,364.18 L387.28,364.48 L387.61,364.79 L387.95,365.09 L388.29,365.39 L388.63,365.69 L388.98,366.00 L389.33,366.30 L389.69,366.60 L390.05,366.91 L390.41,367.21 L390.78,367.51 L391.15,367.81 L391.52,368.12 L391.90,368.42 L392.28,368.72 L392.67,369.03 L393.06,369.33 L393.45,369.63 L393.85,369.94 L394.25,370.24 L394.66,370.54 L395.07,370.84 L395.49,371.15 L395.91,371.45 L396.33,371.75 L396.76,372.06 L397.20,372.36 L397.63,372.66 L398.08,372.96 L398.53,373.27 L398.98,373.57 L399.44,373.87 L399.90,374.18 L400.37,374.48 L400.84,374.78 L401.31,375.08 L401.80,375.39 L402.28,375.69 L402.78,375.99 L403.27,376.30 L403.78,376.60 L404.29,376.90 L404.80,377.20 L405.32,377.51 L405.84,377.81 L406.37,378.11 L406.91,378.42 L407.45,378.72 L408.00,379.02 L408.55,379.32 L409.11,379.63 L409.67,379.93 L410.25,380.23 L410.82,380.54 L411.41,380.84 L411.99,381.14 L412.59,381.44 L413.19,381.75 L413.80,382.05 L414.42,382.35 L415.04,382.66 L415.66,382.96 L416.30,383.26 L416.94,383.56 L417.59,383.87 L418.24,384.17 L418.91,384.47 L419.57,384.78 L420.25,385.08 L420.93,385.38 L421.62,385.68 L422.32,385.99 L423.03,386.29 L423.74,386.59 L424.46,386.90 L425.19,387.20 L425.92,387.50 L426.67,387.80 L427.42,388.11 L428.18,388.41 L428.94,388.71 L429.72,389.02 L430.50,389.32 L431.30,389.62 L432.10,389.92 L432.91,390.23 L433.72,390.53 L434.55,390.83 L435.38,391.14 L436.23,391.44 L437.08,391.74 L437.94,392.04 L438.81,392.35 L439.69,392.65 L440.58,392.95 L441.48,393.26 L442.39,393.56 L443.31,393.86 L444.24,394.16 L445.18,394.47 L446.12,394.77 L447.08,395.07 L448.05,395.38 L449.03,395.68 L450.02,395.98 L451.02,396.28 L452.03,396.59 L453.05,396.89 L454.08,397.19 L455.12,397.50 L456.17,397.80 L457.24,398.10 L458.31,398.40 L459.40,398.71 L460.50,399.01 L461.61,399.31 L462.73,399.62 L463.87,399.92 L465.01,400.22 L466.17,400.52 L467.34,400.83 L468.53,401.13 L469.72,401.43 L470.93,401.74 L472.15,402.04 L473.39,402.34 L474.63,402.64 L475.89,402.95 L477.17,403.25 L478.45,403.55 L479.76,403.86 L481.07,404.16 L482.40,404.46 L483.74,404.76 L485.10,405.07 L486.47,405.37 L487.86,405.67 L489.26,405.98 L490.68,406.28 L492.11,406.58 L493.55,406.88 L495.01,407.19 L496.49,407.49 L497.98,407.79 L499.49,408.10 L501.02,408.40 L502.56,408.70 L504.11,409.00 L505.69,409.31 L507.28,409.61 L508.88,409.91 L510.51,410.22 L512.15,410.52 L513.81,410.82 L515.49,411.12 L517.18,411.43 L518.89,411.73 L520.62,412.03 L522.37,412.34 L524.14,412.64 L525.93,412.94 L527.73,413.25 L529.56,413.55 L531.40,413.85 L533.26,414.15 L535.15,414.46 L537.05,414.76 L538.97,415.06 L540.92,415.37 L542.88,415.67 L544.86,415.97 L546.87,416.27 L548.90,416.58 L550.95,416.88 L553.02,417.18 L555.11,417.49 L557.23,417.79 L559.36,418.09 L561.52,418.39 L563.71,418.70 L565.91,419.00 L568.14,419.30 L570.40,419.61 L572.67,419.91 L574.97,420.21 L577.30,420.51 L579.65,420.82 L582.03,421.12 L584.43,421.42 L586.85,421.73 L589.31,422.03 L591.78,422.33 L594.29,422.63 L596.82,422.94 L599.38,423.24 L601.96,423.54 L604.57,423.85 L607.21,424.15 L609.88,424.45 L612.58,424.75 L615.30,425.06 L618.06,425.36 L620.84,425.66 L623.65,425.97 L626.50,426.27 L629.37,426.57 L632.27,426.87 L635.21,427.18 L638.17,427.48 L641.17,427.78 L644.20,428.09 L647.26,428.39 L650.35,428.69 L653.48,428.99 L656.64,429.30 L659.83,429.60 L663.06,429.90 L666.32,430.21 L669.62,430.51 L672.95,430.81 L676.31,431.11 L679.71,431.42 L683.15,431.72 L686.63,432.02" fill="none" stroke="#1a1a1a" stroke-width="1.05" stroke-linejoin="round" stroke-dasharray="3.2,4.53" stroke-dashoffset="2.65"/>
<path d="M360.74,376.91 L360.79,377.21 L360.84,377.51 L360.90,377.82 L360.95,378.12 L361.00,378.42 L361.06,378.73 L361.11,379.03 L361.17,379.33 L361.22,379.64 L361.28,379.94 L361.34,380.24 L361.39,380.54 L361.45,380.85 L361.51,381.15 L361.57,381.45 L361.63,381.76 L361.69,382.06 L361.75,382.36 L361.82,382.66 L361.88,382.97 L361.94,383.27 L362.01,383.57 L362.07,383.88 L362.14,384.18 L362.20,384.48 L362.27,384.78 L362.34,385.09 L362.41,385.39 L362.47,385.69 L362.54,386.00 L362.61,386.30 L362.69,386.60 L362.76,386.90 L362.83,387.21 L362.90,387.51 L362.98,387.81 L363.05,388.12 L363.13,388.42 L363.21,388.72 L363.28,389.02 L363.36,389.33 L363.44,389.63 L363.52,389.93 L363.60,390.24 L363.68,390.54 L363.77,390.84 L363.85,391.14 L363.94,391.45 L364.02,391.75 L364.11,392.05 L364.19,392.36 L364.28,392.66 L364.37,392.96 L364.46,393.26 L364.55,393.57 L364.64,393.87 L364.74,394.17 L364.83,394.48 L364.92,394.78 L365.02,395.08 L365.12,395.38 L365.22,395.69 L365.31,395.99 L365.41,396.29 L365.52,396.60 L365.62,396.90 L365.72,397.20 L365.82,397.50 L365.93,397.81 L366.04,398.11 L366.14,398.41 L366.25,398.72 L366.36,399.02 L366.47,399.32 L366.59,399.62 L366.70,399.93 L366.81,400.23 L366.93,400.53 L367.05,400.84 L367.17,401.14 L367.29,401.44 L367.41,401.74 L367.53,402.05 L367.65,402.35 L367.78,402.65 L367.90,402.96 L368.03,403.26 L368.16,403.56 L368.29,403.86 L368.42,404.17 L368.55,404.47 L368.69,404.77 L368.82,405.08 L368.96,405.38 L369.10,405.68 L369.24,405.98 L369.38,406.29 L369.52,406.59 L369.67,406.89 L369.82,407.20 L369.96,407.50 L370.11,407.80 L370.26,408.10 L370.42,408.41 L370.57,408.71 L370.73,409.01 L370.88,409.32 L371.04,409.62 L371.20,409.92 L371.37,410.22 L371.53,410.53 L371.70,410.83 L371.86,411.13 L372.03,411.44 L372.20,411.74 L372.38,412.04 L372.55,412.34 L372.73,412.65 L372.91,412.95 L373.09,413.25 L373.27,413.56 L373.45,413.86 L373.64,414.16 L373.83,414.46 L374.02,414.77 L374.21,415.07 L374.41,415.37 L374.60,415.68 L374.80,415.98 L375.00,416.28 L375.21,416.58 L375.41,416.89 L375.62,417.19 L375.83,417.49 L376.04,417.80 L376.25,418.10 L376.47,418.40 L376.69,418.70 L376.91,419.01 L377.13,419.31 L377.36,419.61 L377.58,419.92 L377.81,420.22 L378.05,420.52 L378.28,420.82 L378.52,421.13 L378.76,421.43 L379.00,421.73 L379.25,422.04 L379.50,422.34 L379.75,422.64 L380.00,422.95 L380.25,423.25 L380.51,423.55 L380.77,423.85 L381.04,424.16 L381.31,424.46 L381.58,424.76 L381.85,425.07 L382.12,425.37 L382.40,425.67 L382.68,425.97 L382.97,426.28 L383.25,426.58 L383.55,426.88 L383.84,427.19 L384.14,427.49 L384.44,427.79 L384.74,428.09 L385.04,428.40 L385.35,428.70 L385.67,429.00 L385.98,429.31 L386.30,429.61 L386.62,429.91 L386.95,430.21 L387.28,430.52 L387.61,430.82 L387.95,431.12 L388.29,431.43 L388.63,431.73 L388.98,432.03 L389.33,432.33 L389.69,432.64 L390.05,432.94 L390.41,433.24 L390.78,433.55 L391.15,433.85 L391.52,434.15 L391.90,434.45 L392.28,434.76 L392.67,435.06 L393.06,435.36 L393.45,435.67 L393.85,435.97 L394.25,436.27 L394.66,436.57 L395.07,436.88 L395.49,437.18 L395.91,437.48 L396.33,437.79 L396.76,438.09 L397.20,438.39 L397.63,438.69 L398.08,439.00 L398.53,439.30 L398.98,439.60 L399.44,439.91 L399.90,440.21 L400.37,440.51 L400.84,440.81 L401.31,441.12 L401.80,441.42 L402.28,441.72 L402.78,442.03 L403.27,442.33 L403.78,442.63 L404.29,442.93 L404.80,443.24 L405.32,443.54 L405.84,443.84 L406.37,444.15 L406.91,444.45 L407.45,444.75 L408.00,445.05 L408.55,445.36 L409.11,445.66 L409.67,445.96 L410.25,446.27 L410.82,446.57 L411.41,446.87 L411.99,447.17 L412.59,447.48 L413.19,447.78 L413.80,448.08 L414.42,448.39 L415.04,448.69 L415.66,448.99 L416.30,449.29 L416.94,449.60 L417.59,449.90 L418.24,450.20 L418.91,450.51 L419.57,450.81 L420.25,451.11 L420.93,451.41 L421.62,451.72 L422.32,452.02 L423.03,452.32 L423.74,452.63 L424.46,452.93 L425.19,453.23 L425.92,453.53 L426.67,453.84 L427.42,454.14 L428.18,454.44 L428.94,454.75 L429.72,455.05 L430.50,455.35 L431.30,455.65 L432.10,455.96 L432.91,456.26 L433.72,456.56 L434.55,456.87 L435.38,457.17 L436.23,457.47 L437.08,457.77 L437.94,458.08 L438.81,458.38 L439.69,458.68 L440.58,458.99 L441.48,459.29 L442.39,459.59 L443.31,459.89 L444.24,460.20 L445.18,460.50 L446.12,460.80 L447.08,461.11 L448.05,461.41 L449.03,461.71 L450.02,462.01 L451.02,462.32 L452.03,462.62 L453.05,462.92 L454.08,463.23 L455.12,463.53 L456.17,463.83 L457.24,464.14 L458.31,464.44 L459.40,464.74 L460.50,465.04 L461.61,465.35 L462.73,465.65 L463.87,465.95 L465.01,466.26 L466.17,466.56 L467.34,466.86 L468.53,467.16 L469.72,467.47 L470.93,467.77 L472.15,468.07 L473.39,468.38 L474.63,468.68 L475.89,468.98 L477.17,469.28 L478.45,469.59 L479.76,469.89 L481.07,470.19 L482.40,470.50 L483.74,470.80 L485.10,471.10 L486.47,471.40 L487.86,471.71 L489.26,472.01 L490.68,472.31 L492.11,472.62 L493.55,472.92 L495.01,473.22 L496.49,473.52 L497.98,473.83 L499.49,474.13 L501.02,474.43 L502.56,474.74 L504.11,475.04 L505.69,475.34 L507.28,475.64 L508.88,475.95 L510.51,476.25 L512.15,476.55 L513.81,476.86 L515.49,477.16 L517.18,477.46 L518.89,477.76 L520.62,478.07 L522.37,478.37 L524.14,478.67 L525.93,478.98 L527.73,479.28 L529.56,479.58 L531.40,479.88 L533.26,480.19 L535.15,480.49 L537.05,480.79 L538.97,481.10 L540.92,481.40 L542.88,481.70 L544.86,482.00 L546.87,482.31 L548.90,482.61 L550.95,482.91 L553.02,483.22 L555.11,483.52 L557.23,483.82 L559.36,484.12 L561.52,484.43 L563.71,484.73 L565.91,485.03 L568.14,485.34 L570.40,485.64 L572.67,485.94 L574.97,486.24 L577.30,486.55 L579.65,486.85 L582.03,487.15 L584.43,487.46 L586.85,487.76 L589.31,488.06 L591.78,488.36 L594.29,488.67 L596.82,488.97 L599.38,489.27 L601.96,489.58 L604.57,489.88 L607.21,490.18 L609.88,490.48 L612.58,490.79 L615.30,491.09 L618.06,491.39 L620.84,491.70 L623.65,492.00 L626.50,492.30 L629.37,492.60 L632.27,492.91 L635.21,493.21 L638.17,493.51 L641.17,493.82 L644.20,494.12 L647.26,494.42 L650.35,494.72 L653.48,495.03 L656.64,495.33 L659.83,495.63 L663.06,495.94 L666.32,496.24 L669.62,496.54 L672.95,496.84 L676.31,497.15 L679.71,497.45 L683.15,497.75 L686.63,498.06" fill="none" stroke="#1a1a1a" stroke-width="1.05" stroke-linejoin="round" stroke-dasharray="3.2,4.53" stroke-dashoffset="2.55"/>
</g>
<rect x="416.70" y="452.10" width="4.4" height="4.4" fill="#fff" stroke="#6590f8" stroke-width="1.25"/>
<rect x="424.90" y="449.10" width="4.4" height="4.4" fill="#fff" stroke="#6590f8" stroke-width="1.25"/>
<rect x="431.50" y="444.10" width="4.4" height="4.4" fill="#fff" stroke="#6590f8" stroke-width="1.25"/>
<rect x="442.30" y="439.00" width="4.4" height="4.4" fill="#fff" stroke="#6590f8" stroke-width="1.25"/>
<rect x="449.30" y="436.50" width="4.4" height="4.4" fill="#fff" stroke="#6590f8" stroke-width="1.25"/>
<rect x="454.00" y="432.40" width="4.4" height="4.4" fill="#fff" stroke="#6590f8" stroke-width="1.25"/>
<rect x="459.80" y="428.30" width="4.4" height="4.4" fill="#fff" stroke="#6590f8" stroke-width="1.25"/>
<rect x="471.50" y="423.60" width="4.4" height="4.4" fill="#fff" stroke="#6590f8" stroke-width="1.25"/>
<rect x="482.30" y="417.40" width="4.4" height="4.4" fill="#fff" stroke="#6590f8" stroke-width="1.25"/>
<rect x="499.30" y="408.70" width="4.4" height="4.4" fill="#fff" stroke="#6590f8" stroke-width="1.25"/>
<rect x="509.10" y="401.20" width="4.4" height="4.4" fill="#fff" stroke="#6590f8" stroke-width="1.25"/>
<rect x="523.30" y="385.10" width="4.4" height="4.4" fill="#fff" stroke="#6590f8" stroke-width="1.25"/>
<rect x="534.00" y="360.40" width="4.4" height="4.4" fill="#fff" stroke="#6590f8" stroke-width="1.25"/>
<circle cx="428.60" cy="454.30" r="2.55" fill="#fff" stroke="#f27575" stroke-width="1.25"/>
<circle cx="435.30" cy="450.90" r="2.55" fill="#fff" stroke="#f27575" stroke-width="1.25"/>
<circle cx="444.50" cy="446.80" r="2.55" fill="#fff" stroke="#f27575" stroke-width="1.25"/>
<circle cx="453.90" cy="442.00" r="2.55" fill="#fff" stroke="#f27575" stroke-width="1.25"/>
<circle cx="460.80" cy="438.90" r="2.55" fill="#fff" stroke="#f27575" stroke-width="1.25"/>
<circle cx="469.60" cy="435.50" r="2.55" fill="#fff" stroke="#f27575" stroke-width="1.25"/>
<circle cx="478.80" cy="431.70" r="2.55" fill="#fff" stroke="#f27575" stroke-width="1.25"/>
<circle cx="492.60" cy="427.30" r="2.55" fill="#fff" stroke="#f27575" stroke-width="1.25"/>
<circle cx="507.50" cy="421.90" r="2.55" fill="#fff" stroke="#f27575" stroke-width="1.25"/>
<circle cx="522.30" cy="414.20" r="2.55" fill="#fff" stroke="#f27575" stroke-width="1.25"/>
<circle cx="541.00" cy="404.30" r="2.55" fill="#fff" stroke="#f27575" stroke-width="1.25"/>
<circle cx="562.00" cy="389.90" r="2.55" fill="#fff" stroke="#f27575" stroke-width="1.25"/>
<circle cx="594.90" cy="365.40" r="2.55" fill="#fff" stroke="#f27575" stroke-width="1.25"/>
<text x="368.5" y="310.5" font-size="11" fill="#222">t<tspan font-size="8" dy="2">0</tspan><tspan dy="-2">=5000 min</tspan></text>
<text x="368.5" y="375.6" font-size="11" fill="#222">t<tspan font-size="8" dy="2">0</tspan><tspan dy="-2">=1000 min</tspan></text>
<text x="368.5" y="437.6" font-size="11" fill="#222">t<tspan font-size="8" dy="2">0</tspan><tspan dy="-2">=100 min</tspan></text>
<text x="511.60" y="353.80" font-size="13" font-weight="bold" text-anchor="middle" fill="#6590f8" >TPP</text>
<text x="598.00" y="398.40" font-size="13" font-weight="bold" text-anchor="middle" fill="#f27575" >OMP</text>
<!--foot-->
<rect x="32.14" y="82.49" width="1.99" height="1.92" fill="#fff"/>
<rect x="35.76" y="82.49" width="1.72" height="1.92" fill="#fff"/>
<rect x="32.14" y="44.11" width="1.99" height="1.92" fill="#fff"/>
<rect x="35.76" y="44.11" width="1.72" height="1.92" fill="#fff"/>
<rect x="86.08" y="217.53" width="1.99" height="1.92" fill="#fff"/>
<rect x="89.70" y="217.53" width="1.72" height="1.92" fill="#fff"/>
<rect x="108.83" y="35.72" width="2.67" height="2.33" fill="#fff"/>
<rect x="113.69" y="35.72" width="2.36" height="2.33" fill="#fff"/>
<rect x="116.53" y="124.92" width="2.67" height="2.33" fill="#fff"/>
<rect x="121.39" y="124.92" width="2.36" height="2.33" fill="#fff"/>
<rect x="35.43" y="346.80" width="1.90" height="1.87" fill="#fff"/>
<rect x="38.90" y="346.80" width="1.64" height="1.87" fill="#fff"/>
<rect x="35.43" y="320.39" width="1.90" height="1.87" fill="#fff"/>
<rect x="38.90" y="320.39" width="1.64" height="1.87" fill="#fff"/>
<rect x="35.43" y="293.98" width="1.90" height="1.87" fill="#fff"/>
<rect x="38.90" y="293.98" width="1.64" height="1.87" fill="#fff"/>
<rect x="84.57" y="490.07" width="2.59" height="2.28" fill="#fff"/>
<rect x="89.28" y="490.07" width="2.28" height="2.28" fill="#fff"/>
<rect x="547.29" y="217.03" width="1.99" height="1.92" fill="#fff"/>
<rect x="550.91" y="217.03" width="1.72" height="1.92" fill="#fff"/>
<rect x="610.75" y="217.03" width="1.99" height="1.92" fill="#fff"/>
<rect x="614.37" y="217.03" width="1.72" height="1.92" fill="#fff"/>
<rect x="510.89" y="491.53" width="1.99" height="1.92" fill="#fff"/>
<rect x="514.51" y="491.53" width="1.72" height="1.92" fill="#fff"/>
<rect x="543.16" y="491.53" width="1.99" height="1.92" fill="#fff"/>
<rect x="546.78" y="491.53" width="1.72" height="1.92" fill="#fff"/>
<rect x="575.42" y="491.53" width="1.99" height="1.92" fill="#fff"/>
<rect x="579.04" y="491.53" width="1.72" height="1.92" fill="#fff"/>
<rect x="607.69" y="491.53" width="1.99" height="1.92" fill="#fff"/>
<rect x="611.31" y="491.53" width="1.72" height="1.92" fill="#fff"/>
<rect x="639.95" y="491.53" width="1.99" height="1.92" fill="#fff"/>
<rect x="643.57" y="491.53" width="1.72" height="1.92" fill="#fff"/>
<rect x="382.63" y="374.23" width="2.38" height="1.82" fill="#fff"/>
<rect x="386.38" y="374.23" width="2.14" height="1.82" fill="#fff"/>
<rect x="382.63" y="436.23" width="2.38" height="1.82" fill="#fff"/>
<rect x="386.38" y="436.23" width="2.14" height="1.82" fill="#fff"/>
</svg>
</body></html>
